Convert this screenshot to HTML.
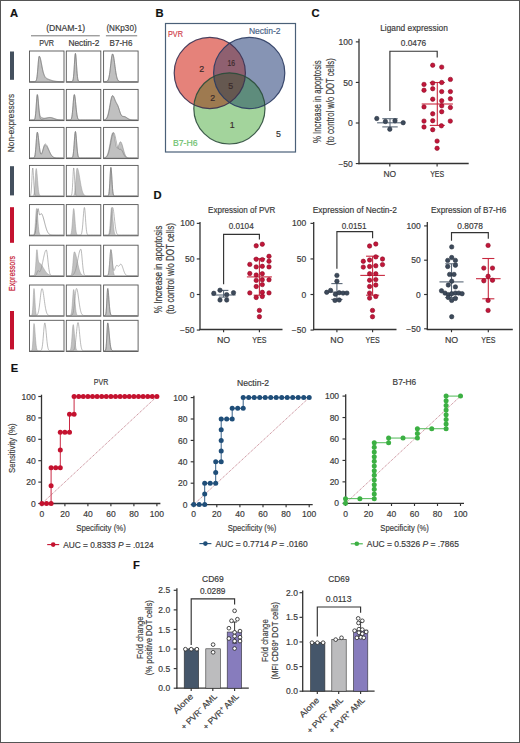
<!DOCTYPE html>
<html><head><meta charset="utf-8"><style>
html,body{margin:0;padding:0;background:#fff;width:520px;height:743px;overflow:hidden}
svg{display:block}
text{font-family:"Liberation Sans",sans-serif;stroke:currentColor;stroke-width:0.18px;paint-order:stroke}
</style></head><body>
<svg width="520" height="743" viewBox="0 0 520 743">
<rect width="520" height="743" fill="#fff"/>
<rect x="0.00" y="0.00" width="520.00" height="1.00" fill="#555"/>
<rect x="0.00" y="742.00" width="520.00" height="1.00" fill="#555"/>
<rect x="0.00" y="0.00" width="1.00" height="743.00" fill="#555"/>
<rect x="519.00" y="0.00" width="1.00" height="743.00" fill="#555"/>
<text x="9.90" y="16.90" font-size="11.2" font-weight="bold" fill="#111" color="#111">A</text>
<text x="155.40" y="17.40" font-size="11.2" font-weight="bold" fill="#111" color="#111">B</text>
<text x="311.40" y="17.00" font-size="11.2" font-weight="bold" fill="#111" color="#111">C</text>
<text x="153.40" y="199.30" font-size="11.2" font-weight="bold" fill="#111" color="#111">D</text>
<text x="10.80" y="371.70" font-size="11.2" font-weight="bold" fill="#111" color="#111">E</text>
<text x="133.00" y="568.70" font-size="11.2" font-weight="bold" fill="#111" color="#111">F</text>
<text x="65.70" y="31.10" font-size="8.5" text-anchor="middle" textLength="39.00" lengthAdjust="spacingAndGlyphs" fill="#3a3a3a" color="#3a3a3a">(DNAM-1)</text>
<text x="121.50" y="31.10" font-size="8.5" text-anchor="middle" textLength="30.20" lengthAdjust="spacingAndGlyphs" fill="#3a3a3a" color="#3a3a3a">(NKp30)</text>
<line x1="31.00" y1="35.80" x2="99.80" y2="35.80" stroke="#777" stroke-width="1.0"/>
<line x1="105.90" y1="35.80" x2="137.20" y2="35.80" stroke="#777" stroke-width="1.0"/>
<text x="46.60" y="45.80" font-size="8.2" text-anchor="middle" textLength="14.80" lengthAdjust="spacingAndGlyphs" fill="#3a3a3a" color="#3a3a3a">PVR</text>
<text x="83.90" y="45.80" font-size="8.2" text-anchor="middle" textLength="31.00" lengthAdjust="spacingAndGlyphs" fill="#3a3a3a" color="#3a3a3a">Nectin-2</text>
<text x="121.00" y="45.80" font-size="8.2" text-anchor="middle" textLength="22.80" lengthAdjust="spacingAndGlyphs" fill="#3a3a3a" color="#3a3a3a">B7-H6</text>
<rect x="10.00" y="51.50" width="4.00" height="28.30" fill="#44505e"/>
<rect x="10.00" y="166.20" width="4.00" height="29.20" fill="#44505e"/>
<rect x="10.00" y="207.20" width="4.00" height="35.60" fill="#c4122f"/>
<rect x="10.00" y="311.00" width="4.00" height="38.40" fill="#c4122f"/>
<text transform="translate(14.40,123.00) rotate(-90)" x="0" y="0" font-size="9.2" text-anchor="middle" textLength="58.40" lengthAdjust="spacingAndGlyphs" fill="#444" color="#444">Non-expressors</text>
<text transform="translate(14.60,273.50) rotate(-90)" x="0" y="0" font-size="9.2" text-anchor="middle" textLength="35.00" lengthAdjust="spacingAndGlyphs" fill="#c4122f" color="#c4122f">Expressors</text>
<path d="M30.10,81.60 L30.10,81.60 L30.38,81.60 L30.66,81.60 L30.93,81.60 L31.21,81.60 L31.49,81.60 L31.77,81.60 L32.04,81.60 L32.32,81.60 L32.60,81.60 L32.88,81.60 L33.15,81.60 L33.43,81.60 L33.71,81.60 L33.98,81.60 L34.26,81.59 L34.54,81.59 L34.82,81.57 L35.09,81.53 L35.37,81.44 L35.65,81.28 L35.93,80.99 L36.20,80.48 L36.48,79.66 L36.76,78.40 L37.04,76.62 L37.31,74.24 L37.59,71.30 L37.87,67.92 L38.15,64.39 L38.42,61.06 L38.70,58.36 L38.98,56.67 L39.26,56.20 L39.53,56.37 L39.81,56.84 L40.09,57.60 L40.37,58.61 L40.64,59.82 L40.92,61.18 L41.20,62.64 L41.48,64.15 L41.76,65.67 L42.03,67.16 L42.31,68.59 L42.59,69.93 L42.87,71.16 L43.14,72.29 L43.42,73.32 L43.70,74.25 L43.98,75.09 L44.25,75.83 L44.53,76.45 L44.81,76.97 L45.09,77.40 L45.36,77.75 L45.64,78.04 L45.92,78.29 L46.20,78.49 L46.47,78.67 L46.75,78.82 L47.03,78.96 L47.30,79.08 L47.58,79.20 L47.86,79.32 L48.14,79.43 L48.41,79.53 L48.69,79.64 L48.97,79.75 L49.25,79.85 L49.53,79.95 L49.80,80.05 L50.08,80.15 L50.36,80.25 L50.64,80.34 L50.91,80.44 L51.19,80.52 L51.47,80.61 L51.74,80.69 L52.02,80.76 L52.30,80.84 L52.58,80.91 L52.86,80.97 L53.13,81.03 L53.41,81.08 L53.69,81.14 L53.97,81.18 L54.24,81.23 L54.52,81.27 L54.80,81.31 L55.08,81.34 L55.35,81.37 L55.63,81.40 L55.91,81.42 L56.19,81.44 L56.46,81.46 L56.74,81.48 L57.02,81.50 L57.30,81.51 L57.57,81.52 L57.85,81.53 L58.13,81.54 L58.41,81.55 L58.68,81.56 L58.96,81.57 L59.24,81.57 L59.52,81.58 L59.79,81.58 L60.07,81.58 L60.35,81.59 L60.62,81.59 L60.90,81.59 L61.18,81.59 L61.46,81.59 L61.73,81.59 L62.01,81.60 L62.29,81.60 L62.57,81.60 L62.84,81.60 L63.12,81.60 L63.40,81.60 L63.40,81.60 Z" stroke="#7a7a7a" stroke-width="0.5" fill="#c0c0c0"/>
<path d="M30.10,81.60 L30.38,81.60 L30.66,81.60 L30.93,81.60 L31.21,81.60 L31.49,81.60 L31.77,81.60 L32.04,81.60 L32.32,81.60 L32.60,81.60 L32.88,81.60 L33.15,81.60 L33.43,81.60 L33.71,81.60 L33.98,81.60 L34.26,81.59 L34.54,81.59 L34.82,81.57 L35.09,81.53 L35.37,81.44 L35.65,81.28 L35.93,80.98 L36.20,80.47 L36.48,79.65 L36.76,78.39 L37.04,76.60 L37.31,74.21 L37.59,71.26 L37.87,67.87 L38.15,64.33 L38.42,61.00 L38.70,58.31 L38.98,56.63 L39.26,56.20 L39.53,56.38 L39.81,56.83 L40.09,57.54 L40.37,58.47 L40.64,59.59 L40.92,60.86 L41.20,62.24 L41.48,63.68 L41.76,65.14 L42.03,66.58 L42.31,67.97 L42.59,69.28 L42.87,70.49 L43.14,71.59 L43.42,72.58 L43.70,73.46 L43.98,74.24 L44.25,74.92 L44.53,75.54 L44.81,76.09 L45.09,76.60 L45.36,77.04 L45.64,77.40 L45.92,77.71 L46.20,77.96 L46.47,78.18 L46.75,78.36 L47.03,78.52 L47.30,78.67 L47.58,78.80 L47.86,78.92 L48.14,79.03 L48.41,79.14 L48.69,79.25 L48.97,79.36 L49.25,79.46 L49.53,79.57 L49.80,79.68 L50.08,79.78 L50.36,79.88 L50.64,79.99 L50.91,80.09 L51.19,80.19 L51.47,80.28 L51.74,80.37 L52.02,80.47 L52.30,80.55 L52.58,80.63 L52.86,80.71 L53.13,80.79 L53.41,80.86 L53.69,80.93 L53.97,80.99 L54.24,81.05 L54.52,81.10 L54.80,81.15 L55.08,81.20 L55.35,81.24 L55.63,81.28 L55.91,81.32 L56.19,81.35 L56.46,81.38 L56.74,81.41 L57.02,81.43 L57.30,81.45 L57.57,81.47 L57.85,81.49 L58.13,81.50 L58.41,81.52 L58.68,81.53 L58.96,81.54 L59.24,81.55 L59.52,81.55 L59.79,81.56 L60.07,81.57 L60.35,81.57 L60.62,81.58 L60.90,81.58 L61.18,81.58 L61.46,81.59 L61.73,81.59 L62.01,81.59 L62.29,81.59 L62.57,81.59 L62.84,81.59 L63.12,81.60 L63.40,81.60" stroke="#7a7a7a" stroke-width="0.6" fill="none"/>
<path d="M66.90,81.60 L66.90,81.60 L67.18,81.60 L67.45,81.60 L67.73,81.60 L68.01,81.60 L68.29,81.60 L68.56,81.60 L68.84,81.60 L69.12,81.60 L69.40,81.60 L69.67,81.60 L69.95,81.60 L70.23,81.60 L70.51,81.60 L70.78,81.60 L71.06,81.60 L71.34,81.59 L71.62,81.58 L71.89,81.54 L72.17,81.45 L72.45,81.23 L72.73,80.80 L73.00,79.99 L73.28,78.59 L73.56,76.39 L73.84,73.24 L74.11,69.20 L74.39,64.55 L74.67,59.90 L74.95,56.03 L75.22,53.71 L75.50,53.40 L75.78,54.92 L76.06,57.91 L76.33,61.86 L76.61,66.17 L76.89,70.28 L77.17,73.81 L77.44,76.57 L77.72,78.55 L78.00,79.87 L78.28,80.67 L78.55,81.14 L78.83,81.38 L79.11,81.50 L79.39,81.56 L79.66,81.58 L79.94,81.59 L80.22,81.60 L80.50,81.60 L80.77,81.60 L81.05,81.60 L81.33,81.60 L81.61,81.60 L81.88,81.60 L82.16,81.60 L82.44,81.60 L82.72,81.60 L82.99,81.60 L83.27,81.60 L83.55,81.60 L83.83,81.60 L84.10,81.60 L84.38,81.60 L84.66,81.60 L84.94,81.60 L85.21,81.60 L85.49,81.60 L85.77,81.60 L86.05,81.60 L86.32,81.60 L86.60,81.60 L86.88,81.60 L87.16,81.60 L87.43,81.60 L87.71,81.60 L87.99,81.60 L88.27,81.60 L88.54,81.60 L88.82,81.60 L89.10,81.60 L89.38,81.60 L89.65,81.60 L89.93,81.60 L90.21,81.60 L90.49,81.60 L90.76,81.60 L91.04,81.60 L91.32,81.60 L91.60,81.60 L91.87,81.60 L92.15,81.60 L92.43,81.60 L92.71,81.60 L92.98,81.60 L93.26,81.60 L93.54,81.60 L93.82,81.60 L94.09,81.60 L94.37,81.60 L94.65,81.60 L94.93,81.60 L95.20,81.60 L95.48,81.60 L95.76,81.60 L96.04,81.60 L96.31,81.60 L96.59,81.60 L96.87,81.60 L97.15,81.60 L97.42,81.60 L97.70,81.60 L97.98,81.60 L98.26,81.60 L98.53,81.60 L98.81,81.60 L99.09,81.60 L99.37,81.60 L99.64,81.60 L99.92,81.60 L100.20,81.60 L100.20,81.60 Z" stroke="#7a7a7a" stroke-width="0.5" fill="#c0c0c0"/>
<path d="M66.90,81.60 L67.18,81.60 L67.45,81.60 L67.73,81.60 L68.01,81.60 L68.29,81.60 L68.56,81.60 L68.84,81.60 L69.12,81.60 L69.40,81.60 L69.67,81.60 L69.95,81.60 L70.23,81.60 L70.51,81.60 L70.78,81.60 L71.06,81.60 L71.34,81.59 L71.62,81.58 L71.89,81.54 L72.17,81.45 L72.45,81.23 L72.73,80.80 L73.00,79.99 L73.28,78.59 L73.56,76.39 L73.84,73.24 L74.11,69.20 L74.39,64.55 L74.67,59.90 L74.95,56.03 L75.22,53.71 L75.50,53.40 L75.78,54.92 L76.06,57.91 L76.33,61.86 L76.61,66.17 L76.89,70.28 L77.17,73.81 L77.44,76.57 L77.72,78.55 L78.00,79.87 L78.28,80.67 L78.55,81.14 L78.83,81.38 L79.11,81.50 L79.39,81.56 L79.66,81.58 L79.94,81.59 L80.22,81.60 L80.50,81.60 L80.77,81.60 L81.05,81.60 L81.33,81.60 L81.61,81.60 L81.88,81.60 L82.16,81.60 L82.44,81.60 L82.72,81.60 L82.99,81.60 L83.27,81.60 L83.55,81.60 L83.83,81.60 L84.10,81.60 L84.38,81.60 L84.66,81.60 L84.94,81.60 L85.21,81.60 L85.49,81.60 L85.77,81.60 L86.05,81.60 L86.32,81.60 L86.60,81.60 L86.88,81.60 L87.16,81.60 L87.43,81.60 L87.71,81.60 L87.99,81.60 L88.27,81.60 L88.54,81.60 L88.82,81.60 L89.10,81.60 L89.38,81.60 L89.65,81.60 L89.93,81.60 L90.21,81.60 L90.49,81.60 L90.76,81.60 L91.04,81.60 L91.32,81.60 L91.60,81.60 L91.87,81.60 L92.15,81.60 L92.43,81.60 L92.71,81.60 L92.98,81.60 L93.26,81.60 L93.54,81.60 L93.82,81.60 L94.09,81.60 L94.37,81.60 L94.65,81.60 L94.93,81.60 L95.20,81.60 L95.48,81.60 L95.76,81.60 L96.04,81.60 L96.31,81.60 L96.59,81.60 L96.87,81.60 L97.15,81.60 L97.42,81.60 L97.70,81.60 L97.98,81.60 L98.26,81.60 L98.53,81.60 L98.81,81.60 L99.09,81.60 L99.37,81.60 L99.64,81.60 L99.92,81.60 L100.20,81.60" stroke="#7a7a7a" stroke-width="0.6" fill="none"/>
<path d="M104.20,81.60 L104.20,81.60 L104.48,81.60 L104.75,81.59 L105.03,81.59 L105.31,81.58 L105.59,81.57 L105.86,81.55 L106.14,81.51 L106.42,81.46 L106.70,81.38 L106.97,81.25 L107.25,81.07 L107.53,80.81 L107.81,80.45 L108.08,79.96 L108.36,79.30 L108.64,78.45 L108.92,77.38 L109.19,76.06 L109.47,74.47 L109.75,72.63 L110.03,70.55 L110.30,68.28 L110.58,65.88 L110.86,63.44 L111.14,61.06 L111.41,58.86 L111.69,56.96 L111.97,55.46 L112.25,54.45 L112.52,54.00 L112.80,54.10 L113.08,54.63 L113.36,55.57 L113.63,56.87 L113.91,58.48 L114.19,60.33 L114.47,62.33 L114.74,64.43 L115.02,66.54 L115.30,68.59 L115.58,70.55 L115.85,72.36 L116.13,73.99 L116.41,75.43 L116.69,76.68 L116.96,77.74 L117.24,78.62 L117.52,79.33 L117.80,79.90 L118.07,80.35 L118.35,80.70 L118.63,80.95 L118.91,81.15 L119.18,81.29 L119.46,81.39 L119.74,81.46 L120.02,81.51 L120.29,81.54 L120.57,81.56 L120.85,81.58 L121.13,81.58 L121.40,81.59 L121.68,81.59 L121.96,81.60 L122.24,81.60 L122.51,81.60 L122.79,81.60 L123.07,81.60 L123.35,81.60 L123.62,81.60 L123.90,81.60 L124.18,81.60 L124.46,81.60 L124.73,81.60 L125.01,81.60 L125.29,81.60 L125.57,81.60 L125.84,81.60 L126.12,81.60 L126.40,81.60 L126.68,81.60 L126.95,81.60 L127.23,81.60 L127.51,81.60 L127.79,81.60 L128.06,81.60 L128.34,81.60 L128.62,81.60 L128.90,81.60 L129.17,81.60 L129.45,81.60 L129.73,81.60 L130.01,81.60 L130.28,81.60 L130.56,81.60 L130.84,81.60 L131.12,81.60 L131.39,81.60 L131.67,81.60 L131.95,81.60 L132.23,81.60 L132.50,81.60 L132.78,81.60 L133.06,81.60 L133.34,81.60 L133.61,81.60 L133.89,81.60 L134.17,81.60 L134.45,81.60 L134.72,81.60 L135.00,81.60 L135.28,81.60 L135.56,81.60 L135.83,81.60 L136.11,81.60 L136.39,81.60 L136.67,81.60 L136.94,81.60 L137.22,81.60 L137.50,81.60 L137.50,81.60 Z" stroke="#7a7a7a" stroke-width="0.5" fill="#c0c0c0"/>
<path d="M104.20,81.60 L104.48,81.60 L104.75,81.59 L105.03,81.59 L105.31,81.58 L105.59,81.57 L105.86,81.55 L106.14,81.51 L106.42,81.46 L106.70,81.38 L106.97,81.25 L107.25,81.07 L107.53,80.81 L107.81,80.45 L108.08,79.96 L108.36,79.30 L108.64,78.45 L108.92,77.38 L109.19,76.06 L109.47,74.47 L109.75,72.63 L110.03,70.55 L110.30,68.28 L110.58,65.88 L110.86,63.44 L111.14,61.06 L111.41,58.86 L111.69,56.96 L111.97,55.46 L112.25,54.45 L112.52,54.00 L112.80,54.10 L113.08,54.63 L113.36,55.57 L113.63,56.87 L113.91,58.48 L114.19,60.33 L114.47,62.33 L114.74,64.43 L115.02,66.54 L115.30,68.59 L115.58,70.55 L115.85,72.36 L116.13,73.99 L116.41,75.43 L116.69,76.68 L116.96,77.74 L117.24,78.62 L117.52,79.33 L117.80,79.90 L118.07,80.35 L118.35,80.70 L118.63,80.95 L118.91,81.15 L119.18,81.29 L119.46,81.39 L119.74,81.46 L120.02,81.51 L120.29,81.54 L120.57,81.56 L120.85,81.58 L121.13,81.58 L121.40,81.59 L121.68,81.59 L121.96,81.60 L122.24,81.60 L122.51,81.60 L122.79,81.60 L123.07,81.60 L123.35,81.60 L123.62,81.60 L123.90,81.60 L124.18,81.60 L124.46,81.60 L124.73,81.60 L125.01,81.60 L125.29,81.60 L125.57,81.60 L125.84,81.60 L126.12,81.60 L126.40,81.60 L126.68,81.60 L126.95,81.60 L127.23,81.60 L127.51,81.60 L127.79,81.60 L128.06,81.60 L128.34,81.60 L128.62,81.60 L128.90,81.60 L129.17,81.60 L129.45,81.60 L129.73,81.60 L130.01,81.60 L130.28,81.60 L130.56,81.60 L130.84,81.60 L131.12,81.60 L131.39,81.60 L131.67,81.60 L131.95,81.60 L132.23,81.60 L132.50,81.60 L132.78,81.60 L133.06,81.60 L133.34,81.60 L133.61,81.60 L133.89,81.60 L134.17,81.60 L134.45,81.60 L134.72,81.60 L135.00,81.60 L135.28,81.60 L135.56,81.60 L135.83,81.60 L136.11,81.60 L136.39,81.60 L136.67,81.60 L136.94,81.60 L137.22,81.60 L137.50,81.60" stroke="#7a7a7a" stroke-width="0.6" fill="none"/>
<path d="M30.10,120.00 L30.10,120.00 L30.38,120.00 L30.66,120.00 L30.93,120.00 L31.21,120.00 L31.49,120.00 L31.77,120.00 L32.04,120.00 L32.32,120.00 L32.60,119.99 L32.88,119.99 L33.15,119.99 L33.43,119.97 L33.71,119.95 L33.98,119.88 L34.26,119.73 L34.54,119.42 L34.82,118.83 L35.09,117.78 L35.37,116.10 L35.65,113.63 L35.93,110.33 L36.20,106.38 L36.48,102.21 L36.76,98.43 L37.04,95.72 L37.31,94.60 L37.59,94.96 L37.87,96.48 L38.15,98.89 L38.42,101.86 L38.70,105.00 L38.98,108.01 L39.26,110.63 L39.53,112.73 L39.81,114.29 L40.09,115.40 L40.37,116.15 L40.64,116.64 L40.92,116.97 L41.20,117.19 L41.48,117.36 L41.76,117.49 L42.03,117.61 L42.31,117.71 L42.59,117.81 L42.87,117.90 L43.14,117.97 L43.42,118.04 L43.70,118.09 L43.98,118.13 L44.25,118.15 L44.53,118.17 L44.81,118.17 L45.09,118.17 L45.36,118.15 L45.64,118.13 L45.92,118.10 L46.20,118.06 L46.47,118.02 L46.75,117.97 L47.03,117.93 L47.30,117.88 L47.58,117.84 L47.86,117.79 L48.14,117.75 L48.41,117.72 L48.69,117.69 L48.97,117.66 L49.25,117.64 L49.53,117.63 L49.80,117.62 L50.08,117.62 L50.36,117.63 L50.64,117.65 L50.91,117.68 L51.19,117.72 L51.47,117.78 L51.74,117.84 L52.02,117.91 L52.30,117.98 L52.58,118.07 L52.86,118.16 L53.13,118.25 L53.41,118.35 L53.69,118.44 L53.97,118.54 L54.24,118.64 L54.52,118.74 L54.80,118.84 L55.08,118.94 L55.35,119.03 L55.63,119.12 L55.91,119.20 L56.19,119.28 L56.46,119.36 L56.74,119.42 L57.02,119.49 L57.30,119.55 L57.57,119.60 L57.85,119.65 L58.13,119.70 L58.41,119.74 L58.68,119.77 L58.96,119.81 L59.24,119.83 L59.52,119.86 L59.79,119.88 L60.07,119.90 L60.35,119.92 L60.62,119.93 L60.90,119.94 L61.18,119.95 L61.46,119.96 L61.73,119.97 L62.01,119.97 L62.29,119.98 L62.57,119.98 L62.84,119.99 L63.12,119.99 L63.40,119.99 L63.40,120.00 Z" stroke="#7a7a7a" stroke-width="0.5" fill="#c0c0c0"/>
<path d="M30.10,120.00 L30.38,120.00 L30.66,120.00 L30.93,120.00 L31.21,120.00 L31.49,120.00 L31.77,120.00 L32.04,120.00 L32.32,120.00 L32.60,119.99 L32.88,119.99 L33.15,119.99 L33.43,119.98 L33.71,119.95 L33.98,119.88 L34.26,119.73 L34.54,119.42 L34.82,118.81 L35.09,117.75 L35.37,116.02 L35.65,113.47 L35.93,110.09 L36.20,106.05 L36.48,101.82 L36.76,98.06 L37.04,95.47 L37.31,94.60 L37.59,95.32 L37.87,97.27 L38.15,100.13 L38.42,103.52 L38.70,107.02 L38.98,110.28 L39.26,113.06 L39.53,115.25 L39.81,116.86 L40.09,117.95 L40.37,118.64 L40.64,119.04 L40.92,119.25 L41.20,119.33 L41.48,119.35 L41.76,119.32 L42.03,119.28 L42.31,119.22 L42.59,119.16 L42.87,119.09 L43.14,119.01 L43.42,118.94 L43.70,118.86 L43.98,118.78 L44.25,118.69 L44.53,118.61 L44.81,118.52 L45.09,118.44 L45.36,118.35 L45.64,118.27 L45.92,118.19 L46.20,118.11 L46.47,118.03 L46.75,117.95 L47.03,117.88 L47.30,117.81 L47.58,117.75 L47.86,117.69 L48.14,117.64 L48.41,117.59 L48.69,117.55 L48.97,117.52 L49.25,117.50 L49.53,117.48 L49.80,117.47 L50.08,117.47 L50.36,117.48 L50.64,117.50 L50.91,117.53 L51.19,117.58 L51.47,117.63 L51.74,117.70 L52.02,117.77 L52.30,117.86 L52.58,117.94 L52.86,118.04 L53.13,118.14 L53.41,118.24 L53.69,118.35 L53.97,118.45 L54.24,118.56 L54.52,118.66 L54.80,118.77 L55.08,118.87 L55.35,118.97 L55.63,119.06 L55.91,119.15 L56.19,119.23 L56.46,119.31 L56.74,119.39 L57.02,119.46 L57.30,119.52 L57.57,119.58 L57.85,119.63 L58.13,119.68 L58.41,119.72 L58.68,119.76 L58.96,119.79 L59.24,119.82 L59.52,119.85 L59.79,119.87 L60.07,119.89 L60.35,119.91 L60.62,119.93 L60.90,119.94 L61.18,119.95 L61.46,119.96 L61.73,119.97 L62.01,119.97 L62.29,119.98 L62.57,119.98 L62.84,119.99 L63.12,119.99 L63.40,119.99" stroke="#7a7a7a" stroke-width="0.6" fill="none"/>
<path d="M66.90,120.00 L66.90,120.00 L67.18,120.00 L67.45,120.00 L67.73,120.00 L68.01,120.00 L68.29,120.00 L68.56,120.00 L68.84,120.00 L69.12,120.00 L69.40,119.99 L69.67,119.98 L69.95,119.96 L70.23,119.92 L70.51,119.83 L70.78,119.65 L71.06,119.33 L71.34,118.79 L71.62,117.91 L71.89,116.58 L72.17,114.71 L72.45,112.25 L72.73,109.22 L73.00,105.78 L73.28,102.24 L73.56,98.96 L73.84,96.37 L74.11,94.85 L74.39,94.60 L74.67,95.31 L74.95,96.82 L75.22,98.96 L75.50,101.55 L75.78,104.36 L76.06,107.19 L76.33,109.86 L76.61,112.25 L76.89,114.27 L77.17,115.91 L77.44,117.17 L77.72,118.12 L78.00,118.79 L78.28,119.24 L78.55,119.54 L78.83,119.74 L79.11,119.85 L79.39,119.92 L79.66,119.96 L79.94,119.98 L80.22,119.99 L80.50,120.00 L80.77,120.00 L81.05,120.00 L81.33,120.00 L81.61,120.00 L81.88,120.00 L82.16,120.00 L82.44,120.00 L82.72,120.00 L82.99,120.00 L83.27,120.00 L83.55,120.00 L83.83,120.00 L84.10,120.00 L84.38,120.00 L84.66,120.00 L84.94,120.00 L85.21,120.00 L85.49,120.00 L85.77,120.00 L86.05,120.00 L86.32,120.00 L86.60,120.00 L86.88,120.00 L87.16,120.00 L87.43,120.00 L87.71,120.00 L87.99,120.00 L88.27,120.00 L88.54,120.00 L88.82,120.00 L89.10,120.00 L89.38,120.00 L89.65,120.00 L89.93,120.00 L90.21,120.00 L90.49,120.00 L90.76,120.00 L91.04,120.00 L91.32,120.00 L91.60,120.00 L91.87,120.00 L92.15,120.00 L92.43,120.00 L92.71,120.00 L92.98,120.00 L93.26,120.00 L93.54,120.00 L93.82,120.00 L94.09,120.00 L94.37,120.00 L94.65,120.00 L94.93,120.00 L95.20,120.00 L95.48,120.00 L95.76,120.00 L96.04,120.00 L96.31,120.00 L96.59,120.00 L96.87,120.00 L97.15,120.00 L97.42,120.00 L97.70,120.00 L97.98,120.00 L98.26,120.00 L98.53,120.00 L98.81,120.00 L99.09,120.00 L99.37,120.00 L99.64,120.00 L99.92,120.00 L100.20,120.00 L100.20,120.00 Z" stroke="#7a7a7a" stroke-width="0.5" fill="#c0c0c0"/>
<path d="M66.90,120.00 L67.18,120.00 L67.45,120.00 L67.73,120.00 L68.01,120.00 L68.29,120.00 L68.56,120.00 L68.84,120.00 L69.12,120.00 L69.40,119.99 L69.67,119.98 L69.95,119.96 L70.23,119.92 L70.51,119.83 L70.78,119.65 L71.06,119.33 L71.34,118.79 L71.62,117.91 L71.89,116.58 L72.17,114.71 L72.45,112.25 L72.73,109.22 L73.00,105.78 L73.28,102.24 L73.56,98.96 L73.84,96.37 L74.11,94.85 L74.39,94.60 L74.67,95.31 L74.95,96.82 L75.22,98.96 L75.50,101.55 L75.78,104.36 L76.06,107.19 L76.33,109.86 L76.61,112.25 L76.89,114.27 L77.17,115.91 L77.44,117.17 L77.72,118.12 L78.00,118.79 L78.28,119.24 L78.55,119.54 L78.83,119.74 L79.11,119.85 L79.39,119.92 L79.66,119.96 L79.94,119.98 L80.22,119.99 L80.50,120.00 L80.77,120.00 L81.05,120.00 L81.33,120.00 L81.61,120.00 L81.88,120.00 L82.16,120.00 L82.44,120.00 L82.72,120.00 L82.99,120.00 L83.27,120.00 L83.55,120.00 L83.83,120.00 L84.10,120.00 L84.38,120.00 L84.66,120.00 L84.94,120.00 L85.21,120.00 L85.49,120.00 L85.77,120.00 L86.05,120.00 L86.32,120.00 L86.60,120.00 L86.88,120.00 L87.16,120.00 L87.43,120.00 L87.71,120.00 L87.99,120.00 L88.27,120.00 L88.54,120.00 L88.82,120.00 L89.10,120.00 L89.38,120.00 L89.65,120.00 L89.93,120.00 L90.21,120.00 L90.49,120.00 L90.76,120.00 L91.04,120.00 L91.32,120.00 L91.60,120.00 L91.87,120.00 L92.15,120.00 L92.43,120.00 L92.71,120.00 L92.98,120.00 L93.26,120.00 L93.54,120.00 L93.82,120.00 L94.09,120.00 L94.37,120.00 L94.65,120.00 L94.93,120.00 L95.20,120.00 L95.48,120.00 L95.76,120.00 L96.04,120.00 L96.31,120.00 L96.59,120.00 L96.87,120.00 L97.15,120.00 L97.42,120.00 L97.70,120.00 L97.98,120.00 L98.26,120.00 L98.53,120.00 L98.81,120.00 L99.09,120.00 L99.37,120.00 L99.64,120.00 L99.92,120.00 L100.20,120.00" stroke="#7a7a7a" stroke-width="0.6" fill="none"/>
<path d="M104.20,120.00 L104.20,119.83 L104.48,119.77 L104.75,119.68 L105.03,119.57 L105.31,119.41 L105.59,119.22 L105.86,118.98 L106.14,118.67 L106.42,118.29 L106.70,117.82 L106.97,117.27 L107.25,116.60 L107.53,115.83 L107.81,114.94 L108.08,113.92 L108.36,112.78 L108.64,111.53 L108.92,110.17 L109.19,108.73 L109.47,107.21 L109.75,105.66 L110.03,104.10 L110.30,102.57 L110.58,101.11 L110.86,99.76 L111.14,98.55 L111.41,97.53 L111.69,96.71 L111.97,96.13 L112.25,95.79 L112.52,95.70 L112.80,95.80 L113.08,96.06 L113.36,96.47 L113.63,97.00 L113.91,97.62 L114.19,98.32 L114.47,99.04 L114.74,99.77 L115.02,100.48 L115.30,101.15 L115.58,101.77 L115.85,102.33 L116.13,102.84 L116.41,103.30 L116.69,103.74 L116.96,104.18 L117.24,104.63 L117.52,105.13 L117.80,105.68 L118.07,106.31 L118.35,107.01 L118.63,107.78 L118.91,108.61 L119.18,109.48 L119.46,110.37 L119.74,111.25 L120.02,112.09 L120.29,112.89 L120.57,113.60 L120.85,114.23 L121.13,114.77 L121.40,115.21 L121.68,115.56 L121.96,115.82 L122.24,116.02 L122.51,116.15 L122.79,116.24 L123.07,116.31 L123.35,116.35 L123.62,116.39 L123.90,116.43 L124.18,116.47 L124.46,116.54 L124.73,116.62 L125.01,116.72 L125.29,116.85 L125.57,116.99 L125.84,117.14 L126.12,117.32 L126.40,117.50 L126.68,117.69 L126.95,117.88 L127.23,118.07 L127.51,118.26 L127.79,118.45 L128.06,118.63 L128.34,118.79 L128.62,118.95 L128.90,119.09 L129.17,119.22 L129.45,119.34 L129.73,119.44 L130.01,119.54 L130.28,119.62 L130.56,119.69 L130.84,119.74 L131.12,119.79 L131.39,119.83 L131.67,119.87 L131.95,119.90 L132.23,119.92 L132.50,119.94 L132.78,119.95 L133.06,119.96 L133.34,119.97 L133.61,119.98 L133.89,119.99 L134.17,119.99 L134.45,119.99 L134.72,119.99 L135.00,120.00 L135.28,120.00 L135.56,120.00 L135.83,120.00 L136.11,120.00 L136.39,120.00 L136.67,120.00 L136.94,120.00 L137.22,120.00 L137.50,120.00 L137.50,120.00 Z" stroke="#7a7a7a" stroke-width="0.5" fill="#c0c0c0"/>
<path d="M104.20,119.91 L104.48,119.88 L104.75,119.83 L105.03,119.75 L105.31,119.66 L105.59,119.53 L105.86,119.36 L106.14,119.14 L106.42,118.87 L106.70,118.52 L106.97,118.09 L107.25,117.56 L107.53,116.92 L107.81,116.17 L108.08,115.29 L108.36,114.28 L108.64,113.14 L108.92,111.87 L109.19,110.49 L109.47,109.00 L109.75,107.44 L110.03,105.83 L110.30,104.21 L110.58,102.62 L110.86,101.11 L111.14,99.71 L111.41,98.46 L111.69,97.42 L111.97,96.60 L112.25,96.04 L112.52,95.75 L112.80,95.70 L113.08,95.82 L113.36,96.10 L113.63,96.52 L113.91,97.05 L114.19,97.66 L114.47,98.32 L114.74,99.02 L115.02,99.71 L115.30,100.39 L115.58,101.04 L115.85,101.64 L116.13,102.21 L116.41,102.75 L116.69,103.27 L116.96,103.79 L117.24,104.34 L117.52,104.92 L117.80,105.55 L118.07,106.24 L118.35,107.00 L118.63,107.83 L118.91,108.69 L119.18,109.59 L119.46,110.50 L119.74,111.40 L120.02,112.25 L120.29,113.05 L120.57,113.76 L120.85,114.39 L121.13,114.93 L121.40,115.37 L121.68,115.71 L121.96,115.98 L122.24,116.17 L122.51,116.31 L122.79,116.40 L123.07,116.47 L123.35,116.51 L123.62,116.55 L123.90,116.59 L124.18,116.64 L124.46,116.70 L124.73,116.78 L125.01,116.88 L125.29,117.00 L125.57,117.13 L125.84,117.28 L126.12,117.44 L126.40,117.62 L126.68,117.80 L126.95,117.98 L127.23,118.16 L127.51,118.35 L127.79,118.52 L128.06,118.69 L128.34,118.85 L128.62,119.00 L128.90,119.13 L129.17,119.26 L129.45,119.37 L129.73,119.47 L130.01,119.56 L130.28,119.63 L130.56,119.70 L130.84,119.76 L131.12,119.80 L131.39,119.84 L131.67,119.88 L131.95,119.90 L132.23,119.92 L132.50,119.94 L132.78,119.95 L133.06,119.97 L133.34,119.97 L133.61,119.98 L133.89,119.99 L134.17,119.99 L134.45,119.99 L134.72,119.99 L135.00,120.00 L135.28,120.00 L135.56,120.00 L135.83,120.00 L136.11,120.00 L136.39,120.00 L136.67,120.00 L136.94,120.00 L137.22,120.00 L137.50,120.00" stroke="#7a7a7a" stroke-width="0.6" fill="none"/>
<path d="M30.10,158.00 L30.10,158.00 L30.38,158.00 L30.66,158.00 L30.93,158.00 L31.21,158.00 L31.49,158.00 L31.77,158.00 L32.04,158.00 L32.32,158.00 L32.60,158.00 L32.88,157.99 L33.15,157.98 L33.43,157.95 L33.71,157.88 L33.98,157.73 L34.26,157.43 L34.54,156.89 L34.82,155.98 L35.09,154.54 L35.37,152.45 L35.65,149.63 L35.93,146.16 L36.20,142.29 L36.48,138.44 L36.76,135.14 L37.04,132.93 L37.31,132.20 L37.59,132.61 L37.87,133.75 L38.15,135.52 L38.42,137.75 L38.70,140.28 L38.98,142.91 L39.26,145.47 L39.53,147.81 L39.81,149.84 L40.09,151.50 L40.37,152.74 L40.64,153.59 L40.92,154.07 L41.20,154.21 L41.48,154.07 L41.76,153.68 L42.03,153.10 L42.31,152.37 L42.59,151.52 L42.87,150.60 L43.14,149.64 L43.42,148.69 L43.70,147.78 L43.98,146.96 L44.25,146.25 L44.53,145.69 L44.81,145.31 L45.09,145.13 L45.36,145.12 L45.64,145.21 L45.92,145.38 L46.20,145.62 L46.47,145.93 L46.75,146.31 L47.03,146.75 L47.30,147.24 L47.58,147.78 L47.86,148.34 L48.14,148.94 L48.41,149.55 L48.69,150.17 L48.97,150.78 L49.25,151.40 L49.53,151.99 L49.80,152.57 L50.08,153.12 L50.36,153.65 L50.64,154.14 L50.91,154.60 L51.19,155.02 L51.47,155.41 L51.74,155.76 L52.02,156.07 L52.30,156.35 L52.58,156.60 L52.86,156.82 L53.13,157.01 L53.41,157.18 L53.69,157.32 L53.97,157.44 L54.24,157.54 L54.52,157.63 L54.80,157.70 L55.08,157.76 L55.35,157.81 L55.63,157.85 L55.91,157.88 L56.19,157.91 L56.46,157.93 L56.74,157.94 L57.02,157.96 L57.30,157.97 L57.57,157.98 L57.85,157.98 L58.13,157.99 L58.41,157.99 L58.68,157.99 L58.96,157.99 L59.24,158.00 L59.52,158.00 L59.79,158.00 L60.07,158.00 L60.35,158.00 L60.62,158.00 L60.90,158.00 L61.18,158.00 L61.46,158.00 L61.73,158.00 L62.01,158.00 L62.29,158.00 L62.57,158.00 L62.84,158.00 L63.12,158.00 L63.40,158.00 L63.40,158.00 Z" stroke="#7a7a7a" stroke-width="0.5" fill="#c0c0c0"/>
<path d="M30.10,158.00 L30.38,158.00 L30.66,158.00 L30.93,158.00 L31.21,158.00 L31.49,158.00 L31.77,158.00 L32.04,158.00 L32.32,158.00 L32.60,158.00 L32.88,157.99 L33.15,157.98 L33.43,157.95 L33.71,157.88 L33.98,157.73 L34.26,157.43 L34.54,156.89 L34.82,155.98 L35.09,154.54 L35.37,152.45 L35.65,149.63 L35.93,146.16 L36.20,142.29 L36.48,138.44 L36.76,135.14 L37.04,132.93 L37.31,132.20 L37.59,132.61 L37.87,133.75 L38.15,135.51 L38.42,137.75 L38.70,140.27 L38.98,142.89 L39.26,145.44 L39.53,147.78 L39.81,149.79 L40.09,151.42 L40.37,152.65 L40.64,153.46 L40.92,153.90 L41.20,154.00 L41.48,153.81 L41.76,153.37 L42.03,152.72 L42.31,151.92 L42.59,150.99 L42.87,149.99 L43.14,148.95 L43.42,147.92 L43.70,146.93 L43.98,146.04 L44.25,145.27 L44.53,144.67 L44.81,144.26 L45.09,144.06 L45.36,144.05 L45.64,144.15 L45.92,144.33 L46.20,144.59 L46.47,144.93 L46.75,145.34 L47.03,145.82 L47.30,146.35 L47.58,146.92 L47.86,147.54 L48.14,148.18 L48.41,148.84 L48.69,149.51 L48.97,150.18 L49.25,150.85 L49.53,151.49 L49.80,152.12 L50.08,152.72 L50.36,153.29 L50.64,153.82 L50.91,154.31 L51.19,154.77 L51.47,155.19 L51.74,155.57 L52.02,155.91 L52.30,156.22 L52.58,156.49 L52.86,156.72 L53.13,156.93 L53.41,157.11 L53.69,157.26 L53.97,157.39 L54.24,157.50 L54.52,157.60 L54.80,157.67 L55.08,157.74 L55.35,157.79 L55.63,157.84 L55.91,157.87 L56.19,157.90 L56.46,157.92 L56.74,157.94 L57.02,157.95 L57.30,157.96 L57.57,157.97 L57.85,157.98 L58.13,157.98 L58.41,157.99 L58.68,157.99 L58.96,157.99 L59.24,158.00 L59.52,158.00 L59.79,158.00 L60.07,158.00 L60.35,158.00 L60.62,158.00 L60.90,158.00 L61.18,158.00 L61.46,158.00 L61.73,158.00 L62.01,158.00 L62.29,158.00 L62.57,158.00 L62.84,158.00 L63.12,158.00 L63.40,158.00" stroke="#7a7a7a" stroke-width="0.6" fill="none"/>
<path d="M66.90,158.00 L66.90,158.00 L67.18,158.00 L67.45,158.00 L67.73,158.00 L68.01,158.00 L68.29,158.00 L68.56,158.00 L68.84,158.00 L69.12,158.00 L69.40,158.00 L69.67,158.00 L69.95,158.00 L70.23,158.00 L70.51,158.00 L70.78,158.00 L71.06,157.99 L71.34,157.97 L71.62,157.93 L71.89,157.83 L72.17,157.64 L72.45,157.27 L72.73,156.61 L73.00,155.51 L73.28,153.83 L73.56,151.43 L73.84,148.30 L74.11,144.56 L74.39,140.51 L74.67,136.66 L74.95,133.56 L75.22,131.74 L75.50,131.50 L75.78,132.70 L76.06,135.11 L76.33,138.37 L76.61,142.04 L76.89,145.70 L77.17,149.01 L77.44,151.77 L77.72,153.91 L78.00,155.46 L78.28,156.50 L78.55,157.16 L78.83,157.56 L79.11,157.78 L79.39,157.89 L79.66,157.95 L79.94,157.98 L80.22,157.99 L80.50,158.00 L80.77,158.00 L81.05,158.00 L81.33,158.00 L81.61,158.00 L81.88,158.00 L82.16,158.00 L82.44,158.00 L82.72,158.00 L82.99,158.00 L83.27,158.00 L83.55,158.00 L83.83,158.00 L84.10,158.00 L84.38,158.00 L84.66,158.00 L84.94,158.00 L85.21,158.00 L85.49,158.00 L85.77,158.00 L86.05,158.00 L86.32,158.00 L86.60,158.00 L86.88,158.00 L87.16,158.00 L87.43,158.00 L87.71,158.00 L87.99,158.00 L88.27,158.00 L88.54,158.00 L88.82,158.00 L89.10,158.00 L89.38,158.00 L89.65,158.00 L89.93,158.00 L90.21,158.00 L90.49,158.00 L90.76,158.00 L91.04,158.00 L91.32,158.00 L91.60,158.00 L91.87,158.00 L92.15,158.00 L92.43,158.00 L92.71,158.00 L92.98,158.00 L93.26,158.00 L93.54,158.00 L93.82,158.00 L94.09,158.00 L94.37,158.00 L94.65,158.00 L94.93,158.00 L95.20,158.00 L95.48,158.00 L95.76,158.00 L96.04,158.00 L96.31,158.00 L96.59,158.00 L96.87,158.00 L97.15,158.00 L97.42,158.00 L97.70,158.00 L97.98,158.00 L98.26,158.00 L98.53,158.00 L98.81,158.00 L99.09,158.00 L99.37,158.00 L99.64,158.00 L99.92,158.00 L100.20,158.00 L100.20,158.00 Z" stroke="#7a7a7a" stroke-width="0.5" fill="#c0c0c0"/>
<path d="M66.90,158.00 L67.18,158.00 L67.45,158.00 L67.73,158.00 L68.01,158.00 L68.29,158.00 L68.56,158.00 L68.84,158.00 L69.12,158.00 L69.40,158.00 L69.67,158.00 L69.95,158.00 L70.23,158.00 L70.51,158.00 L70.78,158.00 L71.06,157.99 L71.34,157.97 L71.62,157.93 L71.89,157.83 L72.17,157.64 L72.45,157.27 L72.73,156.61 L73.00,155.51 L73.28,153.83 L73.56,151.43 L73.84,148.30 L74.11,144.56 L74.39,140.51 L74.67,136.66 L74.95,133.56 L75.22,131.74 L75.50,131.50 L75.78,132.70 L76.06,135.11 L76.33,138.37 L76.61,142.04 L76.89,145.70 L77.17,149.01 L77.44,151.77 L77.72,153.91 L78.00,155.46 L78.28,156.50 L78.55,157.16 L78.83,157.56 L79.11,157.78 L79.39,157.89 L79.66,157.95 L79.94,157.98 L80.22,157.99 L80.50,158.00 L80.77,158.00 L81.05,158.00 L81.33,158.00 L81.61,158.00 L81.88,158.00 L82.16,158.00 L82.44,158.00 L82.72,158.00 L82.99,158.00 L83.27,158.00 L83.55,158.00 L83.83,158.00 L84.10,158.00 L84.38,158.00 L84.66,158.00 L84.94,158.00 L85.21,158.00 L85.49,158.00 L85.77,158.00 L86.05,158.00 L86.32,158.00 L86.60,158.00 L86.88,158.00 L87.16,158.00 L87.43,158.00 L87.71,158.00 L87.99,158.00 L88.27,158.00 L88.54,158.00 L88.82,158.00 L89.10,158.00 L89.38,158.00 L89.65,158.00 L89.93,158.00 L90.21,158.00 L90.49,158.00 L90.76,158.00 L91.04,158.00 L91.32,158.00 L91.60,158.00 L91.87,158.00 L92.15,158.00 L92.43,158.00 L92.71,158.00 L92.98,158.00 L93.26,158.00 L93.54,158.00 L93.82,158.00 L94.09,158.00 L94.37,158.00 L94.65,158.00 L94.93,158.00 L95.20,158.00 L95.48,158.00 L95.76,158.00 L96.04,158.00 L96.31,158.00 L96.59,158.00 L96.87,158.00 L97.15,158.00 L97.42,158.00 L97.70,158.00 L97.98,158.00 L98.26,158.00 L98.53,158.00 L98.81,158.00 L99.09,158.00 L99.37,158.00 L99.64,158.00 L99.92,158.00 L100.20,158.00" stroke="#7a7a7a" stroke-width="0.6" fill="none"/>
<path d="M104.20,158.00 L104.20,157.82 L104.48,157.75 L104.75,157.67 L105.03,157.56 L105.31,157.42 L105.59,157.24 L105.86,157.01 L106.14,156.74 L106.42,156.40 L106.70,155.99 L106.97,155.50 L107.25,154.92 L107.53,154.24 L107.81,153.46 L108.08,152.57 L108.36,151.57 L108.64,150.46 L108.92,149.25 L109.19,147.94 L109.47,146.55 L109.75,145.09 L110.03,143.58 L110.30,142.06 L110.58,140.55 L110.86,139.08 L111.14,137.69 L111.41,136.41 L111.69,135.28 L111.97,134.31 L112.25,133.54 L112.52,132.99 L112.80,132.68 L113.08,132.60 L113.36,132.87 L113.63,133.52 L113.91,134.49 L114.19,135.74 L114.47,137.21 L114.74,138.80 L115.02,140.46 L115.30,142.08 L115.58,143.62 L115.85,144.99 L116.13,146.15 L116.41,147.06 L116.69,147.70 L116.96,148.06 L117.24,148.14 L117.52,147.97 L117.80,147.57 L118.07,146.98 L118.35,146.26 L118.63,145.46 L118.91,144.63 L119.18,143.83 L119.46,143.10 L119.74,142.51 L120.02,142.08 L120.29,141.84 L120.57,141.82 L120.85,141.98 L121.13,142.32 L121.40,142.81 L121.68,143.46 L121.96,144.23 L122.24,145.10 L122.51,146.06 L122.79,147.07 L123.07,148.11 L123.35,149.15 L123.62,150.17 L123.90,151.15 L124.18,152.08 L124.46,152.94 L124.73,153.72 L125.01,154.43 L125.29,155.05 L125.57,155.59 L125.84,156.05 L126.12,156.44 L126.40,156.77 L126.68,157.04 L126.95,157.26 L127.23,157.44 L127.51,157.57 L127.79,157.68 L128.06,157.77 L128.34,157.83 L128.62,157.88 L128.90,157.91 L129.17,157.94 L129.45,157.96 L129.73,157.97 L130.01,157.98 L130.28,157.99 L130.56,157.99 L130.84,157.99 L131.12,158.00 L131.39,158.00 L131.67,158.00 L131.95,158.00 L132.23,158.00 L132.50,158.00 L132.78,158.00 L133.06,158.00 L133.34,158.00 L133.61,158.00 L133.89,158.00 L134.17,158.00 L134.45,158.00 L134.72,158.00 L135.00,158.00 L135.28,158.00 L135.56,158.00 L135.83,158.00 L136.11,158.00 L136.39,158.00 L136.67,158.00 L136.94,158.00 L137.22,158.00 L137.50,158.00 L137.50,158.00 Z" stroke="#7a7a7a" stroke-width="0.5" fill="#c0c0c0"/>
<path d="M104.20,157.91 L104.48,157.87 L104.75,157.83 L105.03,157.77 L105.31,157.68 L105.59,157.58 L105.86,157.44 L106.14,157.27 L106.42,157.06 L106.70,156.79 L106.97,156.46 L107.25,156.06 L107.53,155.59 L107.81,155.02 L108.08,154.36 L108.36,153.60 L108.64,152.73 L108.92,151.75 L109.19,150.66 L109.47,149.46 L109.75,148.17 L110.03,146.79 L110.30,145.34 L110.58,143.84 L110.86,142.33 L111.14,140.81 L111.41,139.34 L111.69,137.93 L111.97,136.63 L112.25,135.47 L112.52,134.47 L112.80,133.67 L113.08,133.08 L113.36,132.72 L113.63,132.60 L113.91,132.74 L114.19,133.15 L114.47,133.81 L114.74,134.69 L115.02,135.76 L115.30,136.97 L115.58,138.29 L115.85,139.66 L116.13,141.04 L116.41,142.39 L116.69,143.67 L116.96,144.85 L117.24,145.90 L117.52,146.81 L117.80,147.56 L118.07,148.17 L118.35,148.62 L118.63,148.94 L118.91,149.15 L119.18,149.26 L119.46,149.31 L119.74,149.31 L120.02,149.30 L120.29,149.30 L120.57,149.33 L120.85,149.40 L121.13,149.54 L121.40,149.76 L121.68,150.08 L121.96,150.50 L122.24,150.99 L122.51,151.54 L122.79,152.14 L123.07,152.77 L123.35,153.40 L123.62,154.01 L123.90,154.60 L124.18,155.15 L124.46,155.64 L124.73,156.08 L125.01,156.46 L125.29,156.79 L125.57,157.06 L125.84,157.28 L126.12,157.46 L126.40,157.60 L126.68,157.71 L126.95,157.79 L127.23,157.85 L127.51,157.90 L127.79,157.93 L128.06,157.95 L128.34,157.97 L128.62,157.98 L128.90,157.99 L129.17,157.99 L129.45,157.99 L129.73,158.00 L130.01,158.00 L130.28,158.00 L130.56,158.00 L130.84,158.00 L131.12,158.00 L131.39,158.00 L131.67,158.00 L131.95,158.00 L132.23,158.00 L132.50,158.00 L132.78,158.00 L133.06,158.00 L133.34,158.00 L133.61,158.00 L133.89,158.00 L134.17,158.00 L134.45,158.00 L134.72,158.00 L135.00,158.00 L135.28,158.00 L135.56,158.00 L135.83,158.00 L136.11,158.00 L136.39,158.00 L136.67,158.00 L136.94,158.00 L137.22,158.00 L137.50,158.00" stroke="#7a7a7a" stroke-width="0.6" fill="none"/>
<path d="M30.10,196.00 L30.10,196.00 L30.38,196.00 L30.66,196.00 L30.93,196.00 L31.21,196.00 L31.49,196.00 L31.77,196.00 L32.04,196.00 L32.32,195.99 L32.60,195.96 L32.88,195.89 L33.15,195.74 L33.43,195.41 L33.71,194.77 L33.98,193.63 L34.26,191.79 L34.54,189.07 L34.82,185.42 L35.09,181.07 L35.37,176.47 L35.65,172.36 L35.93,169.50 L36.20,168.50 L36.48,169.14 L36.76,170.94 L37.04,173.65 L37.31,176.96 L37.59,180.51 L37.87,183.95 L38.15,187.05 L38.42,189.64 L38.70,191.69 L38.98,193.21 L39.26,194.27 L39.53,194.98 L39.81,195.42 L40.09,195.69 L40.37,195.84 L40.64,195.92 L40.92,195.96 L41.20,195.98 L41.48,195.99 L41.76,196.00 L42.03,196.00 L42.31,196.00 L42.59,196.00 L42.87,196.00 L43.14,196.00 L43.42,196.00 L43.70,196.00 L43.98,196.00 L44.25,196.00 L44.53,196.00 L44.81,196.00 L45.09,196.00 L45.36,196.00 L45.64,196.00 L45.92,196.00 L46.20,196.00 L46.47,196.00 L46.75,196.00 L47.03,196.00 L47.30,196.00 L47.58,196.00 L47.86,196.00 L48.14,196.00 L48.41,196.00 L48.69,196.00 L48.97,196.00 L49.25,196.00 L49.53,196.00 L49.80,196.00 L50.08,196.00 L50.36,196.00 L50.64,196.00 L50.91,196.00 L51.19,196.00 L51.47,196.00 L51.74,196.00 L52.02,196.00 L52.30,196.00 L52.58,196.00 L52.86,196.00 L53.13,196.00 L53.41,196.00 L53.69,196.00 L53.97,196.00 L54.24,196.00 L54.52,196.00 L54.80,196.00 L55.08,196.00 L55.35,196.00 L55.63,196.00 L55.91,196.00 L56.19,196.00 L56.46,196.00 L56.74,196.00 L57.02,196.00 L57.30,196.00 L57.57,196.00 L57.85,196.00 L58.13,196.00 L58.41,196.00 L58.68,196.00 L58.96,196.00 L59.24,196.00 L59.52,196.00 L59.79,196.00 L60.07,196.00 L60.35,196.00 L60.62,196.00 L60.90,196.00 L61.18,196.00 L61.46,196.00 L61.73,196.00 L62.01,196.00 L62.29,196.00 L62.57,196.00 L62.84,196.00 L63.12,196.00 L63.40,196.00 L63.40,196.00 Z" stroke="#9a9a9a" stroke-width="0.5" fill="#c0c0c0"/>
<path d="M30.10,195.86 L30.38,195.58 L30.66,194.92 L30.93,193.54 L31.21,191.02 L31.49,187.05 L31.77,181.74 L32.04,175.86 L32.32,170.78 L32.60,168.00 L32.88,168.30 L33.15,171.12 L33.43,175.68 L33.71,180.91 L33.98,185.81 L34.26,189.75 L34.54,192.51 L34.82,194.23 L35.09,195.18 L35.37,195.66 L35.65,195.87 L35.93,195.95 L36.20,195.99 L36.48,196.00 L36.76,196.00 L37.04,196.00 L37.31,196.00 L37.59,196.00 L37.87,196.00 L38.15,196.00 L38.42,196.00 L38.70,196.00 L38.98,196.00 L39.26,196.00 L39.53,196.00 L39.81,196.00 L40.09,196.00 L40.37,196.00 L40.64,196.00 L40.92,196.00 L41.20,196.00 L41.48,196.00 L41.76,196.00 L42.03,196.00 L42.31,196.00 L42.59,196.00 L42.87,196.00 L43.14,196.00 L43.42,196.00 L43.70,196.00 L43.98,196.00 L44.25,196.00 L44.53,196.00 L44.81,196.00 L45.09,196.00 L45.36,196.00 L45.64,196.00 L45.92,196.00 L46.20,196.00 L46.47,196.00 L46.75,196.00 L47.03,196.00 L47.30,196.00 L47.58,196.00 L47.86,196.00 L48.14,196.00 L48.41,196.00 L48.69,196.00 L48.97,196.00 L49.25,196.00 L49.53,196.00 L49.80,196.00 L50.08,196.00 L50.36,196.00 L50.64,196.00 L50.91,196.00 L51.19,196.00 L51.47,196.00 L51.74,196.00 L52.02,196.00 L52.30,196.00 L52.58,196.00 L52.86,196.00 L53.13,196.00 L53.41,196.00 L53.69,196.00 L53.97,196.00 L54.24,196.00 L54.52,196.00 L54.80,196.00 L55.08,196.00 L55.35,196.00 L55.63,196.00 L55.91,196.00 L56.19,196.00 L56.46,196.00 L56.74,196.00 L57.02,196.00 L57.30,196.00 L57.57,196.00 L57.85,196.00 L58.13,196.00 L58.41,196.00 L58.68,196.00 L58.96,196.00 L59.24,196.00 L59.52,196.00 L59.79,196.00 L60.07,196.00 L60.35,196.00 L60.62,196.00 L60.90,196.00 L61.18,196.00 L61.46,196.00 L61.73,196.00 L62.01,196.00 L62.29,196.00 L62.57,196.00 L62.84,196.00 L63.12,196.00 L63.40,196.00" stroke="#8c8c8c" stroke-width="0.6" fill="none"/>
<path d="M66.90,196.00 L66.90,196.00 L67.18,196.00 L67.45,196.00 L67.73,196.00 L68.01,196.00 L68.29,196.00 L68.56,196.00 L68.84,196.00 L69.12,196.00 L69.40,196.00 L69.67,196.00 L69.95,196.00 L70.23,196.00 L70.51,196.00 L70.78,196.00 L71.06,196.00 L71.34,196.00 L71.62,196.00 L71.89,196.00 L72.17,195.99 L72.45,195.98 L72.73,195.96 L73.00,195.92 L73.28,195.82 L73.56,195.64 L73.84,195.30 L74.11,194.73 L74.39,193.80 L74.67,192.40 L74.95,190.39 L75.22,187.74 L75.50,184.45 L75.78,180.71 L76.06,176.80 L76.33,173.14 L76.61,170.21 L76.89,168.42 L77.17,168.00 L77.44,168.20 L77.72,168.68 L78.00,169.40 L78.28,170.36 L78.55,171.53 L78.83,172.87 L79.11,174.35 L79.39,175.94 L79.66,177.59 L79.94,179.27 L80.22,180.95 L80.50,182.59 L80.77,184.16 L81.05,185.66 L81.33,187.05 L81.61,188.33 L81.88,189.50 L82.16,190.54 L82.44,191.46 L82.72,192.26 L82.99,192.95 L83.27,193.53 L83.55,194.03 L83.83,194.44 L84.10,194.77 L84.38,195.05 L84.66,195.27 L84.94,195.44 L85.21,195.58 L85.49,195.69 L85.77,195.77 L86.05,195.83 L86.32,195.88 L86.60,195.91 L86.88,195.94 L87.16,195.96 L87.43,195.97 L87.71,195.98 L87.99,195.99 L88.27,195.99 L88.54,195.99 L88.82,196.00 L89.10,196.00 L89.38,196.00 L89.65,196.00 L89.93,196.00 L90.21,196.00 L90.49,196.00 L90.76,196.00 L91.04,196.00 L91.32,196.00 L91.60,196.00 L91.87,196.00 L92.15,196.00 L92.43,196.00 L92.71,196.00 L92.98,196.00 L93.26,196.00 L93.54,196.00 L93.82,196.00 L94.09,196.00 L94.37,196.00 L94.65,196.00 L94.93,196.00 L95.20,196.00 L95.48,196.00 L95.76,196.00 L96.04,196.00 L96.31,196.00 L96.59,196.00 L96.87,196.00 L97.15,196.00 L97.42,196.00 L97.70,196.00 L97.98,196.00 L98.26,196.00 L98.53,196.00 L98.81,196.00 L99.09,196.00 L99.37,196.00 L99.64,196.00 L99.92,196.00 L100.20,196.00 L100.20,196.00 Z" stroke="#9a9a9a" stroke-width="0.5" fill="#c0c0c0"/>
<path d="M66.90,196.00 L67.18,196.00 L67.45,196.00 L67.73,196.00 L68.01,196.00 L68.29,196.00 L68.56,196.00 L68.84,196.00 L69.12,196.00 L69.40,196.00 L69.67,196.00 L69.95,196.00 L70.23,196.00 L70.51,195.99 L70.78,195.96 L71.06,195.88 L71.34,195.63 L71.62,195.04 L71.89,193.78 L72.17,191.42 L72.45,187.64 L72.73,182.47 L73.00,176.58 L73.28,171.28 L73.56,168.10 L73.84,168.00 L74.11,170.53 L74.39,174.93 L74.67,180.15 L74.95,185.16 L75.22,189.26 L75.50,192.19 L75.78,194.04 L76.06,195.08 L76.33,195.61 L76.61,195.85 L76.89,195.95 L77.17,195.98 L77.44,196.00 L77.72,196.00 L78.00,196.00 L78.28,196.00 L78.55,196.00 L78.83,196.00 L79.11,196.00 L79.39,196.00 L79.66,196.00 L79.94,196.00 L80.22,196.00 L80.50,196.00 L80.77,196.00 L81.05,196.00 L81.33,196.00 L81.61,196.00 L81.88,196.00 L82.16,196.00 L82.44,196.00 L82.72,196.00 L82.99,196.00 L83.27,196.00 L83.55,196.00 L83.83,196.00 L84.10,196.00 L84.38,196.00 L84.66,196.00 L84.94,196.00 L85.21,196.00 L85.49,196.00 L85.77,196.00 L86.05,196.00 L86.32,196.00 L86.60,196.00 L86.88,196.00 L87.16,196.00 L87.43,196.00 L87.71,196.00 L87.99,196.00 L88.27,196.00 L88.54,196.00 L88.82,196.00 L89.10,196.00 L89.38,196.00 L89.65,196.00 L89.93,196.00 L90.21,196.00 L90.49,196.00 L90.76,196.00 L91.04,196.00 L91.32,196.00 L91.60,196.00 L91.87,196.00 L92.15,196.00 L92.43,196.00 L92.71,196.00 L92.98,196.00 L93.26,196.00 L93.54,196.00 L93.82,196.00 L94.09,196.00 L94.37,196.00 L94.65,196.00 L94.93,196.00 L95.20,196.00 L95.48,196.00 L95.76,196.00 L96.04,196.00 L96.31,196.00 L96.59,196.00 L96.87,196.00 L97.15,196.00 L97.42,196.00 L97.70,196.00 L97.98,196.00 L98.26,196.00 L98.53,196.00 L98.81,196.00 L99.09,196.00 L99.37,196.00 L99.64,196.00 L99.92,196.00 L100.20,196.00" stroke="#8c8c8c" stroke-width="0.6" fill="none"/>
<path d="M104.20,196.00 L104.20,196.00 L104.48,196.00 L104.75,196.00 L105.03,196.00 L105.31,196.00 L105.59,196.00 L105.86,196.00 L106.14,196.00 L106.42,196.00 L106.70,196.00 L106.97,196.00 L107.25,195.99 L107.53,195.97 L107.81,195.92 L108.08,195.78 L108.36,195.46 L108.64,194.78 L108.92,193.47 L109.19,191.24 L109.47,187.86 L109.75,183.35 L110.03,178.11 L110.30,172.99 L110.58,169.10 L110.86,167.40 L111.14,168.17 L111.41,170.93 L111.69,175.09 L111.97,179.85 L112.25,184.45 L112.52,188.35 L112.80,191.31 L113.08,193.34 L113.36,194.60 L113.63,195.32 L113.91,195.69 L114.19,195.87 L114.47,195.95 L114.74,195.98 L115.02,195.99 L115.30,196.00 L115.58,196.00 L115.85,196.00 L116.13,196.00 L116.41,196.00 L116.69,196.00 L116.96,196.00 L117.24,196.00 L117.52,196.00 L117.80,196.00 L118.07,196.00 L118.35,196.00 L118.63,196.00 L118.91,196.00 L119.18,196.00 L119.46,196.00 L119.74,196.00 L120.02,196.00 L120.29,196.00 L120.57,196.00 L120.85,196.00 L121.13,196.00 L121.40,196.00 L121.68,196.00 L121.96,196.00 L122.24,196.00 L122.51,196.00 L122.79,196.00 L123.07,196.00 L123.35,196.00 L123.62,196.00 L123.90,196.00 L124.18,196.00 L124.46,196.00 L124.73,196.00 L125.01,196.00 L125.29,196.00 L125.57,196.00 L125.84,196.00 L126.12,196.00 L126.40,196.00 L126.68,196.00 L126.95,196.00 L127.23,196.00 L127.51,196.00 L127.79,196.00 L128.06,196.00 L128.34,196.00 L128.62,196.00 L128.90,196.00 L129.17,196.00 L129.45,196.00 L129.73,196.00 L130.01,196.00 L130.28,196.00 L130.56,196.00 L130.84,196.00 L131.12,196.00 L131.39,196.00 L131.67,196.00 L131.95,196.00 L132.23,196.00 L132.50,196.00 L132.78,196.00 L133.06,196.00 L133.34,196.00 L133.61,196.00 L133.89,196.00 L134.17,196.00 L134.45,196.00 L134.72,196.00 L135.00,196.00 L135.28,196.00 L135.56,196.00 L135.83,196.00 L136.11,196.00 L136.39,196.00 L136.67,196.00 L136.94,196.00 L137.22,196.00 L137.50,196.00 L137.50,196.00 Z" stroke="#7a7a7a" stroke-width="0.5" fill="#c0c0c0"/>
<path d="M104.20,196.00 L104.48,196.00 L104.75,196.00 L105.03,196.00 L105.31,196.00 L105.59,196.00 L105.86,196.00 L106.14,196.00 L106.42,196.00 L106.70,196.00 L106.97,196.00 L107.25,195.99 L107.53,195.97 L107.81,195.92 L108.08,195.78 L108.36,195.46 L108.64,194.78 L108.92,193.47 L109.19,191.24 L109.47,187.86 L109.75,183.35 L110.03,178.11 L110.30,172.99 L110.58,169.10 L110.86,167.40 L111.14,168.17 L111.41,170.93 L111.69,175.09 L111.97,179.85 L112.25,184.45 L112.52,188.35 L112.80,191.31 L113.08,193.34 L113.36,194.60 L113.63,195.32 L113.91,195.69 L114.19,195.87 L114.47,195.95 L114.74,195.98 L115.02,195.99 L115.30,196.00 L115.58,196.00 L115.85,196.00 L116.13,196.00 L116.41,196.00 L116.69,196.00 L116.96,196.00 L117.24,196.00 L117.52,196.00 L117.80,196.00 L118.07,196.00 L118.35,196.00 L118.63,196.00 L118.91,196.00 L119.18,196.00 L119.46,196.00 L119.74,196.00 L120.02,196.00 L120.29,196.00 L120.57,196.00 L120.85,196.00 L121.13,196.00 L121.40,196.00 L121.68,196.00 L121.96,196.00 L122.24,196.00 L122.51,196.00 L122.79,196.00 L123.07,196.00 L123.35,196.00 L123.62,196.00 L123.90,196.00 L124.18,196.00 L124.46,196.00 L124.73,196.00 L125.01,196.00 L125.29,196.00 L125.57,196.00 L125.84,196.00 L126.12,196.00 L126.40,196.00 L126.68,196.00 L126.95,196.00 L127.23,196.00 L127.51,196.00 L127.79,196.00 L128.06,196.00 L128.34,196.00 L128.62,196.00 L128.90,196.00 L129.17,196.00 L129.45,196.00 L129.73,196.00 L130.01,196.00 L130.28,196.00 L130.56,196.00 L130.84,196.00 L131.12,196.00 L131.39,196.00 L131.67,196.00 L131.95,196.00 L132.23,196.00 L132.50,196.00 L132.78,196.00 L133.06,196.00 L133.34,196.00 L133.61,196.00 L133.89,196.00 L134.17,196.00 L134.45,196.00 L134.72,196.00 L135.00,196.00 L135.28,196.00 L135.56,196.00 L135.83,196.00 L136.11,196.00 L136.39,196.00 L136.67,196.00 L136.94,196.00 L137.22,196.00 L137.50,196.00" stroke="#7a7a7a" stroke-width="0.6" fill="none"/>
<path d="M30.10,235.20 L30.10,235.20 L30.38,235.20 L30.66,235.20 L30.93,235.20 L31.21,235.20 L31.49,235.20 L31.77,235.20 L32.04,235.20 L32.32,235.20 L32.60,235.19 L32.88,235.17 L33.15,235.13 L33.43,235.02 L33.71,234.79 L33.98,234.32 L34.26,233.46 L34.54,231.99 L34.82,229.73 L35.09,226.57 L35.37,222.59 L35.65,218.14 L35.93,213.84 L36.20,210.43 L36.48,208.60 L36.76,208.65 L37.04,210.14 L37.31,212.77 L37.59,216.17 L37.87,219.90 L38.15,223.54 L38.42,226.77 L38.70,229.43 L38.98,231.45 L39.26,232.89 L39.53,233.85 L39.81,234.46 L40.09,234.81 L40.37,235.01 L40.64,235.11 L40.92,235.16 L41.20,235.18 L41.48,235.19 L41.76,235.20 L42.03,235.20 L42.31,235.20 L42.59,235.20 L42.87,235.20 L43.14,235.20 L43.42,235.20 L43.70,235.20 L43.98,235.20 L44.25,235.20 L44.53,235.20 L44.81,235.20 L45.09,235.20 L45.36,235.20 L45.64,235.20 L45.92,235.20 L46.20,235.20 L46.47,235.20 L46.75,235.20 L47.03,235.20 L47.30,235.20 L47.58,235.20 L47.86,235.20 L48.14,235.20 L48.41,235.20 L48.69,235.20 L48.97,235.20 L49.25,235.20 L49.53,235.20 L49.80,235.20 L50.08,235.20 L50.36,235.20 L50.64,235.20 L50.91,235.20 L51.19,235.20 L51.47,235.20 L51.74,235.20 L52.02,235.20 L52.30,235.20 L52.58,235.20 L52.86,235.20 L53.13,235.20 L53.41,235.20 L53.69,235.20 L53.97,235.20 L54.24,235.20 L54.52,235.20 L54.80,235.20 L55.08,235.20 L55.35,235.20 L55.63,235.20 L55.91,235.20 L56.19,235.20 L56.46,235.20 L56.74,235.20 L57.02,235.20 L57.30,235.20 L57.57,235.20 L57.85,235.20 L58.13,235.20 L58.41,235.20 L58.68,235.20 L58.96,235.20 L59.24,235.20 L59.52,235.20 L59.79,235.20 L60.07,235.20 L60.35,235.20 L60.62,235.20 L60.90,235.20 L61.18,235.20 L61.46,235.20 L61.73,235.20 L62.01,235.20 L62.29,235.20 L62.57,235.20 L62.84,235.20 L63.12,235.20 L63.40,235.20 L63.40,235.20 Z" stroke="#9a9a9a" stroke-width="0.5" fill="#c0c0c0"/>
<path d="M30.10,235.20 L30.38,235.20 L30.66,235.20 L30.93,235.20 L31.21,235.20 L31.49,235.20 L31.77,235.20 L32.04,235.20 L32.32,235.19 L32.60,235.19 L32.88,235.18 L33.15,235.16 L33.43,235.13 L33.71,235.08 L33.98,234.98 L34.26,234.80 L34.54,234.49 L34.82,233.99 L35.09,233.20 L35.37,232.03 L35.65,230.38 L35.93,228.20 L36.20,225.49 L36.48,222.35 L36.76,218.98 L37.04,215.65 L37.31,212.68 L37.59,210.35 L37.87,208.88 L38.15,208.60 L38.42,209.43 L38.70,210.92 L38.98,212.54 L39.26,213.89 L39.53,214.72 L39.81,215.01 L40.09,214.86 L40.37,214.47 L40.64,214.04 L40.92,213.73 L41.20,213.65 L41.48,213.76 L41.76,214.00 L42.03,214.38 L42.31,214.89 L42.59,215.53 L42.87,216.28 L43.14,217.13 L43.42,218.06 L43.70,219.06 L43.98,220.11 L44.25,221.19 L44.53,222.28 L44.81,223.38 L45.09,224.45 L45.36,225.50 L45.64,226.51 L45.92,227.46 L46.20,228.36 L46.47,229.20 L46.75,229.98 L47.03,230.68 L47.30,231.32 L47.58,231.89 L47.86,232.40 L48.14,232.84 L48.41,233.23 L48.69,233.57 L48.97,233.86 L49.25,234.10 L49.53,234.31 L49.80,234.48 L50.08,234.62 L50.36,234.74 L50.64,234.84 L50.91,234.92 L51.19,234.98 L51.47,235.03 L51.74,235.07 L52.02,235.10 L52.30,235.12 L52.58,235.14 L52.86,235.16 L53.13,235.17 L53.41,235.18 L53.69,235.18 L53.97,235.19 L54.24,235.19 L54.52,235.19 L54.80,235.20 L55.08,235.20 L55.35,235.20 L55.63,235.20 L55.91,235.20 L56.19,235.20 L56.46,235.20 L56.74,235.20 L57.02,235.20 L57.30,235.20 L57.57,235.20 L57.85,235.20 L58.13,235.20 L58.41,235.20 L58.68,235.20 L58.96,235.20 L59.24,235.20 L59.52,235.20 L59.79,235.20 L60.07,235.20 L60.35,235.20 L60.62,235.20 L60.90,235.20 L61.18,235.20 L61.46,235.20 L61.73,235.20 L62.01,235.20 L62.29,235.20 L62.57,235.20 L62.84,235.20 L63.12,235.20 L63.40,235.20" stroke="#707070" stroke-width="0.6" fill="none"/>
<path d="M66.90,235.20 L66.90,235.20 L67.18,235.20 L67.45,235.20 L67.73,235.20 L68.01,235.20 L68.29,235.20 L68.56,235.20 L68.84,235.20 L69.12,235.20 L69.40,235.19 L69.67,235.17 L69.95,235.12 L70.23,235.02 L70.51,234.80 L70.78,234.40 L71.06,233.69 L71.34,232.52 L71.62,230.74 L71.89,228.23 L72.17,224.99 L72.45,221.16 L72.73,217.09 L73.00,213.27 L73.28,210.29 L73.56,208.64 L73.84,208.60 L74.11,209.98 L74.39,212.53 L74.67,215.89 L74.95,219.60 L75.22,223.26 L75.50,226.53 L75.78,229.24 L76.06,231.31 L76.33,232.80 L76.61,233.79 L76.89,234.42 L77.17,234.79 L77.44,234.99 L77.72,235.10 L78.00,235.16 L78.28,235.18 L78.55,235.19 L78.83,235.20 L79.11,235.20 L79.39,235.20 L79.66,235.20 L79.94,235.20 L80.22,235.20 L80.50,235.20 L80.77,235.20 L81.05,235.20 L81.33,235.20 L81.61,235.20 L81.88,235.20 L82.16,235.20 L82.44,235.20 L82.72,235.20 L82.99,235.20 L83.27,235.20 L83.55,235.20 L83.83,235.20 L84.10,235.20 L84.38,235.20 L84.66,235.20 L84.94,235.20 L85.21,235.20 L85.49,235.20 L85.77,235.20 L86.05,235.20 L86.32,235.20 L86.60,235.20 L86.88,235.20 L87.16,235.20 L87.43,235.20 L87.71,235.20 L87.99,235.20 L88.27,235.20 L88.54,235.20 L88.82,235.20 L89.10,235.20 L89.38,235.20 L89.65,235.20 L89.93,235.20 L90.21,235.20 L90.49,235.20 L90.76,235.20 L91.04,235.20 L91.32,235.20 L91.60,235.20 L91.87,235.20 L92.15,235.20 L92.43,235.20 L92.71,235.20 L92.98,235.20 L93.26,235.20 L93.54,235.20 L93.82,235.20 L94.09,235.20 L94.37,235.20 L94.65,235.20 L94.93,235.20 L95.20,235.20 L95.48,235.20 L95.76,235.20 L96.04,235.20 L96.31,235.20 L96.59,235.20 L96.87,235.20 L97.15,235.20 L97.42,235.20 L97.70,235.20 L97.98,235.20 L98.26,235.20 L98.53,235.20 L98.81,235.20 L99.09,235.20 L99.37,235.20 L99.64,235.20 L99.92,235.20 L100.20,235.20 L100.20,235.20 Z" stroke="#9a9a9a" stroke-width="0.5" fill="#c0c0c0"/>
<path d="M66.90,235.20 L67.18,235.20 L67.45,235.20 L67.73,235.20 L68.01,235.20 L68.29,235.20 L68.56,235.20 L68.84,235.20 L69.12,235.20 L69.40,235.20 L69.67,235.20 L69.95,235.20 L70.23,235.20 L70.51,235.20 L70.78,235.20 L71.06,235.20 L71.34,235.20 L71.62,235.20 L71.89,235.20 L72.17,235.20 L72.45,235.20 L72.73,235.20 L73.00,235.20 L73.28,235.20 L73.56,235.20 L73.84,235.20 L74.11,235.20 L74.39,235.20 L74.67,235.20 L74.95,235.20 L75.22,235.20 L75.50,235.20 L75.78,235.20 L76.06,235.20 L76.33,235.20 L76.61,235.20 L76.89,235.20 L77.17,235.20 L77.44,235.20 L77.72,235.20 L78.00,235.20 L78.28,235.20 L78.55,235.20 L78.83,235.20 L79.11,235.20 L79.39,235.20 L79.66,235.19 L79.94,235.17 L80.22,235.14 L80.50,235.06 L80.77,234.91 L81.05,234.63 L81.33,234.15 L81.61,233.35 L81.88,232.12 L82.16,230.33 L82.44,227.90 L82.72,224.83 L82.99,221.24 L83.27,217.38 L83.55,213.64 L83.83,210.48 L84.10,208.32 L84.38,207.50 L84.66,208.26 L84.94,210.61 L85.21,214.15 L85.49,218.28 L85.77,222.44 L86.05,226.18 L86.32,229.21 L86.60,231.47 L86.88,233.02 L87.16,234.00 L87.43,234.58 L87.71,234.90 L87.99,235.07 L88.27,235.14 L88.54,235.18 L88.82,235.19 L89.10,235.20 L89.38,235.20 L89.65,235.20 L89.93,235.20 L90.21,235.20 L90.49,235.20 L90.76,235.20 L91.04,235.20 L91.32,235.20 L91.60,235.20 L91.87,235.20 L92.15,235.20 L92.43,235.20 L92.71,235.20 L92.98,235.20 L93.26,235.20 L93.54,235.20 L93.82,235.20 L94.09,235.20 L94.37,235.20 L94.65,235.20 L94.93,235.20 L95.20,235.20 L95.48,235.20 L95.76,235.20 L96.04,235.20 L96.31,235.20 L96.59,235.20 L96.87,235.20 L97.15,235.20 L97.42,235.20 L97.70,235.20 L97.98,235.20 L98.26,235.20 L98.53,235.20 L98.81,235.20 L99.09,235.20 L99.37,235.20 L99.64,235.20 L99.92,235.20 L100.20,235.20" stroke="#8c8c8c" stroke-width="0.6" fill="none"/>
<path d="M104.20,235.20 L104.20,235.20 L104.48,235.20 L104.75,235.20 L105.03,235.20 L105.31,235.20 L105.59,235.20 L105.86,235.20 L106.14,235.20 L106.42,235.20 L106.70,235.20 L106.97,235.20 L107.25,235.19 L107.53,235.17 L107.81,235.13 L108.08,235.03 L108.36,234.83 L108.64,234.46 L108.92,233.78 L109.19,232.66 L109.47,230.92 L109.75,228.45 L110.03,225.20 L110.30,221.31 L110.58,217.10 L110.86,213.05 L111.14,209.78 L111.41,207.82 L111.69,207.50 L111.97,208.53 L112.25,210.67 L112.52,213.64 L112.80,217.10 L113.08,220.67 L113.36,224.06 L113.63,227.04 L113.91,229.49 L114.19,231.38 L114.47,232.76 L114.74,233.71 L115.02,234.33 L115.30,234.72 L115.58,234.94 L115.85,235.07 L116.13,235.14 L116.41,235.17 L116.69,235.19 L116.96,235.19 L117.24,235.20 L117.52,235.20 L117.80,235.20 L118.07,235.20 L118.35,235.20 L118.63,235.20 L118.91,235.20 L119.18,235.20 L119.46,235.20 L119.74,235.20 L120.02,235.20 L120.29,235.20 L120.57,235.20 L120.85,235.20 L121.13,235.20 L121.40,235.20 L121.68,235.20 L121.96,235.20 L122.24,235.20 L122.51,235.20 L122.79,235.20 L123.07,235.20 L123.35,235.20 L123.62,235.20 L123.90,235.20 L124.18,235.20 L124.46,235.20 L124.73,235.20 L125.01,235.20 L125.29,235.20 L125.57,235.20 L125.84,235.20 L126.12,235.20 L126.40,235.20 L126.68,235.20 L126.95,235.20 L127.23,235.20 L127.51,235.20 L127.79,235.20 L128.06,235.20 L128.34,235.20 L128.62,235.20 L128.90,235.20 L129.17,235.20 L129.45,235.20 L129.73,235.20 L130.01,235.20 L130.28,235.20 L130.56,235.20 L130.84,235.20 L131.12,235.20 L131.39,235.20 L131.67,235.20 L131.95,235.20 L132.23,235.20 L132.50,235.20 L132.78,235.20 L133.06,235.20 L133.34,235.20 L133.61,235.20 L133.89,235.20 L134.17,235.20 L134.45,235.20 L134.72,235.20 L135.00,235.20 L135.28,235.20 L135.56,235.20 L135.83,235.20 L136.11,235.20 L136.39,235.20 L136.67,235.20 L136.94,235.20 L137.22,235.20 L137.50,235.20 L137.50,235.20 Z" stroke="#9a9a9a" stroke-width="0.5" fill="#c0c0c0"/>
<path d="M104.20,235.20 L104.48,235.20 L104.75,235.20 L105.03,235.20 L105.31,235.20 L105.59,235.20 L105.86,235.20 L106.14,235.20 L106.42,235.20 L106.70,235.20 L106.97,235.20 L107.25,235.20 L107.53,235.20 L107.81,235.19 L108.08,235.18 L108.36,235.15 L108.64,235.08 L108.92,234.95 L109.19,234.70 L109.47,234.27 L109.75,233.55 L110.03,232.41 L110.30,230.74 L110.58,228.45 L110.86,225.50 L111.14,221.99 L111.41,218.16 L111.69,214.35 L111.97,211.02 L112.25,208.62 L112.52,207.50 L112.80,207.62 L113.08,208.42 L113.36,209.80 L113.63,211.67 L113.91,213.92 L114.19,216.41 L114.47,219.00 L114.74,221.56 L115.02,223.98 L115.30,226.19 L115.58,228.13 L115.85,229.79 L116.13,231.15 L116.41,232.25 L116.69,233.09 L116.96,233.73 L117.24,234.20 L117.52,234.54 L117.80,234.77 L118.07,234.93 L118.35,235.03 L118.63,235.10 L118.91,235.14 L119.18,235.17 L119.46,235.18 L119.74,235.19 L120.02,235.19 L120.29,235.20 L120.57,235.20 L120.85,235.20 L121.13,235.20 L121.40,235.20 L121.68,235.20 L121.96,235.20 L122.24,235.20 L122.51,235.20 L122.79,235.20 L123.07,235.20 L123.35,235.20 L123.62,235.20 L123.90,235.20 L124.18,235.20 L124.46,235.20 L124.73,235.20 L125.01,235.20 L125.29,235.20 L125.57,235.20 L125.84,235.20 L126.12,235.20 L126.40,235.20 L126.68,235.20 L126.95,235.20 L127.23,235.20 L127.51,235.20 L127.79,235.20 L128.06,235.20 L128.34,235.20 L128.62,235.20 L128.90,235.20 L129.17,235.20 L129.45,235.20 L129.73,235.20 L130.01,235.20 L130.28,235.20 L130.56,235.20 L130.84,235.20 L131.12,235.20 L131.39,235.20 L131.67,235.20 L131.95,235.20 L132.23,235.20 L132.50,235.20 L132.78,235.20 L133.06,235.20 L133.34,235.20 L133.61,235.20 L133.89,235.20 L134.17,235.20 L134.45,235.20 L134.72,235.20 L135.00,235.20 L135.28,235.20 L135.56,235.20 L135.83,235.20 L136.11,235.20 L136.39,235.20 L136.67,235.20 L136.94,235.20 L137.22,235.20 L137.50,235.20" stroke="#8c8c8c" stroke-width="0.6" fill="none"/>
<path d="M30.10,275.80 L30.10,275.80 L30.38,275.80 L30.66,275.80 L30.93,275.80 L31.21,275.79 L31.49,275.79 L31.77,275.78 L32.04,275.77 L32.32,275.75 L32.60,275.72 L32.88,275.68 L33.15,275.62 L33.43,275.53 L33.71,275.40 L33.98,275.21 L34.26,274.90 L34.54,274.38 L34.82,273.48 L35.09,271.93 L35.37,269.44 L35.65,265.85 L35.93,261.32 L36.20,256.48 L36.48,252.33 L36.76,249.87 L37.04,249.60 L37.31,251.29 L37.59,254.12 L37.87,257.10 L38.15,259.51 L38.42,261.12 L38.70,262.05 L38.98,262.57 L39.26,262.89 L39.53,263.07 L39.81,263.23 L40.09,263.40 L40.37,263.61 L40.64,263.86 L40.92,264.15 L41.20,264.48 L41.48,264.83 L41.76,265.22 L42.03,265.63 L42.31,266.06 L42.59,266.51 L42.87,266.98 L43.14,267.45 L43.42,267.92 L43.70,268.40 L43.98,268.87 L44.25,269.34 L44.53,269.80 L44.81,270.25 L45.09,270.69 L45.36,271.10 L45.64,271.50 L45.92,271.88 L46.20,272.25 L46.47,272.59 L46.75,272.90 L47.03,273.20 L47.30,273.48 L47.58,273.73 L47.86,273.96 L48.14,274.18 L48.41,274.37 L48.69,274.55 L48.97,274.70 L49.25,274.85 L49.53,274.97 L49.80,275.08 L50.08,275.18 L50.36,275.27 L50.64,275.35 L50.91,275.42 L51.19,275.47 L51.47,275.53 L51.74,275.57 L52.02,275.61 L52.30,275.64 L52.58,275.67 L52.86,275.69 L53.13,275.71 L53.41,275.72 L53.69,275.74 L53.97,275.75 L54.24,275.76 L54.52,275.77 L54.80,275.77 L55.08,275.78 L55.35,275.78 L55.63,275.79 L55.91,275.79 L56.19,275.79 L56.46,275.79 L56.74,275.79 L57.02,275.80 L57.30,275.80 L57.57,275.80 L57.85,275.80 L58.13,275.80 L58.41,275.80 L58.68,275.80 L58.96,275.80 L59.24,275.80 L59.52,275.80 L59.79,275.80 L60.07,275.80 L60.35,275.80 L60.62,275.80 L60.90,275.80 L61.18,275.80 L61.46,275.80 L61.73,275.80 L62.01,275.80 L62.29,275.80 L62.57,275.80 L62.84,275.80 L63.12,275.80 L63.40,275.80 L63.40,275.80 Z" stroke="#9a9a9a" stroke-width="0.5" fill="#c0c0c0"/>
<path d="M30.10,275.80 L30.38,275.80 L30.66,275.80 L30.93,275.80 L31.21,275.80 L31.49,275.80 L31.77,275.80 L32.04,275.80 L32.32,275.80 L32.60,275.80 L32.88,275.80 L33.15,275.79 L33.43,275.79 L33.71,275.79 L33.98,275.78 L34.26,275.77 L34.54,275.76 L34.82,275.73 L35.09,275.68 L35.37,275.59 L35.65,275.43 L35.93,275.16 L36.20,274.76 L36.48,274.21 L36.76,273.50 L37.04,272.70 L37.31,271.90 L37.59,271.20 L37.87,270.73 L38.15,270.54 L38.42,270.62 L38.70,270.90 L38.98,271.25 L39.26,271.56 L39.53,271.71 L39.81,271.66 L40.09,271.39 L40.37,270.91 L40.64,270.25 L40.92,269.45 L41.20,268.53 L41.48,267.50 L41.76,266.38 L42.03,265.19 L42.31,263.93 L42.59,262.63 L42.87,261.29 L43.14,259.94 L43.42,258.58 L43.70,257.26 L43.98,255.97 L44.25,254.76 L44.53,253.65 L44.81,252.65 L45.09,251.78 L45.36,251.07 L45.64,250.53 L45.92,250.17 L46.20,250.00 L46.47,250.14 L46.75,250.99 L47.03,252.52 L47.30,254.61 L47.58,257.08 L47.86,259.75 L48.14,262.45 L48.41,265.02 L48.69,267.36 L48.97,269.39 L49.25,271.07 L49.53,272.41 L49.80,273.45 L50.08,274.22 L50.36,274.76 L50.64,275.14 L50.91,275.40 L51.19,275.56 L51.47,275.66 L51.74,275.72 L52.02,275.76 L52.30,275.78 L52.58,275.79 L52.86,275.79 L53.13,275.80 L53.41,275.80 L53.69,275.80 L53.97,275.80 L54.24,275.80 L54.52,275.80 L54.80,275.80 L55.08,275.80 L55.35,275.80 L55.63,275.80 L55.91,275.80 L56.19,275.80 L56.46,275.80 L56.74,275.80 L57.02,275.80 L57.30,275.80 L57.57,275.80 L57.85,275.80 L58.13,275.80 L58.41,275.80 L58.68,275.80 L58.96,275.80 L59.24,275.80 L59.52,275.80 L59.79,275.80 L60.07,275.80 L60.35,275.80 L60.62,275.80 L60.90,275.80 L61.18,275.80 L61.46,275.80 L61.73,275.80 L62.01,275.80 L62.29,275.80 L62.57,275.80 L62.84,275.80 L63.12,275.80 L63.40,275.80" stroke="#8c8c8c" stroke-width="0.6" fill="none"/>
<path d="M66.90,275.80 L66.90,275.80 L67.18,275.80 L67.45,275.80 L67.73,275.80 L68.01,275.80 L68.29,275.80 L68.56,275.80 L68.84,275.80 L69.12,275.80 L69.40,275.79 L69.67,275.79 L69.95,275.77 L70.23,275.72 L70.51,275.64 L70.78,275.47 L71.06,275.17 L71.34,274.65 L71.62,273.83 L71.89,272.58 L72.17,270.81 L72.45,268.48 L72.73,265.63 L73.00,262.39 L73.28,259.04 L73.56,255.95 L73.84,253.51 L74.11,252.07 L74.39,251.80 L74.67,251.97 L74.95,252.34 L75.22,252.90 L75.50,253.64 L75.78,254.54 L76.06,255.57 L76.33,256.72 L76.61,257.96 L76.89,259.26 L77.17,260.59 L77.44,261.94 L77.72,263.27 L78.00,264.58 L78.28,265.83 L78.55,267.02 L78.83,268.13 L79.11,269.16 L79.39,270.10 L79.66,270.95 L79.94,271.71 L80.22,272.37 L80.50,272.96 L80.77,273.46 L81.05,273.89 L81.33,274.26 L81.61,274.56 L81.88,274.82 L82.16,275.03 L82.44,275.20 L82.72,275.33 L82.99,275.44 L83.27,275.53 L83.55,275.59 L83.83,275.65 L84.10,275.68 L84.38,275.72 L84.66,275.74 L84.94,275.76 L85.21,275.77 L85.49,275.78 L85.77,275.78 L86.05,275.79 L86.32,275.79 L86.60,275.79 L86.88,275.80 L87.16,275.80 L87.43,275.80 L87.71,275.80 L87.99,275.80 L88.27,275.80 L88.54,275.80 L88.82,275.80 L89.10,275.80 L89.38,275.80 L89.65,275.80 L89.93,275.80 L90.21,275.80 L90.49,275.80 L90.76,275.80 L91.04,275.80 L91.32,275.80 L91.60,275.80 L91.87,275.80 L92.15,275.80 L92.43,275.80 L92.71,275.80 L92.98,275.80 L93.26,275.80 L93.54,275.80 L93.82,275.80 L94.09,275.80 L94.37,275.80 L94.65,275.80 L94.93,275.80 L95.20,275.80 L95.48,275.80 L95.76,275.80 L96.04,275.80 L96.31,275.80 L96.59,275.80 L96.87,275.80 L97.15,275.80 L97.42,275.80 L97.70,275.80 L97.98,275.80 L98.26,275.80 L98.53,275.80 L98.81,275.80 L99.09,275.80 L99.37,275.80 L99.64,275.80 L99.92,275.80 L100.20,275.80 L100.20,275.80 Z" stroke="#9a9a9a" stroke-width="0.5" fill="#c0c0c0"/>
<path d="M66.90,275.80 L67.18,275.80 L67.45,275.80 L67.73,275.80 L68.01,275.80 L68.29,275.80 L68.56,275.79 L68.84,275.79 L69.12,275.79 L69.40,275.78 L69.67,275.77 L69.95,275.76 L70.23,275.75 L70.51,275.73 L70.78,275.70 L71.06,275.66 L71.34,275.62 L71.62,275.55 L71.89,275.48 L72.17,275.37 L72.45,275.25 L72.73,275.09 L73.00,274.89 L73.28,274.65 L73.56,274.35 L73.84,274.00 L74.11,273.58 L74.39,273.08 L74.67,272.50 L74.95,271.83 L75.22,271.07 L75.50,270.21 L75.78,269.24 L76.06,268.18 L76.33,267.01 L76.61,265.76 L76.89,264.42 L77.17,263.02 L77.44,261.57 L77.72,260.08 L78.00,258.59 L78.28,257.12 L78.55,255.70 L78.83,254.35 L79.11,253.10 L79.39,251.99 L79.66,251.04 L79.94,250.26 L80.22,249.69 L80.50,249.33 L80.77,249.20 L81.05,249.63 L81.33,251.04 L81.61,253.28 L81.88,256.10 L82.16,259.23 L82.44,262.41 L82.72,265.39 L82.99,268.02 L83.27,270.21 L83.55,271.94 L83.83,273.23 L84.10,274.16 L84.38,274.79 L84.66,275.21 L84.94,275.46 L85.21,275.62 L85.49,275.70 L85.77,275.75 L86.05,275.78 L86.32,275.79 L86.60,275.80 L86.88,275.80 L87.16,275.80 L87.43,275.80 L87.71,275.80 L87.99,275.80 L88.27,275.80 L88.54,275.80 L88.82,275.80 L89.10,275.80 L89.38,275.80 L89.65,275.80 L89.93,275.80 L90.21,275.80 L90.49,275.80 L90.76,275.80 L91.04,275.80 L91.32,275.80 L91.60,275.80 L91.87,275.80 L92.15,275.80 L92.43,275.80 L92.71,275.80 L92.98,275.80 L93.26,275.80 L93.54,275.80 L93.82,275.80 L94.09,275.80 L94.37,275.80 L94.65,275.80 L94.93,275.80 L95.20,275.80 L95.48,275.80 L95.76,275.80 L96.04,275.80 L96.31,275.80 L96.59,275.80 L96.87,275.80 L97.15,275.80 L97.42,275.80 L97.70,275.80 L97.98,275.80 L98.26,275.80 L98.53,275.80 L98.81,275.80 L99.09,275.80 L99.37,275.80 L99.64,275.80 L99.92,275.80 L100.20,275.80" stroke="#8c8c8c" stroke-width="0.6" fill="none"/>
<path d="M104.20,275.80 L104.20,275.80 L104.48,275.80 L104.75,275.80 L105.03,275.80 L105.31,275.80 L105.59,275.80 L105.86,275.80 L106.14,275.80 L106.42,275.79 L106.70,275.78 L106.97,275.75 L107.25,275.69 L107.53,275.56 L107.81,275.30 L108.08,274.81 L108.36,273.97 L108.64,272.62 L108.92,270.63 L109.19,267.91 L109.47,264.50 L109.75,260.62 L110.03,256.66 L110.30,253.15 L110.58,250.65 L110.86,249.60 L111.14,250.02 L111.41,251.56 L111.69,254.03 L111.97,257.12 L112.25,260.48 L112.52,263.80 L112.80,266.81 L113.08,269.37 L113.36,271.41 L113.63,272.93 L113.91,274.01 L114.19,274.73 L114.47,275.19 L114.74,275.47 L115.02,275.63 L115.30,275.71 L115.58,275.76 L115.85,275.78 L116.13,275.79 L116.41,275.80 L116.69,275.80 L116.96,275.80 L117.24,275.80 L117.52,275.80 L117.80,275.80 L118.07,275.80 L118.35,275.80 L118.63,275.80 L118.91,275.80 L119.18,275.80 L119.46,275.80 L119.74,275.80 L120.02,275.80 L120.29,275.80 L120.57,275.80 L120.85,275.80 L121.13,275.80 L121.40,275.80 L121.68,275.80 L121.96,275.80 L122.24,275.80 L122.51,275.80 L122.79,275.80 L123.07,275.80 L123.35,275.80 L123.62,275.80 L123.90,275.80 L124.18,275.80 L124.46,275.80 L124.73,275.80 L125.01,275.80 L125.29,275.80 L125.57,275.80 L125.84,275.80 L126.12,275.80 L126.40,275.80 L126.68,275.80 L126.95,275.80 L127.23,275.80 L127.51,275.80 L127.79,275.80 L128.06,275.80 L128.34,275.80 L128.62,275.80 L128.90,275.80 L129.17,275.80 L129.45,275.80 L129.73,275.80 L130.01,275.80 L130.28,275.80 L130.56,275.80 L130.84,275.80 L131.12,275.80 L131.39,275.80 L131.67,275.80 L131.95,275.80 L132.23,275.80 L132.50,275.80 L132.78,275.80 L133.06,275.80 L133.34,275.80 L133.61,275.80 L133.89,275.80 L134.17,275.80 L134.45,275.80 L134.72,275.80 L135.00,275.80 L135.28,275.80 L135.56,275.80 L135.83,275.80 L136.11,275.80 L136.39,275.80 L136.67,275.80 L136.94,275.80 L137.22,275.80 L137.50,275.80 L137.50,275.80 Z" stroke="#9a9a9a" stroke-width="0.5" fill="#c0c0c0"/>
<path d="M104.20,275.80 L104.48,275.80 L104.75,275.80 L105.03,275.80 L105.31,275.80 L105.59,275.80 L105.86,275.80 L106.14,275.80 L106.42,275.79 L106.70,275.78 L106.97,275.76 L107.25,275.69 L107.53,275.56 L107.81,275.30 L108.08,274.81 L108.36,273.97 L108.64,272.63 L108.92,270.65 L109.19,267.93 L109.47,264.53 L109.75,260.65 L110.03,256.70 L110.30,253.19 L110.58,250.68 L110.86,249.60 L111.14,249.97 L111.41,251.45 L111.69,253.81 L111.97,256.75 L112.25,259.92 L112.52,262.97 L112.80,265.65 L113.08,267.77 L113.36,269.28 L113.63,270.17 L113.91,270.51 L114.19,270.41 L114.47,269.98 L114.74,269.33 L115.02,268.56 L115.30,267.77 L115.58,267.02 L115.85,266.37 L116.13,265.88 L116.41,265.55 L116.69,265.39 L116.96,265.38 L117.24,265.50 L117.52,265.70 L117.80,265.92 L118.07,266.11 L118.35,266.22 L118.63,266.22 L118.91,266.09 L119.18,265.84 L119.46,265.49 L119.74,265.10 L120.02,264.70 L120.29,264.37 L120.57,264.16 L120.85,264.12 L121.13,264.27 L121.40,264.56 L121.68,264.98 L121.96,265.53 L122.24,266.19 L122.51,266.94 L122.79,267.75 L123.07,268.60 L123.35,269.46 L123.62,270.30 L123.90,271.11 L124.18,271.86 L124.46,272.54 L124.73,273.15 L125.01,273.68 L125.29,274.13 L125.57,274.50 L125.84,274.81 L126.12,275.06 L126.40,275.25 L126.68,275.40 L126.95,275.51 L127.23,275.60 L127.51,275.66 L127.79,275.70 L128.06,275.74 L128.34,275.76 L128.62,275.77 L128.90,275.78 L129.17,275.79 L129.45,275.79 L129.73,275.80 L130.01,275.80 L130.28,275.80 L130.56,275.80 L130.84,275.80 L131.12,275.80 L131.39,275.80 L131.67,275.80 L131.95,275.80 L132.23,275.80 L132.50,275.80 L132.78,275.80 L133.06,275.80 L133.34,275.80 L133.61,275.80 L133.89,275.80 L134.17,275.80 L134.45,275.80 L134.72,275.80 L135.00,275.80 L135.28,275.80 L135.56,275.80 L135.83,275.80 L136.11,275.80 L136.39,275.80 L136.67,275.80 L136.94,275.80 L137.22,275.80 L137.50,275.80" stroke="#8c8c8c" stroke-width="0.6" fill="none"/>
<path d="M30.10,315.60 L30.10,315.60 L30.38,315.60 L30.66,315.60 L30.93,315.58 L31.21,315.54 L31.49,315.40 L31.77,315.05 L32.04,314.24 L32.32,312.61 L32.60,309.77 L32.88,305.52 L33.15,300.14 L33.43,294.57 L33.71,290.25 L33.98,288.50 L34.26,289.62 L34.54,292.96 L34.82,297.66 L35.09,302.67 L35.37,307.13 L35.65,310.55 L35.93,312.86 L36.20,314.25 L36.48,315.00 L36.76,315.35 L37.04,315.51 L37.31,315.57 L37.59,315.59 L37.87,315.60 L38.15,315.60 L38.42,315.60 L38.70,315.60 L38.98,315.60 L39.26,315.60 L39.53,315.60 L39.81,315.60 L40.09,315.60 L40.37,315.60 L40.64,315.60 L40.92,315.60 L41.20,315.60 L41.48,315.60 L41.76,315.60 L42.03,315.60 L42.31,315.60 L42.59,315.60 L42.87,315.60 L43.14,315.60 L43.42,315.60 L43.70,315.60 L43.98,315.60 L44.25,315.60 L44.53,315.60 L44.81,315.60 L45.09,315.60 L45.36,315.60 L45.64,315.60 L45.92,315.60 L46.20,315.60 L46.47,315.60 L46.75,315.60 L47.03,315.60 L47.30,315.60 L47.58,315.60 L47.86,315.60 L48.14,315.60 L48.41,315.60 L48.69,315.60 L48.97,315.60 L49.25,315.60 L49.53,315.60 L49.80,315.60 L50.08,315.60 L50.36,315.60 L50.64,315.60 L50.91,315.60 L51.19,315.60 L51.47,315.60 L51.74,315.60 L52.02,315.60 L52.30,315.60 L52.58,315.60 L52.86,315.60 L53.13,315.60 L53.41,315.60 L53.69,315.60 L53.97,315.60 L54.24,315.60 L54.52,315.60 L54.80,315.60 L55.08,315.60 L55.35,315.60 L55.63,315.60 L55.91,315.60 L56.19,315.60 L56.46,315.60 L56.74,315.60 L57.02,315.60 L57.30,315.60 L57.57,315.60 L57.85,315.60 L58.13,315.60 L58.41,315.60 L58.68,315.60 L58.96,315.60 L59.24,315.60 L59.52,315.60 L59.79,315.60 L60.07,315.60 L60.35,315.60 L60.62,315.60 L60.90,315.60 L61.18,315.60 L61.46,315.60 L61.73,315.60 L62.01,315.60 L62.29,315.60 L62.57,315.60 L62.84,315.60 L63.12,315.60 L63.40,315.60 L63.40,315.60 Z" stroke="#9a9a9a" stroke-width="0.5" fill="#c0c0c0"/>
<path d="M30.10,315.60 L30.38,315.60 L30.66,315.60 L30.93,315.60 L31.21,315.60 L31.49,315.60 L31.77,315.60 L32.04,315.60 L32.32,315.60 L32.60,315.60 L32.88,315.60 L33.15,315.60 L33.43,315.60 L33.71,315.60 L33.98,315.60 L34.26,315.60 L34.54,315.59 L34.82,315.59 L35.09,315.58 L35.37,315.57 L35.65,315.55 L35.93,315.51 L36.20,315.45 L36.48,315.35 L36.76,315.21 L37.04,314.99 L37.31,314.68 L37.59,314.25 L37.87,313.65 L38.15,312.86 L38.42,311.83 L38.70,310.54 L38.98,308.97 L39.26,307.11 L39.53,304.99 L39.81,302.65 L40.09,300.16 L40.37,297.64 L40.64,295.18 L40.92,292.94 L41.20,291.05 L41.48,289.62 L41.76,288.75 L42.03,288.50 L42.31,288.76 L42.59,289.45 L42.87,290.51 L43.14,291.92 L43.42,293.59 L43.70,295.47 L43.98,297.49 L44.25,299.55 L44.53,301.61 L44.81,303.59 L45.09,305.46 L45.36,307.17 L45.64,308.70 L45.92,310.05 L46.20,311.20 L46.47,312.17 L46.75,312.97 L47.03,313.61 L47.30,314.12 L47.58,314.52 L47.86,314.82 L48.14,315.05 L48.41,315.21 L48.69,315.33 L48.97,315.42 L49.25,315.48 L49.53,315.52 L49.80,315.55 L50.08,315.57 L50.36,315.58 L50.64,315.59 L50.91,315.59 L51.19,315.60 L51.47,315.60 L51.74,315.60 L52.02,315.60 L52.30,315.60 L52.58,315.60 L52.86,315.60 L53.13,315.60 L53.41,315.60 L53.69,315.60 L53.97,315.60 L54.24,315.60 L54.52,315.60 L54.80,315.60 L55.08,315.60 L55.35,315.60 L55.63,315.60 L55.91,315.60 L56.19,315.60 L56.46,315.60 L56.74,315.60 L57.02,315.60 L57.30,315.60 L57.57,315.60 L57.85,315.60 L58.13,315.60 L58.41,315.60 L58.68,315.60 L58.96,315.60 L59.24,315.60 L59.52,315.60 L59.79,315.60 L60.07,315.60 L60.35,315.60 L60.62,315.60 L60.90,315.60 L61.18,315.60 L61.46,315.60 L61.73,315.60 L62.01,315.60 L62.29,315.60 L62.57,315.60 L62.84,315.60 L63.12,315.60 L63.40,315.60" stroke="#8c8c8c" stroke-width="0.6" fill="none"/>
<path d="M66.90,315.60 L66.90,315.60 L67.18,315.60 L67.45,315.60 L67.73,315.60 L68.01,315.60 L68.29,315.60 L68.56,315.60 L68.84,315.60 L69.12,315.60 L69.40,315.59 L69.67,315.57 L69.95,315.52 L70.23,315.42 L70.51,315.21 L70.78,314.82 L71.06,314.12 L71.34,312.98 L71.62,311.24 L71.89,308.79 L72.17,305.62 L72.45,301.88 L72.73,297.89 L73.00,294.16 L73.28,291.25 L73.56,289.64 L73.84,289.60 L74.11,290.95 L74.39,293.44 L74.67,296.72 L74.95,300.35 L75.22,303.93 L75.50,307.13 L75.78,309.77 L76.06,311.80 L76.33,313.25 L76.61,314.22 L76.89,314.84 L77.17,315.20 L77.44,315.40 L77.72,315.50 L78.00,315.56 L78.28,315.58 L78.55,315.59 L78.83,315.60 L79.11,315.60 L79.39,315.60 L79.66,315.60 L79.94,315.60 L80.22,315.60 L80.50,315.60 L80.77,315.60 L81.05,315.60 L81.33,315.60 L81.61,315.60 L81.88,315.60 L82.16,315.60 L82.44,315.60 L82.72,315.60 L82.99,315.60 L83.27,315.60 L83.55,315.60 L83.83,315.60 L84.10,315.60 L84.38,315.60 L84.66,315.60 L84.94,315.60 L85.21,315.60 L85.49,315.60 L85.77,315.60 L86.05,315.60 L86.32,315.60 L86.60,315.60 L86.88,315.60 L87.16,315.60 L87.43,315.60 L87.71,315.60 L87.99,315.60 L88.27,315.60 L88.54,315.60 L88.82,315.60 L89.10,315.60 L89.38,315.60 L89.65,315.60 L89.93,315.60 L90.21,315.60 L90.49,315.60 L90.76,315.60 L91.04,315.60 L91.32,315.60 L91.60,315.60 L91.87,315.60 L92.15,315.60 L92.43,315.60 L92.71,315.60 L92.98,315.60 L93.26,315.60 L93.54,315.60 L93.82,315.60 L94.09,315.60 L94.37,315.60 L94.65,315.60 L94.93,315.60 L95.20,315.60 L95.48,315.60 L95.76,315.60 L96.04,315.60 L96.31,315.60 L96.59,315.60 L96.87,315.60 L97.15,315.60 L97.42,315.60 L97.70,315.60 L97.98,315.60 L98.26,315.60 L98.53,315.60 L98.81,315.60 L99.09,315.60 L99.37,315.60 L99.64,315.60 L99.92,315.60 L100.20,315.60 L100.20,315.60 Z" stroke="#9a9a9a" stroke-width="0.5" fill="#c0c0c0"/>
<path d="M66.90,315.60 L67.18,315.60 L67.45,315.60 L67.73,315.60 L68.01,315.60 L68.29,315.60 L68.56,315.60 L68.84,315.60 L69.12,315.60 L69.40,315.60 L69.67,315.60 L69.95,315.59 L70.23,315.59 L70.51,315.58 L70.78,315.55 L71.06,315.52 L71.34,315.45 L71.62,315.34 L71.89,315.17 L72.17,314.90 L72.45,314.50 L72.73,313.92 L73.00,313.10 L73.28,312.01 L73.56,310.58 L73.84,308.80 L74.11,306.67 L74.39,304.20 L74.67,301.49 L74.95,298.65 L75.22,295.85 L75.50,293.26 L75.78,291.08 L76.06,289.48 L76.33,288.61 L76.61,288.50 L76.89,288.89 L77.17,289.69 L77.44,290.86 L77.72,292.35 L78.00,294.09 L78.28,296.02 L78.55,298.06 L78.83,300.13 L79.11,302.18 L79.39,304.13 L79.66,305.96 L79.94,307.62 L80.22,309.10 L80.50,310.39 L80.77,311.49 L81.05,312.41 L81.33,313.16 L81.61,313.77 L81.88,314.24 L82.16,314.61 L82.44,314.89 L82.72,315.10 L82.99,315.25 L83.27,315.36 L83.55,315.44 L83.83,315.49 L84.10,315.53 L84.38,315.56 L84.66,315.57 L84.94,315.58 L85.21,315.59 L85.49,315.59 L85.77,315.60 L86.05,315.60 L86.32,315.60 L86.60,315.60 L86.88,315.60 L87.16,315.60 L87.43,315.60 L87.71,315.60 L87.99,315.60 L88.27,315.60 L88.54,315.60 L88.82,315.60 L89.10,315.60 L89.38,315.60 L89.65,315.60 L89.93,315.60 L90.21,315.60 L90.49,315.60 L90.76,315.60 L91.04,315.60 L91.32,315.60 L91.60,315.60 L91.87,315.60 L92.15,315.60 L92.43,315.60 L92.71,315.60 L92.98,315.60 L93.26,315.60 L93.54,315.60 L93.82,315.60 L94.09,315.60 L94.37,315.60 L94.65,315.60 L94.93,315.60 L95.20,315.60 L95.48,315.60 L95.76,315.60 L96.04,315.60 L96.31,315.60 L96.59,315.60 L96.87,315.60 L97.15,315.60 L97.42,315.60 L97.70,315.60 L97.98,315.60 L98.26,315.60 L98.53,315.60 L98.81,315.60 L99.09,315.60 L99.37,315.60 L99.64,315.60 L99.92,315.60 L100.20,315.60" stroke="#8c8c8c" stroke-width="0.6" fill="none"/>
<path d="M104.20,315.60 L104.20,315.60 L104.48,315.59 L104.75,315.57 L105.03,315.50 L105.31,315.29 L105.59,314.77 L105.86,313.64 L106.14,311.51 L106.42,308.03 L106.70,303.19 L106.97,297.55 L107.25,292.33 L107.53,289.00 L107.81,288.50 L108.08,289.76 L108.36,292.24 L108.64,295.58 L108.92,299.34 L109.19,303.08 L109.47,306.46 L109.75,309.28 L110.03,311.45 L110.30,313.02 L110.58,314.08 L110.86,314.75 L111.14,315.15 L111.41,315.37 L111.69,315.49 L111.97,315.55 L112.25,315.58 L112.52,315.59 L112.80,315.60 L113.08,315.60 L113.36,315.60 L113.63,315.60 L113.91,315.60 L114.19,315.60 L114.47,315.60 L114.74,315.60 L115.02,315.60 L115.30,315.60 L115.58,315.60 L115.85,315.60 L116.13,315.60 L116.41,315.60 L116.69,315.60 L116.96,315.60 L117.24,315.60 L117.52,315.60 L117.80,315.60 L118.07,315.60 L118.35,315.60 L118.63,315.60 L118.91,315.60 L119.18,315.60 L119.46,315.60 L119.74,315.60 L120.02,315.60 L120.29,315.60 L120.57,315.60 L120.85,315.60 L121.13,315.60 L121.40,315.60 L121.68,315.60 L121.96,315.60 L122.24,315.60 L122.51,315.60 L122.79,315.60 L123.07,315.60 L123.35,315.60 L123.62,315.60 L123.90,315.60 L124.18,315.60 L124.46,315.60 L124.73,315.60 L125.01,315.60 L125.29,315.60 L125.57,315.60 L125.84,315.60 L126.12,315.60 L126.40,315.60 L126.68,315.60 L126.95,315.60 L127.23,315.60 L127.51,315.60 L127.79,315.60 L128.06,315.60 L128.34,315.60 L128.62,315.60 L128.90,315.60 L129.17,315.60 L129.45,315.60 L129.73,315.60 L130.01,315.60 L130.28,315.60 L130.56,315.60 L130.84,315.60 L131.12,315.60 L131.39,315.60 L131.67,315.60 L131.95,315.60 L132.23,315.60 L132.50,315.60 L132.78,315.60 L133.06,315.60 L133.34,315.60 L133.61,315.60 L133.89,315.60 L134.17,315.60 L134.45,315.60 L134.72,315.60 L135.00,315.60 L135.28,315.60 L135.56,315.60 L135.83,315.60 L136.11,315.60 L136.39,315.60 L136.67,315.60 L136.94,315.60 L137.22,315.60 L137.50,315.60 L137.50,315.60 Z" stroke="#7a7a7a" stroke-width="0.5" fill="#c0c0c0"/>
<path d="M104.20,315.60 L104.48,315.59 L104.75,315.57 L105.03,315.50 L105.31,315.29 L105.59,314.77 L105.86,313.64 L106.14,311.51 L106.42,308.03 L106.70,303.19 L106.97,297.55 L107.25,292.33 L107.53,289.00 L107.81,288.50 L108.08,289.76 L108.36,292.24 L108.64,295.58 L108.92,299.34 L109.19,303.08 L109.47,306.46 L109.75,309.28 L110.03,311.45 L110.30,313.02 L110.58,314.08 L110.86,314.75 L111.14,315.15 L111.41,315.37 L111.69,315.49 L111.97,315.55 L112.25,315.58 L112.52,315.59 L112.80,315.60 L113.08,315.60 L113.36,315.60 L113.63,315.60 L113.91,315.60 L114.19,315.60 L114.47,315.60 L114.74,315.60 L115.02,315.60 L115.30,315.60 L115.58,315.60 L115.85,315.60 L116.13,315.60 L116.41,315.60 L116.69,315.60 L116.96,315.60 L117.24,315.60 L117.52,315.60 L117.80,315.60 L118.07,315.60 L118.35,315.60 L118.63,315.60 L118.91,315.60 L119.18,315.60 L119.46,315.60 L119.74,315.60 L120.02,315.60 L120.29,315.60 L120.57,315.60 L120.85,315.60 L121.13,315.60 L121.40,315.60 L121.68,315.60 L121.96,315.60 L122.24,315.60 L122.51,315.60 L122.79,315.60 L123.07,315.60 L123.35,315.60 L123.62,315.60 L123.90,315.60 L124.18,315.60 L124.46,315.60 L124.73,315.60 L125.01,315.60 L125.29,315.60 L125.57,315.60 L125.84,315.60 L126.12,315.60 L126.40,315.60 L126.68,315.60 L126.95,315.60 L127.23,315.60 L127.51,315.60 L127.79,315.60 L128.06,315.60 L128.34,315.60 L128.62,315.60 L128.90,315.60 L129.17,315.60 L129.45,315.60 L129.73,315.60 L130.01,315.60 L130.28,315.60 L130.56,315.60 L130.84,315.60 L131.12,315.60 L131.39,315.60 L131.67,315.60 L131.95,315.60 L132.23,315.60 L132.50,315.60 L132.78,315.60 L133.06,315.60 L133.34,315.60 L133.61,315.60 L133.89,315.60 L134.17,315.60 L134.45,315.60 L134.72,315.60 L135.00,315.60 L135.28,315.60 L135.56,315.60 L135.83,315.60 L136.11,315.60 L136.39,315.60 L136.67,315.60 L136.94,315.60 L137.22,315.60 L137.50,315.60" stroke="#7a7a7a" stroke-width="0.6" fill="none"/>
<path d="M30.10,350.90 L30.10,350.90 L30.38,350.90 L30.66,350.90 L30.93,350.88 L31.21,350.84 L31.49,350.70 L31.77,350.35 L32.04,349.53 L32.32,347.88 L32.60,345.01 L32.88,340.70 L33.15,335.26 L33.43,329.64 L33.71,325.27 L33.98,323.50 L34.26,324.14 L34.54,326.13 L34.82,329.17 L35.09,332.83 L35.37,336.65 L35.65,340.25 L35.93,343.36 L36.20,345.83 L36.48,347.68 L36.76,348.95 L37.04,349.79 L37.31,350.30 L37.59,350.59 L37.87,350.75 L38.15,350.83 L38.42,350.87 L38.70,350.89 L38.98,350.90 L39.26,350.90 L39.53,350.90 L39.81,350.90 L40.09,350.90 L40.37,350.90 L40.64,350.90 L40.92,350.90 L41.20,350.90 L41.48,350.90 L41.76,350.90 L42.03,350.90 L42.31,350.90 L42.59,350.90 L42.87,350.90 L43.14,350.90 L43.42,350.90 L43.70,350.90 L43.98,350.90 L44.25,350.90 L44.53,350.90 L44.81,350.90 L45.09,350.90 L45.36,350.90 L45.64,350.90 L45.92,350.90 L46.20,350.90 L46.47,350.90 L46.75,350.90 L47.03,350.90 L47.30,350.90 L47.58,350.90 L47.86,350.90 L48.14,350.90 L48.41,350.90 L48.69,350.90 L48.97,350.90 L49.25,350.90 L49.53,350.90 L49.80,350.90 L50.08,350.90 L50.36,350.90 L50.64,350.90 L50.91,350.90 L51.19,350.90 L51.47,350.90 L51.74,350.90 L52.02,350.90 L52.30,350.90 L52.58,350.90 L52.86,350.90 L53.13,350.90 L53.41,350.90 L53.69,350.90 L53.97,350.90 L54.24,350.90 L54.52,350.90 L54.80,350.90 L55.08,350.90 L55.35,350.90 L55.63,350.90 L55.91,350.90 L56.19,350.90 L56.46,350.90 L56.74,350.90 L57.02,350.90 L57.30,350.90 L57.57,350.90 L57.85,350.90 L58.13,350.90 L58.41,350.90 L58.68,350.90 L58.96,350.90 L59.24,350.90 L59.52,350.90 L59.79,350.90 L60.07,350.90 L60.35,350.90 L60.62,350.90 L60.90,350.90 L61.18,350.90 L61.46,350.90 L61.73,350.90 L62.01,350.90 L62.29,350.90 L62.57,350.90 L62.84,350.90 L63.12,350.90 L63.40,350.90 L63.40,350.90 Z" stroke="#9a9a9a" stroke-width="0.5" fill="#c0c0c0"/>
<path d="M30.10,350.90 L30.38,350.90 L30.66,350.90 L30.93,350.90 L31.21,350.90 L31.49,350.90 L31.77,350.90 L32.04,350.90 L32.32,350.90 L32.60,350.90 L32.88,350.90 L33.15,350.90 L33.43,350.90 L33.71,350.90 L33.98,350.90 L34.26,350.90 L34.54,350.90 L34.82,350.90 L35.09,350.90 L35.37,350.90 L35.65,350.90 L35.93,350.90 L36.20,350.90 L36.48,350.90 L36.76,350.90 L37.04,350.90 L37.31,350.90 L37.59,350.90 L37.87,350.90 L38.15,350.90 L38.42,350.90 L38.70,350.90 L38.98,350.90 L39.26,350.90 L39.53,350.89 L39.81,350.88 L40.09,350.86 L40.37,350.82 L40.64,350.73 L40.92,350.57 L41.20,350.29 L41.48,349.83 L41.76,349.10 L42.03,348.00 L42.31,346.43 L42.59,344.32 L42.87,341.65 L43.14,338.48 L43.42,334.96 L43.70,331.36 L43.98,328.01 L44.25,325.28 L44.53,323.50 L44.81,322.90 L45.09,323.40 L45.36,324.80 L45.64,326.96 L45.92,329.69 L46.20,332.73 L46.47,335.86 L46.75,338.87 L47.03,341.60 L47.30,343.96 L47.58,345.89 L47.86,347.40 L48.14,348.54 L48.41,349.37 L48.69,349.93 L48.97,350.31 L49.25,350.55 L49.53,350.70 L49.80,350.79 L50.08,350.84 L50.36,350.87 L50.64,350.89 L50.91,350.89 L51.19,350.90 L51.47,350.90 L51.74,350.90 L52.02,350.90 L52.30,350.90 L52.58,350.90 L52.86,350.90 L53.13,350.90 L53.41,350.90 L53.69,350.90 L53.97,350.90 L54.24,350.90 L54.52,350.90 L54.80,350.90 L55.08,350.90 L55.35,350.90 L55.63,350.90 L55.91,350.90 L56.19,350.90 L56.46,350.90 L56.74,350.90 L57.02,350.90 L57.30,350.90 L57.57,350.90 L57.85,350.90 L58.13,350.90 L58.41,350.90 L58.68,350.90 L58.96,350.90 L59.24,350.90 L59.52,350.90 L59.79,350.90 L60.07,350.90 L60.35,350.90 L60.62,350.90 L60.90,350.90 L61.18,350.90 L61.46,350.90 L61.73,350.90 L62.01,350.90 L62.29,350.90 L62.57,350.90 L62.84,350.90 L63.12,350.90 L63.40,350.90" stroke="#8c8c8c" stroke-width="0.6" fill="none"/>
<path d="M66.90,350.90 L66.90,350.90 L67.18,350.90 L67.45,350.90 L67.73,350.90 L68.01,350.90 L68.29,350.90 L68.56,350.90 L68.84,350.89 L69.12,350.87 L69.40,350.83 L69.67,350.74 L69.95,350.56 L70.23,350.21 L70.51,349.58 L70.78,348.53 L71.06,346.91 L71.34,344.59 L71.62,341.54 L71.89,337.86 L72.17,333.86 L72.45,330.01 L72.73,326.87 L73.00,324.96 L73.28,324.60 L73.56,325.54 L73.84,327.53 L74.11,330.33 L74.39,333.60 L74.67,336.99 L74.95,340.22 L75.22,343.07 L75.50,345.41 L75.78,347.22 L76.06,348.55 L76.33,349.46 L76.61,350.06 L76.89,350.43 L77.17,350.65 L77.44,350.77 L77.72,350.84 L78.00,350.87 L78.28,350.89 L78.55,350.89 L78.83,350.90 L79.11,350.90 L79.39,350.90 L79.66,350.90 L79.94,350.90 L80.22,350.90 L80.50,350.90 L80.77,350.90 L81.05,350.90 L81.33,350.90 L81.61,350.90 L81.88,350.90 L82.16,350.90 L82.44,350.90 L82.72,350.90 L82.99,350.90 L83.27,350.90 L83.55,350.90 L83.83,350.90 L84.10,350.90 L84.38,350.90 L84.66,350.90 L84.94,350.90 L85.21,350.90 L85.49,350.90 L85.77,350.90 L86.05,350.90 L86.32,350.90 L86.60,350.90 L86.88,350.90 L87.16,350.90 L87.43,350.90 L87.71,350.90 L87.99,350.90 L88.27,350.90 L88.54,350.90 L88.82,350.90 L89.10,350.90 L89.38,350.90 L89.65,350.90 L89.93,350.90 L90.21,350.90 L90.49,350.90 L90.76,350.90 L91.04,350.90 L91.32,350.90 L91.60,350.90 L91.87,350.90 L92.15,350.90 L92.43,350.90 L92.71,350.90 L92.98,350.90 L93.26,350.90 L93.54,350.90 L93.82,350.90 L94.09,350.90 L94.37,350.90 L94.65,350.90 L94.93,350.90 L95.20,350.90 L95.48,350.90 L95.76,350.90 L96.04,350.90 L96.31,350.90 L96.59,350.90 L96.87,350.90 L97.15,350.90 L97.42,350.90 L97.70,350.90 L97.98,350.90 L98.26,350.90 L98.53,350.90 L98.81,350.90 L99.09,350.90 L99.37,350.90 L99.64,350.90 L99.92,350.90 L100.20,350.90 L100.20,350.90 Z" stroke="#9a9a9a" stroke-width="0.5" fill="#c0c0c0"/>
<path d="M66.90,350.90 L67.18,350.90 L67.45,350.90 L67.73,350.90 L68.01,350.90 L68.29,350.90 L68.56,350.90 L68.84,350.90 L69.12,350.90 L69.40,350.90 L69.67,350.90 L69.95,350.90 L70.23,350.90 L70.51,350.90 L70.78,350.90 L71.06,350.90 L71.34,350.90 L71.62,350.89 L71.89,350.88 L72.17,350.86 L72.45,350.83 L72.73,350.78 L73.00,350.68 L73.28,350.53 L73.56,350.30 L73.84,349.94 L74.11,349.41 L74.39,348.66 L74.67,347.64 L74.95,346.30 L75.22,344.59 L75.50,342.50 L75.78,340.05 L76.06,337.31 L76.33,334.37 L76.61,331.40 L76.89,328.57 L77.17,326.10 L77.44,324.16 L77.72,322.92 L78.00,322.50 L78.28,322.92 L78.55,324.16 L78.83,326.10 L79.11,328.57 L79.39,331.40 L79.66,334.37 L79.94,337.31 L80.22,340.05 L80.50,342.50 L80.77,344.59 L81.05,346.30 L81.33,347.64 L81.61,348.66 L81.88,349.41 L82.16,349.94 L82.44,350.30 L82.72,350.53 L82.99,350.68 L83.27,350.78 L83.55,350.83 L83.83,350.86 L84.10,350.88 L84.38,350.89 L84.66,350.90 L84.94,350.90 L85.21,350.90 L85.49,350.90 L85.77,350.90 L86.05,350.90 L86.32,350.90 L86.60,350.90 L86.88,350.90 L87.16,350.90 L87.43,350.90 L87.71,350.90 L87.99,350.90 L88.27,350.90 L88.54,350.90 L88.82,350.90 L89.10,350.90 L89.38,350.90 L89.65,350.90 L89.93,350.90 L90.21,350.90 L90.49,350.90 L90.76,350.90 L91.04,350.90 L91.32,350.90 L91.60,350.90 L91.87,350.90 L92.15,350.90 L92.43,350.90 L92.71,350.90 L92.98,350.90 L93.26,350.90 L93.54,350.90 L93.82,350.90 L94.09,350.90 L94.37,350.90 L94.65,350.90 L94.93,350.90 L95.20,350.90 L95.48,350.90 L95.76,350.90 L96.04,350.90 L96.31,350.90 L96.59,350.90 L96.87,350.90 L97.15,350.90 L97.42,350.90 L97.70,350.90 L97.98,350.90 L98.26,350.90 L98.53,350.90 L98.81,350.90 L99.09,350.90 L99.37,350.90 L99.64,350.90 L99.92,350.90 L100.20,350.90" stroke="#8c8c8c" stroke-width="0.6" fill="none"/>
<path d="M104.20,350.90 L104.20,350.90 L104.48,350.89 L104.75,350.87 L105.03,350.79 L105.31,350.58 L105.59,350.04 L105.86,348.88 L106.14,346.68 L106.42,343.09 L106.70,338.10 L106.97,332.28 L107.25,326.89 L107.53,323.45 L107.81,322.90 L108.08,323.74 L108.36,325.44 L108.64,327.83 L108.92,330.71 L109.19,333.82 L109.47,336.93 L109.75,339.87 L110.03,342.48 L110.30,344.69 L110.58,346.47 L110.86,347.85 L111.14,348.87 L111.41,349.59 L111.69,350.09 L111.97,350.41 L112.25,350.62 L112.52,350.74 L112.80,350.81 L113.08,350.85 L113.36,350.88 L113.63,350.89 L113.91,350.89 L114.19,350.90 L114.47,350.90 L114.74,350.90 L115.02,350.90 L115.30,350.90 L115.58,350.90 L115.85,350.90 L116.13,350.90 L116.41,350.90 L116.69,350.90 L116.96,350.90 L117.24,350.90 L117.52,350.90 L117.80,350.90 L118.07,350.90 L118.35,350.90 L118.63,350.90 L118.91,350.90 L119.18,350.90 L119.46,350.90 L119.74,350.90 L120.02,350.90 L120.29,350.90 L120.57,350.90 L120.85,350.90 L121.13,350.90 L121.40,350.90 L121.68,350.90 L121.96,350.90 L122.24,350.90 L122.51,350.90 L122.79,350.90 L123.07,350.90 L123.35,350.90 L123.62,350.90 L123.90,350.90 L124.18,350.90 L124.46,350.90 L124.73,350.90 L125.01,350.90 L125.29,350.90 L125.57,350.90 L125.84,350.90 L126.12,350.90 L126.40,350.90 L126.68,350.90 L126.95,350.90 L127.23,350.90 L127.51,350.90 L127.79,350.90 L128.06,350.90 L128.34,350.90 L128.62,350.90 L128.90,350.90 L129.17,350.90 L129.45,350.90 L129.73,350.90 L130.01,350.90 L130.28,350.90 L130.56,350.90 L130.84,350.90 L131.12,350.90 L131.39,350.90 L131.67,350.90 L131.95,350.90 L132.23,350.90 L132.50,350.90 L132.78,350.90 L133.06,350.90 L133.34,350.90 L133.61,350.90 L133.89,350.90 L134.17,350.90 L134.45,350.90 L134.72,350.90 L135.00,350.90 L135.28,350.90 L135.56,350.90 L135.83,350.90 L136.11,350.90 L136.39,350.90 L136.67,350.90 L136.94,350.90 L137.22,350.90 L137.50,350.90 L137.50,350.90 Z" stroke="#7a7a7a" stroke-width="0.5" fill="#c0c0c0"/>
<path d="M104.20,350.90 L104.48,350.89 L104.75,350.87 L105.03,350.79 L105.31,350.58 L105.59,350.04 L105.86,348.88 L106.14,346.68 L106.42,343.09 L106.70,338.10 L106.97,332.28 L107.25,326.89 L107.53,323.45 L107.81,322.90 L108.08,323.74 L108.36,325.44 L108.64,327.83 L108.92,330.71 L109.19,333.82 L109.47,336.93 L109.75,339.87 L110.03,342.48 L110.30,344.69 L110.58,346.47 L110.86,347.85 L111.14,348.87 L111.41,349.59 L111.69,350.09 L111.97,350.41 L112.25,350.62 L112.52,350.74 L112.80,350.81 L113.08,350.85 L113.36,350.88 L113.63,350.89 L113.91,350.89 L114.19,350.90 L114.47,350.90 L114.74,350.90 L115.02,350.90 L115.30,350.90 L115.58,350.90 L115.85,350.90 L116.13,350.90 L116.41,350.90 L116.69,350.90 L116.96,350.90 L117.24,350.90 L117.52,350.90 L117.80,350.90 L118.07,350.90 L118.35,350.90 L118.63,350.90 L118.91,350.90 L119.18,350.90 L119.46,350.90 L119.74,350.90 L120.02,350.90 L120.29,350.90 L120.57,350.90 L120.85,350.90 L121.13,350.90 L121.40,350.90 L121.68,350.90 L121.96,350.90 L122.24,350.90 L122.51,350.90 L122.79,350.90 L123.07,350.90 L123.35,350.90 L123.62,350.90 L123.90,350.90 L124.18,350.90 L124.46,350.90 L124.73,350.90 L125.01,350.90 L125.29,350.90 L125.57,350.90 L125.84,350.90 L126.12,350.90 L126.40,350.90 L126.68,350.90 L126.95,350.90 L127.23,350.90 L127.51,350.90 L127.79,350.90 L128.06,350.90 L128.34,350.90 L128.62,350.90 L128.90,350.90 L129.17,350.90 L129.45,350.90 L129.73,350.90 L130.01,350.90 L130.28,350.90 L130.56,350.90 L130.84,350.90 L131.12,350.90 L131.39,350.90 L131.67,350.90 L131.95,350.90 L132.23,350.90 L132.50,350.90 L132.78,350.90 L133.06,350.90 L133.34,350.90 L133.61,350.90 L133.89,350.90 L134.17,350.90 L134.45,350.90 L134.72,350.90 L135.00,350.90 L135.28,350.90 L135.56,350.90 L135.83,350.90 L136.11,350.90 L136.39,350.90 L136.67,350.90 L136.94,350.90 L137.22,350.90 L137.50,350.90" stroke="#7a7a7a" stroke-width="0.6" fill="none"/>
<rect x="29.50" y="51.00" width="34.5" height="31.2" fill="none" stroke="#555" stroke-width="0.9"/>
<rect x="66.30" y="51.00" width="34.5" height="31.2" fill="none" stroke="#555" stroke-width="0.9"/>
<rect x="103.60" y="51.00" width="34.5" height="31.2" fill="none" stroke="#555" stroke-width="0.9"/>
<rect x="29.50" y="89.40" width="34.5" height="31.2" fill="none" stroke="#555" stroke-width="0.9"/>
<rect x="66.30" y="89.40" width="34.5" height="31.2" fill="none" stroke="#555" stroke-width="0.9"/>
<rect x="103.60" y="89.40" width="34.5" height="31.2" fill="none" stroke="#555" stroke-width="0.9"/>
<rect x="29.50" y="127.40" width="34.5" height="31.2" fill="none" stroke="#555" stroke-width="0.9"/>
<rect x="66.30" y="127.40" width="34.5" height="31.2" fill="none" stroke="#555" stroke-width="0.9"/>
<rect x="103.60" y="127.40" width="34.5" height="31.2" fill="none" stroke="#555" stroke-width="0.9"/>
<rect x="29.50" y="165.40" width="34.5" height="31.2" fill="none" stroke="#555" stroke-width="0.9"/>
<rect x="66.30" y="165.40" width="34.5" height="31.2" fill="none" stroke="#555" stroke-width="0.9"/>
<rect x="103.60" y="165.40" width="34.5" height="31.2" fill="none" stroke="#555" stroke-width="0.9"/>
<rect x="29.50" y="204.60" width="34.5" height="31.2" fill="none" stroke="#555" stroke-width="0.9"/>
<rect x="66.30" y="204.60" width="34.5" height="31.2" fill="none" stroke="#555" stroke-width="0.9"/>
<rect x="103.60" y="204.60" width="34.5" height="31.2" fill="none" stroke="#555" stroke-width="0.9"/>
<rect x="29.50" y="245.20" width="34.5" height="31.2" fill="none" stroke="#555" stroke-width="0.9"/>
<rect x="66.30" y="245.20" width="34.5" height="31.2" fill="none" stroke="#555" stroke-width="0.9"/>
<rect x="103.60" y="245.20" width="34.5" height="31.2" fill="none" stroke="#555" stroke-width="0.9"/>
<rect x="29.50" y="285.00" width="34.5" height="31.2" fill="none" stroke="#555" stroke-width="0.9"/>
<rect x="66.30" y="285.00" width="34.5" height="31.2" fill="none" stroke="#555" stroke-width="0.9"/>
<rect x="103.60" y="285.00" width="34.5" height="31.2" fill="none" stroke="#555" stroke-width="0.9"/>
<rect x="29.50" y="320.30" width="34.5" height="31.2" fill="none" stroke="#555" stroke-width="0.9"/>
<rect x="66.30" y="320.30" width="34.5" height="31.2" fill="none" stroke="#555" stroke-width="0.9"/>
<rect x="103.60" y="320.30" width="34.5" height="31.2" fill="none" stroke="#555" stroke-width="0.9"/>
<rect x="165.50" y="23.50" width="130.00" height="128.50" fill="none" stroke="#4a6078" stroke-width="1.2"/>
<defs><clipPath id="ca"><circle cx="209.8" cy="73.0" r="35.6"/></clipPath><clipPath id="cb"><circle cx="249.2" cy="73.0" r="35.6"/></clipPath></defs>
<circle cx="209.80" cy="73.00" r="35.6" fill="#e5827a"/>
<circle cx="249.20" cy="73.00" r="35.6" fill="#8694b4"/>
<circle cx="229.40" cy="108.40" r="35.6" fill="#a3d49c"/>
<circle cx="249.2" cy="73.0" r="35.6" fill="#8f6070" clip-path="url(#ca)"/>
<circle cx="229.4" cy="108.4" r="35.6" fill="#9e7a50" clip-path="url(#ca)"/>
<circle cx="229.4" cy="108.4" r="35.6" fill="#5e8c7c" clip-path="url(#cb)"/>
<g clip-path="url(#ca)"><circle cx="229.4" cy="108.4" r="35.6" fill="#655850" clip-path="url(#cb)"/></g>
<circle cx="209.8" cy="73.0" r="35.6" fill="none" stroke="#3a3050" stroke-width="1.2" stroke-opacity="0.9"/>
<circle cx="249.2" cy="73.0" r="35.6" fill="none" stroke="#2a3a60" stroke-width="1.2" stroke-opacity="0.9"/>
<circle cx="229.4" cy="108.4" r="35.6" fill="none" stroke="#2a4a3a" stroke-width="1.2" stroke-opacity="0.9"/>
<text x="175.50" y="36.70" font-size="8.4" text-anchor="middle" textLength="15.00" lengthAdjust="spacingAndGlyphs" fill="#d0404a" color="#d0404a">PVR</text>
<text x="264.70" y="34.40" font-size="8.4" text-anchor="middle" textLength="31.60" lengthAdjust="spacingAndGlyphs" fill="#4a6488" color="#4a6488">Nectin-2</text>
<text x="185.30" y="146.00" font-size="8.6" text-anchor="middle" textLength="24.60" lengthAdjust="spacingAndGlyphs" fill="#6cbf6c" color="#6cbf6c">B7-H6</text>
<text x="201.80" y="71.90" font-size="8.8" text-anchor="middle" fill="#3a2a2a" color="#3a2a2a">2</text>
<text x="231.20" y="66.30" font-size="8.8" text-anchor="middle" textLength="7.60" lengthAdjust="spacingAndGlyphs" fill="#3a2a2a" color="#3a2a2a">16</text>
<text x="230.70" y="89.20" font-size="8.8" text-anchor="middle" fill="#3a2a2a" color="#3a2a2a">5</text>
<text x="212.80" y="100.80" font-size="8.8" text-anchor="middle" fill="#3a2a2a" color="#3a2a2a">2</text>
<text x="232.30" y="127.80" font-size="8.8" text-anchor="middle" fill="#3a2a2a" color="#3a2a2a">1</text>
<text x="278.40" y="137.20" font-size="8.8" text-anchor="middle" fill="#333" color="#333">5</text>
<line x1="359.00" y1="38.80" x2="359.00" y2="164.20" stroke="#333" stroke-width="1.3"/>
<line x1="358.50" y1="163.50" x2="468.70" y2="163.50" stroke="#333" stroke-width="1.3"/>
<text x="352.80" y="44.97" font-size="8.5" text-anchor="end" fill="#3a3a3a" color="#3a3a3a">100</text>
<line x1="355.80" y1="41.87" x2="359.00" y2="41.87" stroke="#333" stroke-width="1.15"/>
<text x="352.80" y="85.53" font-size="8.5" text-anchor="end" fill="#3a3a3a" color="#3a3a3a">50</text>
<line x1="355.80" y1="82.44" x2="359.00" y2="82.44" stroke="#333" stroke-width="1.15"/>
<text x="352.80" y="126.10" font-size="8.5" text-anchor="end" fill="#3a3a3a" color="#3a3a3a">0</text>
<line x1="355.80" y1="123.00" x2="359.00" y2="123.00" stroke="#333" stroke-width="1.15"/>
<text x="352.80" y="166.66" font-size="8.5" text-anchor="end" fill="#3a3a3a" color="#3a3a3a">−50</text>
<line x1="355.80" y1="163.56" x2="359.00" y2="163.56" stroke="#333" stroke-width="1.15"/>
<line x1="389.80" y1="163.70" x2="389.80" y2="166.40" stroke="#333" stroke-width="1.15"/>
<line x1="437.10" y1="163.70" x2="437.10" y2="166.40" stroke="#333" stroke-width="1.15"/>
<text x="389.80" y="176.80" font-size="8.2" text-anchor="middle" textLength="12.60" lengthAdjust="spacingAndGlyphs" fill="#3a3a3a" color="#3a3a3a">NO</text>
<text x="437.20" y="176.80" font-size="8.2" text-anchor="middle" textLength="14.00" lengthAdjust="spacingAndGlyphs" fill="#3a3a3a" color="#3a3a3a">YES</text>
<text x="414.00" y="30.70" font-size="8.8" text-anchor="middle" textLength="67.70" lengthAdjust="spacingAndGlyphs" fill="#3a3a3a" color="#3a3a3a">Ligand expression</text>
<text x="413.50" y="45.70" font-size="8.8" text-anchor="middle" textLength="25.50" lengthAdjust="spacingAndGlyphs" fill="#3a3a3a" color="#3a3a3a">0.0476</text>
<path d="M389.9,111 V51.2 H437.2 V57.6" stroke="#333" stroke-width="1.15" fill="none"/>
<text transform="translate(320.90,101.70) rotate(-90)" x="0" y="0" font-size="10" text-anchor="middle" textLength="82.80" lengthAdjust="spacingAndGlyphs" fill="#3a3a3a" color="#3a3a3a">% Increase in apoptosis</text>
<text transform="translate(333.60,101.70) rotate(-90)" x="0" y="0" font-size="10" text-anchor="middle" textLength="86.90" lengthAdjust="spacingAndGlyphs" fill="#3a3a3a" color="#3a3a3a">(to control w/o DOT cells)</text>
<line x1="390.00" y1="118.70" x2="390.00" y2="126.90" stroke="#5a6878" stroke-width="1.1"/>
<line x1="382.30" y1="118.70" x2="397.70" y2="118.70" stroke="#5a6878" stroke-width="1.1"/>
<line x1="382.30" y1="126.90" x2="397.70" y2="126.90" stroke="#5a6878" stroke-width="1.1"/>
<line x1="377.10" y1="122.80" x2="402.90" y2="122.80" stroke="#5a6878" stroke-width="1.1"/>
<circle cx="376.80" cy="118.50" r="2.2" fill="#3d4a5b" stroke="#2a3442" stroke-width="0.6"/>
<circle cx="385.40" cy="121.50" r="2.2" fill="#3d4a5b" stroke="#2a3442" stroke-width="0.6"/>
<circle cx="395.00" cy="120.80" r="2.2" fill="#3d4a5b" stroke="#2a3442" stroke-width="0.6"/>
<circle cx="403.20" cy="122.70" r="2.2" fill="#3d4a5b" stroke="#2a3442" stroke-width="0.6"/>
<circle cx="389.80" cy="129.20" r="2.2" fill="#3d4a5b" stroke="#2a3442" stroke-width="0.6"/>
<line x1="437.30" y1="82.50" x2="437.30" y2="125.40" stroke="#c8283f" stroke-width="1.1"/>
<line x1="429.80" y1="82.50" x2="444.80" y2="82.50" stroke="#c8283f" stroke-width="1.1"/>
<line x1="429.80" y1="125.40" x2="444.80" y2="125.40" stroke="#c8283f" stroke-width="1.1"/>
<line x1="421.70" y1="104.00" x2="452.90" y2="104.00" stroke="#c8283f" stroke-width="1.1"/>
<circle cx="432.70" cy="65.20" r="2.2" fill="#c2163a" stroke="#8c0a24" stroke-width="0.6"/>
<circle cx="441.70" cy="67.10" r="2.2" fill="#c2163a" stroke="#8c0a24" stroke-width="0.6"/>
<circle cx="450.40" cy="79.40" r="2.2" fill="#c2163a" stroke="#8c0a24" stroke-width="0.6"/>
<circle cx="424.00" cy="84.40" r="2.2" fill="#c2163a" stroke="#8c0a24" stroke-width="0.6"/>
<circle cx="432.70" cy="83.10" r="2.2" fill="#c2163a" stroke="#8c0a24" stroke-width="0.6"/>
<circle cx="441.70" cy="82.50" r="2.2" fill="#c2163a" stroke="#8c0a24" stroke-width="0.6"/>
<circle cx="424.00" cy="90.20" r="2.2" fill="#c2163a" stroke="#8c0a24" stroke-width="0.6"/>
<circle cx="432.70" cy="88.70" r="2.2" fill="#c2163a" stroke="#8c0a24" stroke-width="0.6"/>
<circle cx="441.70" cy="91.60" r="2.2" fill="#c2163a" stroke="#8c0a24" stroke-width="0.6"/>
<circle cx="450.40" cy="91.60" r="2.2" fill="#c2163a" stroke="#8c0a24" stroke-width="0.6"/>
<circle cx="432.70" cy="99.20" r="2.2" fill="#c2163a" stroke="#8c0a24" stroke-width="0.6"/>
<circle cx="441.70" cy="100.80" r="2.2" fill="#c2163a" stroke="#8c0a24" stroke-width="0.6"/>
<circle cx="450.40" cy="98.80" r="2.2" fill="#c2163a" stroke="#8c0a24" stroke-width="0.6"/>
<circle cx="424.00" cy="106.90" r="2.2" fill="#c2163a" stroke="#8c0a24" stroke-width="0.6"/>
<circle cx="441.70" cy="105.80" r="2.2" fill="#c2163a" stroke="#8c0a24" stroke-width="0.6"/>
<circle cx="450.40" cy="107.50" r="2.2" fill="#c2163a" stroke="#8c0a24" stroke-width="0.6"/>
<circle cx="441.70" cy="111.70" r="2.2" fill="#c2163a" stroke="#8c0a24" stroke-width="0.6"/>
<circle cx="432.70" cy="113.80" r="2.2" fill="#c2163a" stroke="#8c0a24" stroke-width="0.6"/>
<circle cx="424.00" cy="121.10" r="2.2" fill="#c2163a" stroke="#8c0a24" stroke-width="0.6"/>
<circle cx="432.70" cy="120.70" r="2.2" fill="#c2163a" stroke="#8c0a24" stroke-width="0.6"/>
<circle cx="450.30" cy="121.10" r="2.2" fill="#c2163a" stroke="#8c0a24" stroke-width="0.6"/>
<circle cx="424.00" cy="127.00" r="2.2" fill="#c2163a" stroke="#8c0a24" stroke-width="0.6"/>
<circle cx="432.70" cy="129.70" r="2.2" fill="#c2163a" stroke="#8c0a24" stroke-width="0.6"/>
<circle cx="441.40" cy="125.80" r="2.2" fill="#c2163a" stroke="#8c0a24" stroke-width="0.6"/>
<circle cx="437.10" cy="141.10" r="2.2" fill="#c2163a" stroke="#8c0a24" stroke-width="0.6"/>
<circle cx="437.10" cy="148.30" r="2.2" fill="#c2163a" stroke="#8c0a24" stroke-width="0.6"/>
<line x1="200.00" y1="222.00" x2="200.00" y2="330.00" stroke="#333" stroke-width="1.3"/>
<line x1="199.50" y1="329.50" x2="282.50" y2="329.50" stroke="#333" stroke-width="1.3"/>
<text x="194.40" y="226.47" font-size="8.5" text-anchor="end" fill="#3a3a3a" color="#3a3a3a">100</text>
<line x1="196.80" y1="223.37" x2="200.00" y2="223.37" stroke="#333" stroke-width="1.15"/>
<text x="194.40" y="262.04" font-size="8.5" text-anchor="end" fill="#3a3a3a" color="#3a3a3a">50</text>
<line x1="196.80" y1="258.94" x2="200.00" y2="258.94" stroke="#333" stroke-width="1.15"/>
<text x="194.40" y="297.60" font-size="8.5" text-anchor="end" fill="#3a3a3a" color="#3a3a3a">0</text>
<line x1="196.80" y1="294.50" x2="200.00" y2="294.50" stroke="#333" stroke-width="1.15"/>
<text x="194.40" y="333.17" font-size="8.5" text-anchor="end" fill="#3a3a3a" color="#3a3a3a">−50</text>
<line x1="196.80" y1="330.06" x2="200.00" y2="330.06" stroke="#333" stroke-width="1.15"/>
<line x1="223.60" y1="329.50" x2="223.60" y2="332.20" stroke="#333" stroke-width="1.15"/>
<line x1="259.40" y1="329.50" x2="259.40" y2="332.20" stroke="#333" stroke-width="1.15"/>
<text x="223.60" y="343.10" font-size="8.2" text-anchor="middle" textLength="13.20" lengthAdjust="spacingAndGlyphs" fill="#3a3a3a" color="#3a3a3a">NO</text>
<text x="259.40" y="343.10" font-size="8.2" text-anchor="middle" textLength="14.20" lengthAdjust="spacingAndGlyphs" fill="#3a3a3a" color="#3a3a3a">YES</text>
<text x="208.10" y="212.60" font-size="8.8" textLength="67.30" lengthAdjust="spacingAndGlyphs" fill="#3a3a3a" color="#3a3a3a">Expression of PVR</text>
<text x="228.70" y="228.60" font-size="8.8" textLength="25.00" lengthAdjust="spacingAndGlyphs" fill="#3a3a3a" color="#3a3a3a">0.0104</text>
<path d="M223.6,284.2 V234.3 H259.4 V239.4" stroke="#333" stroke-width="1.15" fill="none"/>
<line x1="223.60" y1="290.40" x2="223.60" y2="297.10" stroke="#5a6878" stroke-width="1.1"/>
<line x1="218.80" y1="290.40" x2="228.40" y2="290.40" stroke="#5a6878" stroke-width="1.1"/>
<line x1="218.80" y1="297.10" x2="228.40" y2="297.10" stroke="#5a6878" stroke-width="1.1"/>
<line x1="211.65" y1="295.00" x2="235.55" y2="295.00" stroke="#5a6878" stroke-width="1.1"/>
<circle cx="213.80" cy="293.30" r="2.2" fill="#3d4a5b" stroke="#2a3442" stroke-width="0.6"/>
<circle cx="220.00" cy="290.20" r="2.2" fill="#3d4a5b" stroke="#2a3442" stroke-width="0.6"/>
<circle cx="226.70" cy="294.60" r="2.2" fill="#3d4a5b" stroke="#2a3442" stroke-width="0.6"/>
<circle cx="233.50" cy="292.70" r="2.2" fill="#3d4a5b" stroke="#2a3442" stroke-width="0.6"/>
<circle cx="220.00" cy="300.00" r="2.2" fill="#3d4a5b" stroke="#2a3442" stroke-width="0.6"/>
<circle cx="226.70" cy="300.00" r="2.2" fill="#3d4a5b" stroke="#2a3442" stroke-width="0.6"/>
<line x1="259.40" y1="258.70" x2="259.40" y2="295.20" stroke="#c8283f" stroke-width="1.1"/>
<line x1="253.65" y1="258.70" x2="265.15" y2="258.70" stroke="#c8283f" stroke-width="1.1"/>
<line x1="253.65" y1="295.20" x2="265.15" y2="295.20" stroke="#c8283f" stroke-width="1.1"/>
<line x1="246.90" y1="276.90" x2="271.90" y2="276.90" stroke="#c8283f" stroke-width="1.1"/>
<circle cx="256.20" cy="245.80" r="2.2" fill="#c2163a" stroke="#8c0a24" stroke-width="0.6"/>
<circle cx="262.30" cy="244.20" r="2.2" fill="#c2163a" stroke="#8c0a24" stroke-width="0.6"/>
<circle cx="269.00" cy="256.30" r="2.2" fill="#c2163a" stroke="#8c0a24" stroke-width="0.6"/>
<circle cx="256.20" cy="259.20" r="2.2" fill="#c2163a" stroke="#8c0a24" stroke-width="0.6"/>
<circle cx="262.30" cy="259.60" r="2.2" fill="#c2163a" stroke="#8c0a24" stroke-width="0.6"/>
<circle cx="269.00" cy="261.20" r="2.2" fill="#c2163a" stroke="#8c0a24" stroke-width="0.6"/>
<circle cx="249.80" cy="264.40" r="2.2" fill="#c2163a" stroke="#8c0a24" stroke-width="0.6"/>
<circle cx="256.20" cy="266.90" r="2.2" fill="#c2163a" stroke="#8c0a24" stroke-width="0.6"/>
<circle cx="262.30" cy="266.30" r="2.2" fill="#c2163a" stroke="#8c0a24" stroke-width="0.6"/>
<circle cx="269.00" cy="266.90" r="2.2" fill="#c2163a" stroke="#8c0a24" stroke-width="0.6"/>
<circle cx="249.80" cy="273.50" r="2.2" fill="#c2163a" stroke="#8c0a24" stroke-width="0.6"/>
<circle cx="256.20" cy="275.00" r="2.2" fill="#c2163a" stroke="#8c0a24" stroke-width="0.6"/>
<circle cx="262.30" cy="273.70" r="2.2" fill="#c2163a" stroke="#8c0a24" stroke-width="0.6"/>
<circle cx="256.20" cy="280.40" r="2.2" fill="#c2163a" stroke="#8c0a24" stroke-width="0.6"/>
<circle cx="262.30" cy="279.80" r="2.2" fill="#c2163a" stroke="#8c0a24" stroke-width="0.6"/>
<circle cx="269.00" cy="279.80" r="2.2" fill="#c2163a" stroke="#8c0a24" stroke-width="0.6"/>
<circle cx="256.20" cy="286.50" r="2.2" fill="#c2163a" stroke="#8c0a24" stroke-width="0.6"/>
<circle cx="262.30" cy="284.60" r="2.2" fill="#c2163a" stroke="#8c0a24" stroke-width="0.6"/>
<circle cx="249.80" cy="292.90" r="2.2" fill="#c2163a" stroke="#8c0a24" stroke-width="0.6"/>
<circle cx="262.30" cy="292.30" r="2.2" fill="#c2163a" stroke="#8c0a24" stroke-width="0.6"/>
<circle cx="269.00" cy="292.90" r="2.2" fill="#c2163a" stroke="#8c0a24" stroke-width="0.6"/>
<circle cx="256.20" cy="297.50" r="2.2" fill="#c2163a" stroke="#8c0a24" stroke-width="0.6"/>
<circle cx="262.30" cy="296.50" r="2.2" fill="#c2163a" stroke="#8c0a24" stroke-width="0.6"/>
<circle cx="259.40" cy="310.40" r="2.2" fill="#c2163a" stroke="#8c0a24" stroke-width="0.6"/>
<circle cx="259.40" cy="316.70" r="2.2" fill="#c2163a" stroke="#8c0a24" stroke-width="0.6"/>
<line x1="313.70" y1="222.00" x2="313.70" y2="330.00" stroke="#333" stroke-width="1.3"/>
<line x1="313.20" y1="329.50" x2="396.50" y2="329.50" stroke="#333" stroke-width="1.3"/>
<text x="306.20" y="226.47" font-size="8.5" text-anchor="end" fill="#3a3a3a" color="#3a3a3a">100</text>
<line x1="310.50" y1="223.37" x2="313.70" y2="223.37" stroke="#333" stroke-width="1.15"/>
<text x="306.20" y="262.04" font-size="8.5" text-anchor="end" fill="#3a3a3a" color="#3a3a3a">50</text>
<line x1="310.50" y1="258.94" x2="313.70" y2="258.94" stroke="#333" stroke-width="1.15"/>
<text x="306.20" y="297.60" font-size="8.5" text-anchor="end" fill="#3a3a3a" color="#3a3a3a">0</text>
<line x1="310.50" y1="294.50" x2="313.70" y2="294.50" stroke="#333" stroke-width="1.15"/>
<text x="306.20" y="333.17" font-size="8.5" text-anchor="end" fill="#3a3a3a" color="#3a3a3a">−50</text>
<line x1="310.50" y1="330.06" x2="313.70" y2="330.06" stroke="#333" stroke-width="1.15"/>
<line x1="336.90" y1="329.50" x2="336.90" y2="332.20" stroke="#333" stroke-width="1.15"/>
<line x1="372.60" y1="329.50" x2="372.60" y2="332.20" stroke="#333" stroke-width="1.15"/>
<text x="336.90" y="343.10" font-size="8.2" text-anchor="middle" textLength="13.20" lengthAdjust="spacingAndGlyphs" fill="#3a3a3a" color="#3a3a3a">NO</text>
<text x="372.60" y="343.10" font-size="8.2" text-anchor="middle" textLength="14.20" lengthAdjust="spacingAndGlyphs" fill="#3a3a3a" color="#3a3a3a">YES</text>
<text x="312.70" y="212.60" font-size="8.8" textLength="84.30" lengthAdjust="spacingAndGlyphs" fill="#3a3a3a" color="#3a3a3a">Expression of Nectin-2</text>
<text x="341.70" y="228.60" font-size="8.8" textLength="24.80" lengthAdjust="spacingAndGlyphs" fill="#3a3a3a" color="#3a3a3a">0.0151</text>
<path d="M336.9,268.7 V231.6 H372.6 V238.3" stroke="#333" stroke-width="1.15" fill="none"/>
<line x1="336.90" y1="283.60" x2="336.90" y2="299.40" stroke="#5a6878" stroke-width="1.1"/>
<line x1="331.30" y1="283.60" x2="342.50" y2="283.60" stroke="#5a6878" stroke-width="1.1"/>
<line x1="331.30" y1="299.40" x2="342.50" y2="299.40" stroke="#5a6878" stroke-width="1.1"/>
<line x1="325.20" y1="292.10" x2="348.60" y2="292.10" stroke="#5a6878" stroke-width="1.1"/>
<circle cx="336.90" cy="275.40" r="2.2" fill="#3d4a5b" stroke="#2a3442" stroke-width="0.6"/>
<circle cx="336.90" cy="281.20" r="2.2" fill="#3d4a5b" stroke="#2a3442" stroke-width="0.6"/>
<circle cx="326.70" cy="292.30" r="2.2" fill="#3d4a5b" stroke="#2a3442" stroke-width="0.6"/>
<circle cx="330.60" cy="290.40" r="2.2" fill="#3d4a5b" stroke="#2a3442" stroke-width="0.6"/>
<circle cx="335.40" cy="294.20" r="2.2" fill="#3d4a5b" stroke="#2a3442" stroke-width="0.6"/>
<circle cx="339.20" cy="292.70" r="2.2" fill="#3d4a5b" stroke="#2a3442" stroke-width="0.6"/>
<circle cx="343.10" cy="293.10" r="2.2" fill="#3d4a5b" stroke="#2a3442" stroke-width="0.6"/>
<circle cx="346.90" cy="293.10" r="2.2" fill="#3d4a5b" stroke="#2a3442" stroke-width="0.6"/>
<circle cx="335.00" cy="300.40" r="2.2" fill="#3d4a5b" stroke="#2a3442" stroke-width="0.6"/>
<circle cx="339.20" cy="300.00" r="2.2" fill="#3d4a5b" stroke="#2a3442" stroke-width="0.6"/>
<line x1="372.60" y1="256.20" x2="372.60" y2="295.20" stroke="#c8283f" stroke-width="1.1"/>
<line x1="366.05" y1="256.20" x2="379.15" y2="256.20" stroke="#c8283f" stroke-width="1.1"/>
<line x1="366.05" y1="295.20" x2="379.15" y2="295.20" stroke="#c8283f" stroke-width="1.1"/>
<line x1="360.30" y1="275.40" x2="384.90" y2="275.40" stroke="#c8283f" stroke-width="1.1"/>
<circle cx="369.60" cy="246.00" r="2.2" fill="#c2163a" stroke="#8c0a24" stroke-width="0.6"/>
<circle cx="375.80" cy="244.00" r="2.2" fill="#c2163a" stroke="#8c0a24" stroke-width="0.6"/>
<circle cx="363.30" cy="261.30" r="2.2" fill="#c2163a" stroke="#8c0a24" stroke-width="0.6"/>
<circle cx="369.60" cy="260.00" r="2.2" fill="#c2163a" stroke="#8c0a24" stroke-width="0.6"/>
<circle cx="375.80" cy="256.90" r="2.2" fill="#c2163a" stroke="#8c0a24" stroke-width="0.6"/>
<circle cx="382.50" cy="259.00" r="2.2" fill="#c2163a" stroke="#8c0a24" stroke-width="0.6"/>
<circle cx="363.30" cy="267.10" r="2.2" fill="#c2163a" stroke="#8c0a24" stroke-width="0.6"/>
<circle cx="369.60" cy="266.50" r="2.2" fill="#c2163a" stroke="#8c0a24" stroke-width="0.6"/>
<circle cx="375.80" cy="265.80" r="2.2" fill="#c2163a" stroke="#8c0a24" stroke-width="0.6"/>
<circle cx="382.50" cy="264.60" r="2.2" fill="#c2163a" stroke="#8c0a24" stroke-width="0.6"/>
<circle cx="369.60" cy="273.80" r="2.2" fill="#c2163a" stroke="#8c0a24" stroke-width="0.6"/>
<circle cx="375.80" cy="273.80" r="2.2" fill="#c2163a" stroke="#8c0a24" stroke-width="0.6"/>
<circle cx="369.60" cy="280.20" r="2.2" fill="#c2163a" stroke="#8c0a24" stroke-width="0.6"/>
<circle cx="375.80" cy="279.60" r="2.2" fill="#c2163a" stroke="#8c0a24" stroke-width="0.6"/>
<circle cx="369.60" cy="286.50" r="2.2" fill="#c2163a" stroke="#8c0a24" stroke-width="0.6"/>
<circle cx="375.80" cy="285.00" r="2.2" fill="#c2163a" stroke="#8c0a24" stroke-width="0.6"/>
<circle cx="369.60" cy="293.10" r="2.2" fill="#c2163a" stroke="#8c0a24" stroke-width="0.6"/>
<circle cx="369.60" cy="298.10" r="2.2" fill="#c2163a" stroke="#8c0a24" stroke-width="0.6"/>
<circle cx="375.80" cy="296.50" r="2.2" fill="#c2163a" stroke="#8c0a24" stroke-width="0.6"/>
<circle cx="372.50" cy="310.40" r="2.2" fill="#c2163a" stroke="#8c0a24" stroke-width="0.6"/>
<circle cx="372.50" cy="316.70" r="2.2" fill="#c2163a" stroke="#8c0a24" stroke-width="0.6"/>
<line x1="427.30" y1="222.00" x2="427.30" y2="330.00" stroke="#333" stroke-width="1.3"/>
<line x1="426.80" y1="329.50" x2="512.80" y2="329.50" stroke="#333" stroke-width="1.3"/>
<text x="420.70" y="229.00" font-size="8.5" text-anchor="end" fill="#3a3a3a" color="#3a3a3a">100</text>
<line x1="424.10" y1="225.90" x2="427.30" y2="225.90" stroke="#333" stroke-width="1.15"/>
<text x="420.70" y="263.30" font-size="8.5" text-anchor="end" fill="#3a3a3a" color="#3a3a3a">50</text>
<line x1="424.10" y1="260.20" x2="427.30" y2="260.20" stroke="#333" stroke-width="1.15"/>
<text x="420.70" y="297.60" font-size="8.5" text-anchor="end" fill="#3a3a3a" color="#3a3a3a">0</text>
<line x1="424.10" y1="294.50" x2="427.30" y2="294.50" stroke="#333" stroke-width="1.15"/>
<text x="420.70" y="331.90" font-size="8.5" text-anchor="end" fill="#3a3a3a" color="#3a3a3a">−50</text>
<line x1="424.10" y1="328.80" x2="427.30" y2="328.80" stroke="#333" stroke-width="1.15"/>
<line x1="451.50" y1="329.50" x2="451.50" y2="332.20" stroke="#333" stroke-width="1.15"/>
<line x1="488.30" y1="329.50" x2="488.30" y2="332.20" stroke="#333" stroke-width="1.15"/>
<text x="451.50" y="343.10" font-size="8.2" text-anchor="middle" textLength="13.20" lengthAdjust="spacingAndGlyphs" fill="#3a3a3a" color="#3a3a3a">NO</text>
<text x="488.30" y="343.10" font-size="8.2" text-anchor="middle" textLength="14.20" lengthAdjust="spacingAndGlyphs" fill="#3a3a3a" color="#3a3a3a">YES</text>
<text x="431.10" y="212.60" font-size="8.8" textLength="75.20" lengthAdjust="spacingAndGlyphs" fill="#3a3a3a" color="#3a3a3a">Expression of B7-H6</text>
<text x="457.30" y="228.60" font-size="8.8" textLength="25.60" lengthAdjust="spacingAndGlyphs" fill="#3a3a3a" color="#3a3a3a">0.8078</text>
<path d="M451.5,240.8 V232.6 H488.3 V238.8" stroke="#333" stroke-width="1.15" fill="none"/>
<line x1="451.50" y1="263.80" x2="451.50" y2="297.60" stroke="#5a6878" stroke-width="1.1"/>
<line x1="445.25" y1="263.80" x2="457.75" y2="263.80" stroke="#5a6878" stroke-width="1.1"/>
<line x1="445.25" y1="297.60" x2="457.75" y2="297.60" stroke="#5a6878" stroke-width="1.1"/>
<line x1="439.45" y1="281.90" x2="463.55" y2="281.90" stroke="#5a6878" stroke-width="1.1"/>
<circle cx="451.70" cy="246.90" r="2.2" fill="#3d4a5b" stroke="#2a3442" stroke-width="0.6"/>
<circle cx="447.70" cy="260.40" r="2.2" fill="#3d4a5b" stroke="#2a3442" stroke-width="0.6"/>
<circle cx="451.70" cy="257.50" r="2.2" fill="#3d4a5b" stroke="#2a3442" stroke-width="0.6"/>
<circle cx="455.40" cy="260.40" r="2.2" fill="#3d4a5b" stroke="#2a3442" stroke-width="0.6"/>
<circle cx="447.70" cy="266.50" r="2.2" fill="#3d4a5b" stroke="#2a3442" stroke-width="0.6"/>
<circle cx="455.40" cy="265.20" r="2.2" fill="#3d4a5b" stroke="#2a3442" stroke-width="0.6"/>
<circle cx="449.60" cy="274.40" r="2.2" fill="#3d4a5b" stroke="#2a3442" stroke-width="0.6"/>
<circle cx="454.00" cy="274.40" r="2.2" fill="#3d4a5b" stroke="#2a3442" stroke-width="0.6"/>
<circle cx="451.70" cy="281.20" r="2.2" fill="#3d4a5b" stroke="#2a3442" stroke-width="0.6"/>
<circle cx="448.30" cy="285.00" r="2.2" fill="#3d4a5b" stroke="#2a3442" stroke-width="0.6"/>
<circle cx="455.40" cy="286.90" r="2.2" fill="#3d4a5b" stroke="#2a3442" stroke-width="0.6"/>
<circle cx="441.50" cy="290.80" r="2.2" fill="#3d4a5b" stroke="#2a3442" stroke-width="0.6"/>
<circle cx="445.00" cy="293.10" r="2.2" fill="#3d4a5b" stroke="#2a3442" stroke-width="0.6"/>
<circle cx="448.30" cy="294.60" r="2.2" fill="#3d4a5b" stroke="#2a3442" stroke-width="0.6"/>
<circle cx="451.70" cy="293.70" r="2.2" fill="#3d4a5b" stroke="#2a3442" stroke-width="0.6"/>
<circle cx="455.40" cy="293.10" r="2.2" fill="#3d4a5b" stroke="#2a3442" stroke-width="0.6"/>
<circle cx="458.80" cy="293.10" r="2.2" fill="#3d4a5b" stroke="#2a3442" stroke-width="0.6"/>
<circle cx="462.10" cy="293.70" r="2.2" fill="#3d4a5b" stroke="#2a3442" stroke-width="0.6"/>
<circle cx="448.30" cy="297.50" r="2.2" fill="#3d4a5b" stroke="#2a3442" stroke-width="0.6"/>
<circle cx="451.70" cy="300.40" r="2.2" fill="#3d4a5b" stroke="#2a3442" stroke-width="0.6"/>
<circle cx="455.40" cy="298.50" r="2.2" fill="#3d4a5b" stroke="#2a3442" stroke-width="0.6"/>
<circle cx="451.70" cy="316.70" r="2.2" fill="#3d4a5b" stroke="#2a3442" stroke-width="0.6"/>
<line x1="488.30" y1="258.50" x2="488.30" y2="298.80" stroke="#c8283f" stroke-width="1.1"/>
<line x1="482.25" y1="258.50" x2="494.35" y2="258.50" stroke="#c8283f" stroke-width="1.1"/>
<line x1="482.25" y1="298.80" x2="494.35" y2="298.80" stroke="#c8283f" stroke-width="1.1"/>
<line x1="476.00" y1="278.70" x2="500.60" y2="278.70" stroke="#c8283f" stroke-width="1.1"/>
<circle cx="488.10" cy="245.40" r="2.2" fill="#c2163a" stroke="#8c0a24" stroke-width="0.6"/>
<circle cx="483.80" cy="268.10" r="2.2" fill="#c2163a" stroke="#8c0a24" stroke-width="0.6"/>
<circle cx="492.50" cy="268.10" r="2.2" fill="#c2163a" stroke="#8c0a24" stroke-width="0.6"/>
<circle cx="488.10" cy="276.30" r="2.2" fill="#c2163a" stroke="#8c0a24" stroke-width="0.6"/>
<circle cx="483.80" cy="280.80" r="2.2" fill="#c2163a" stroke="#8c0a24" stroke-width="0.6"/>
<circle cx="492.50" cy="280.20" r="2.2" fill="#c2163a" stroke="#8c0a24" stroke-width="0.6"/>
<circle cx="488.10" cy="300.40" r="2.2" fill="#c2163a" stroke="#8c0a24" stroke-width="0.6"/>
<circle cx="488.10" cy="310.40" r="2.2" fill="#c2163a" stroke="#8c0a24" stroke-width="0.6"/>
<text transform="translate(162.30,269.50) rotate(-90)" x="0" y="0" font-size="10" text-anchor="middle" textLength="87.50" lengthAdjust="spacingAndGlyphs" fill="#3a3a3a" color="#3a3a3a">% Increase in apoptosis</text>
<text transform="translate(174.30,268.60) rotate(-90)" x="0" y="0" font-size="10" text-anchor="middle" textLength="91.00" lengthAdjust="spacingAndGlyphs" fill="#3a3a3a" color="#3a3a3a">(to control w/o DOT cells)</text>
<line x1="41.50" y1="394.70" x2="41.50" y2="504.00" stroke="#333" stroke-width="1.3"/>
<line x1="41.00" y1="503.50" x2="160.40" y2="503.50" stroke="#333" stroke-width="1.3"/>
<text x="35.70" y="506.60" font-size="8.5" text-anchor="end" fill="#3a3a3a" color="#3a3a3a">0</text>
<line x1="38.30" y1="503.50" x2="41.50" y2="503.50" stroke="#333" stroke-width="1.15"/>
<line x1="41.90" y1="503.50" x2="41.90" y2="506.20" stroke="#333" stroke-width="1.15"/>
<text x="41.90" y="516.80" font-size="8.5" text-anchor="middle" fill="#3a3a3a" color="#3a3a3a">0</text>
<text x="35.70" y="485.20" font-size="8.5" text-anchor="end" fill="#3a3a3a" color="#3a3a3a">20</text>
<line x1="38.30" y1="482.10" x2="41.50" y2="482.10" stroke="#333" stroke-width="1.15"/>
<line x1="64.90" y1="503.50" x2="64.90" y2="506.20" stroke="#333" stroke-width="1.15"/>
<text x="64.90" y="516.80" font-size="8.5" text-anchor="middle" fill="#3a3a3a" color="#3a3a3a">20</text>
<text x="35.70" y="463.80" font-size="8.5" text-anchor="end" fill="#3a3a3a" color="#3a3a3a">40</text>
<line x1="38.30" y1="460.70" x2="41.50" y2="460.70" stroke="#333" stroke-width="1.15"/>
<line x1="87.90" y1="503.50" x2="87.90" y2="506.20" stroke="#333" stroke-width="1.15"/>
<text x="87.90" y="516.80" font-size="8.5" text-anchor="middle" fill="#3a3a3a" color="#3a3a3a">40</text>
<text x="35.70" y="442.40" font-size="8.5" text-anchor="end" fill="#3a3a3a" color="#3a3a3a">60</text>
<line x1="38.30" y1="439.30" x2="41.50" y2="439.30" stroke="#333" stroke-width="1.15"/>
<line x1="110.90" y1="503.50" x2="110.90" y2="506.20" stroke="#333" stroke-width="1.15"/>
<text x="110.90" y="516.80" font-size="8.5" text-anchor="middle" fill="#3a3a3a" color="#3a3a3a">60</text>
<text x="35.70" y="421.00" font-size="8.5" text-anchor="end" fill="#3a3a3a" color="#3a3a3a">80</text>
<line x1="38.30" y1="417.90" x2="41.50" y2="417.90" stroke="#333" stroke-width="1.15"/>
<line x1="133.90" y1="503.50" x2="133.90" y2="506.20" stroke="#333" stroke-width="1.15"/>
<text x="133.90" y="516.80" font-size="8.5" text-anchor="middle" fill="#3a3a3a" color="#3a3a3a">80</text>
<text x="35.70" y="399.60" font-size="8.5" text-anchor="end" fill="#3a3a3a" color="#3a3a3a">100</text>
<line x1="38.30" y1="396.50" x2="41.50" y2="396.50" stroke="#333" stroke-width="1.15"/>
<line x1="156.90" y1="503.50" x2="156.90" y2="506.20" stroke="#333" stroke-width="1.15"/>
<text x="156.90" y="516.80" font-size="8.5" text-anchor="middle" fill="#3a3a3a" color="#3a3a3a">100</text>
<line x1="41.90" y1="503.50" x2="156.90" y2="396.50" stroke="#b05a6a" stroke-width="0.75" stroke-dasharray="1.1,0.9"/>
<path d="M41.90,503.50 L46.50,503.50 L51.10,503.50 L51.10,485.66 L51.10,467.84 L55.70,467.84 L60.30,467.84 L60.30,450.00 L60.30,432.16 L64.90,432.16 L69.50,432.16 L69.50,414.34 L74.10,414.34 L74.10,396.50 L78.70,396.50 L83.30,396.50 L87.90,396.50 L92.50,396.50 L97.10,396.50 L101.70,396.50 L106.30,396.50 L110.90,396.50 L115.50,396.50 L120.10,396.50 L124.70,396.50 L129.30,396.50 L133.90,396.50 L138.50,396.50 L143.10,396.50 L147.70,396.50 L152.30,396.50 L156.90,396.50" stroke="#c4122f" stroke-width="0.9" fill="none"/>
<circle cx="41.90" cy="503.50" r="2.5" fill="#c4122f"/>
<circle cx="46.50" cy="503.50" r="2.5" fill="#c4122f"/>
<circle cx="51.10" cy="503.50" r="2.5" fill="#c4122f"/>
<circle cx="51.10" cy="485.66" r="2.5" fill="#c4122f"/>
<circle cx="51.10" cy="467.84" r="2.5" fill="#c4122f"/>
<circle cx="55.70" cy="467.84" r="2.5" fill="#c4122f"/>
<circle cx="60.30" cy="467.84" r="2.5" fill="#c4122f"/>
<circle cx="60.30" cy="450.00" r="2.5" fill="#c4122f"/>
<circle cx="60.30" cy="432.16" r="2.5" fill="#c4122f"/>
<circle cx="64.90" cy="432.16" r="2.5" fill="#c4122f"/>
<circle cx="69.50" cy="432.16" r="2.5" fill="#c4122f"/>
<circle cx="69.50" cy="414.34" r="2.5" fill="#c4122f"/>
<circle cx="74.10" cy="414.34" r="2.5" fill="#c4122f"/>
<circle cx="74.10" cy="396.50" r="2.5" fill="#c4122f"/>
<circle cx="78.70" cy="396.50" r="2.5" fill="#c4122f"/>
<circle cx="83.30" cy="396.50" r="2.5" fill="#c4122f"/>
<circle cx="87.90" cy="396.50" r="2.5" fill="#c4122f"/>
<circle cx="92.50" cy="396.50" r="2.5" fill="#c4122f"/>
<circle cx="97.10" cy="396.50" r="2.5" fill="#c4122f"/>
<circle cx="101.70" cy="396.50" r="2.5" fill="#c4122f"/>
<circle cx="106.30" cy="396.50" r="2.5" fill="#c4122f"/>
<circle cx="110.90" cy="396.50" r="2.5" fill="#c4122f"/>
<circle cx="115.50" cy="396.50" r="2.5" fill="#c4122f"/>
<circle cx="120.10" cy="396.50" r="2.5" fill="#c4122f"/>
<circle cx="124.70" cy="396.50" r="2.5" fill="#c4122f"/>
<circle cx="129.30" cy="396.50" r="2.5" fill="#c4122f"/>
<circle cx="133.90" cy="396.50" r="2.5" fill="#c4122f"/>
<circle cx="138.50" cy="396.50" r="2.5" fill="#c4122f"/>
<circle cx="143.10" cy="396.50" r="2.5" fill="#c4122f"/>
<circle cx="147.70" cy="396.50" r="2.5" fill="#c4122f"/>
<circle cx="152.30" cy="396.50" r="2.5" fill="#c4122f"/>
<circle cx="156.90" cy="396.50" r="2.5" fill="#c4122f"/>
<text x="101.00" y="385.40" font-size="8.2" text-anchor="middle" textLength="14.50" lengthAdjust="spacingAndGlyphs" fill="#3a3a3a" color="#3a3a3a">PVR</text>
<text x="101.00" y="530.50" font-size="9.8" text-anchor="middle" textLength="49.70" lengthAdjust="spacingAndGlyphs" fill="#3a3a3a" color="#3a3a3a">Specificity (%)</text>
<line x1="47.20" y1="544.60" x2="59.20" y2="544.60" stroke="#c4122f" stroke-width="1.1"/>
<circle cx="53.20" cy="544.60" r="2.3" fill="#c4122f"/>
<text x="63.20" y="547.50" font-size="8.3" textLength="90.50" lengthAdjust="spacingAndGlyphs" fill="#3a3a3a" color="#3a3a3a">AUC = 0.8333 <tspan font-style="italic">P</tspan> = .0124</text>
<line x1="193.90" y1="395.80" x2="193.90" y2="505.10" stroke="#333" stroke-width="1.3"/>
<line x1="193.40" y1="504.60" x2="312.70" y2="504.60" stroke="#333" stroke-width="1.3"/>
<text x="187.50" y="507.70" font-size="8.5" text-anchor="end" fill="#3a3a3a" color="#3a3a3a">0</text>
<line x1="190.70" y1="504.60" x2="193.90" y2="504.60" stroke="#333" stroke-width="1.15"/>
<line x1="193.70" y1="504.60" x2="193.70" y2="507.30" stroke="#333" stroke-width="1.15"/>
<text x="193.70" y="516.80" font-size="8.5" text-anchor="middle" fill="#3a3a3a" color="#3a3a3a">0</text>
<text x="187.50" y="486.30" font-size="8.5" text-anchor="end" fill="#3a3a3a" color="#3a3a3a">20</text>
<line x1="190.70" y1="483.20" x2="193.90" y2="483.20" stroke="#333" stroke-width="1.15"/>
<line x1="216.80" y1="504.60" x2="216.80" y2="507.30" stroke="#333" stroke-width="1.15"/>
<text x="216.80" y="516.80" font-size="8.5" text-anchor="middle" fill="#3a3a3a" color="#3a3a3a">20</text>
<text x="187.50" y="464.90" font-size="8.5" text-anchor="end" fill="#3a3a3a" color="#3a3a3a">40</text>
<line x1="190.70" y1="461.80" x2="193.90" y2="461.80" stroke="#333" stroke-width="1.15"/>
<line x1="239.90" y1="504.60" x2="239.90" y2="507.30" stroke="#333" stroke-width="1.15"/>
<text x="239.90" y="516.80" font-size="8.5" text-anchor="middle" fill="#3a3a3a" color="#3a3a3a">40</text>
<text x="187.50" y="443.50" font-size="8.5" text-anchor="end" fill="#3a3a3a" color="#3a3a3a">60</text>
<line x1="190.70" y1="440.40" x2="193.90" y2="440.40" stroke="#333" stroke-width="1.15"/>
<line x1="263.00" y1="504.60" x2="263.00" y2="507.30" stroke="#333" stroke-width="1.15"/>
<text x="263.00" y="516.80" font-size="8.5" text-anchor="middle" fill="#3a3a3a" color="#3a3a3a">60</text>
<text x="187.50" y="422.10" font-size="8.5" text-anchor="end" fill="#3a3a3a" color="#3a3a3a">80</text>
<line x1="190.70" y1="419.00" x2="193.90" y2="419.00" stroke="#333" stroke-width="1.15"/>
<line x1="286.10" y1="504.60" x2="286.10" y2="507.30" stroke="#333" stroke-width="1.15"/>
<text x="286.10" y="516.80" font-size="8.5" text-anchor="middle" fill="#3a3a3a" color="#3a3a3a">80</text>
<text x="187.50" y="400.70" font-size="8.5" text-anchor="end" fill="#3a3a3a" color="#3a3a3a">100</text>
<line x1="190.70" y1="397.60" x2="193.90" y2="397.60" stroke="#333" stroke-width="1.15"/>
<line x1="309.20" y1="504.60" x2="309.20" y2="507.30" stroke="#333" stroke-width="1.15"/>
<text x="309.20" y="516.80" font-size="8.5" text-anchor="middle" fill="#3a3a3a" color="#3a3a3a">100</text>
<line x1="193.70" y1="504.60" x2="309.20" y2="397.60" stroke="#b05a6a" stroke-width="0.75" stroke-dasharray="1.1,0.9"/>
<path d="M193.70,504.60 L199.20,504.60 L204.70,504.60 L204.70,493.90 L204.70,483.20 L210.20,483.20 L215.70,483.20 L215.70,472.50 L215.70,461.80 L221.20,461.80 L221.20,451.10 L221.20,440.40 L221.20,429.70 L221.20,419.00 L226.70,419.00 L232.20,419.00 L232.20,408.30 L237.70,408.30 L243.20,408.30 L243.20,397.60 L248.70,397.60 L254.20,397.60 L259.70,397.60 L265.20,397.60 L270.70,397.60 L276.20,397.60 L281.70,397.60 L287.20,397.60 L292.70,397.60 L298.20,397.60 L303.70,397.60 L309.20,397.60" stroke="#1f4e79" stroke-width="0.9" fill="none"/>
<circle cx="193.70" cy="504.60" r="2.5" fill="#1f4e79"/>
<circle cx="199.20" cy="504.60" r="2.5" fill="#1f4e79"/>
<circle cx="204.70" cy="504.60" r="2.5" fill="#1f4e79"/>
<circle cx="204.70" cy="493.90" r="2.5" fill="#1f4e79"/>
<circle cx="204.70" cy="483.20" r="2.5" fill="#1f4e79"/>
<circle cx="210.20" cy="483.20" r="2.5" fill="#1f4e79"/>
<circle cx="215.70" cy="483.20" r="2.5" fill="#1f4e79"/>
<circle cx="215.70" cy="472.50" r="2.5" fill="#1f4e79"/>
<circle cx="215.70" cy="461.80" r="2.5" fill="#1f4e79"/>
<circle cx="221.20" cy="461.80" r="2.5" fill="#1f4e79"/>
<circle cx="221.20" cy="451.10" r="2.5" fill="#1f4e79"/>
<circle cx="221.20" cy="440.40" r="2.5" fill="#1f4e79"/>
<circle cx="221.20" cy="429.70" r="2.5" fill="#1f4e79"/>
<circle cx="221.20" cy="419.00" r="2.5" fill="#1f4e79"/>
<circle cx="226.70" cy="419.00" r="2.5" fill="#1f4e79"/>
<circle cx="232.20" cy="419.00" r="2.5" fill="#1f4e79"/>
<circle cx="232.20" cy="408.30" r="2.5" fill="#1f4e79"/>
<circle cx="237.70" cy="408.30" r="2.5" fill="#1f4e79"/>
<circle cx="243.20" cy="408.30" r="2.5" fill="#1f4e79"/>
<circle cx="243.20" cy="397.60" r="2.5" fill="#1f4e79"/>
<circle cx="248.70" cy="397.60" r="2.5" fill="#1f4e79"/>
<circle cx="254.20" cy="397.60" r="2.5" fill="#1f4e79"/>
<circle cx="259.70" cy="397.60" r="2.5" fill="#1f4e79"/>
<circle cx="265.20" cy="397.60" r="2.5" fill="#1f4e79"/>
<circle cx="270.70" cy="397.60" r="2.5" fill="#1f4e79"/>
<circle cx="276.20" cy="397.60" r="2.5" fill="#1f4e79"/>
<circle cx="281.70" cy="397.60" r="2.5" fill="#1f4e79"/>
<circle cx="287.20" cy="397.60" r="2.5" fill="#1f4e79"/>
<circle cx="292.70" cy="397.60" r="2.5" fill="#1f4e79"/>
<circle cx="298.20" cy="397.60" r="2.5" fill="#1f4e79"/>
<circle cx="303.70" cy="397.60" r="2.5" fill="#1f4e79"/>
<circle cx="309.20" cy="397.60" r="2.5" fill="#1f4e79"/>
<text x="253.10" y="386.30" font-size="8.2" text-anchor="middle" textLength="32.00" lengthAdjust="spacingAndGlyphs" fill="#3a3a3a" color="#3a3a3a">Nectin-2</text>
<text x="252.00" y="530.50" font-size="9.8" text-anchor="middle" textLength="48.50" lengthAdjust="spacingAndGlyphs" fill="#3a3a3a" color="#3a3a3a">Specificity (%)</text>
<line x1="199.40" y1="543.60" x2="211.40" y2="543.60" stroke="#1f4e79" stroke-width="1.1"/>
<circle cx="205.40" cy="543.60" r="2.3" fill="#1f4e79"/>
<text x="215.40" y="546.50" font-size="8.3" textLength="92.40" lengthAdjust="spacingAndGlyphs" fill="#3a3a3a" color="#3a3a3a">AUC = 0.7714 <tspan font-style="italic">P</tspan> = .0160</text>
<line x1="345.70" y1="394.30" x2="345.70" y2="503.80" stroke="#333" stroke-width="1.3"/>
<line x1="345.20" y1="503.30" x2="464.00" y2="503.30" stroke="#333" stroke-width="1.3"/>
<text x="339.10" y="506.40" font-size="8.5" text-anchor="end" fill="#3a3a3a" color="#3a3a3a">0</text>
<line x1="342.50" y1="503.30" x2="345.70" y2="503.30" stroke="#333" stroke-width="1.15"/>
<line x1="345.50" y1="503.30" x2="345.50" y2="506.00" stroke="#333" stroke-width="1.15"/>
<text x="345.50" y="516.80" font-size="8.5" text-anchor="middle" fill="#3a3a3a" color="#3a3a3a">0</text>
<text x="339.10" y="484.96" font-size="8.5" text-anchor="end" fill="#3a3a3a" color="#3a3a3a">20</text>
<line x1="342.50" y1="481.86" x2="345.70" y2="481.86" stroke="#333" stroke-width="1.15"/>
<line x1="368.50" y1="503.30" x2="368.50" y2="506.00" stroke="#333" stroke-width="1.15"/>
<text x="368.50" y="516.80" font-size="8.5" text-anchor="middle" fill="#3a3a3a" color="#3a3a3a">20</text>
<text x="339.10" y="463.52" font-size="8.5" text-anchor="end" fill="#3a3a3a" color="#3a3a3a">40</text>
<line x1="342.50" y1="460.42" x2="345.70" y2="460.42" stroke="#333" stroke-width="1.15"/>
<line x1="391.50" y1="503.30" x2="391.50" y2="506.00" stroke="#333" stroke-width="1.15"/>
<text x="391.50" y="516.80" font-size="8.5" text-anchor="middle" fill="#3a3a3a" color="#3a3a3a">40</text>
<text x="339.10" y="442.08" font-size="8.5" text-anchor="end" fill="#3a3a3a" color="#3a3a3a">60</text>
<line x1="342.50" y1="438.98" x2="345.70" y2="438.98" stroke="#333" stroke-width="1.15"/>
<line x1="414.50" y1="503.30" x2="414.50" y2="506.00" stroke="#333" stroke-width="1.15"/>
<text x="414.50" y="516.80" font-size="8.5" text-anchor="middle" fill="#3a3a3a" color="#3a3a3a">60</text>
<text x="339.10" y="420.64" font-size="8.5" text-anchor="end" fill="#3a3a3a" color="#3a3a3a">80</text>
<line x1="342.50" y1="417.54" x2="345.70" y2="417.54" stroke="#333" stroke-width="1.15"/>
<line x1="437.50" y1="503.30" x2="437.50" y2="506.00" stroke="#333" stroke-width="1.15"/>
<text x="437.50" y="516.80" font-size="8.5" text-anchor="middle" fill="#3a3a3a" color="#3a3a3a">80</text>
<text x="339.10" y="399.20" font-size="8.5" text-anchor="end" fill="#3a3a3a" color="#3a3a3a">100</text>
<line x1="342.50" y1="396.10" x2="345.70" y2="396.10" stroke="#333" stroke-width="1.15"/>
<line x1="460.50" y1="503.30" x2="460.50" y2="506.00" stroke="#333" stroke-width="1.15"/>
<text x="460.50" y="516.80" font-size="8.5" text-anchor="middle" fill="#3a3a3a" color="#3a3a3a">100</text>
<line x1="345.50" y1="503.30" x2="460.50" y2="396.10" stroke="#b05a6a" stroke-width="0.75" stroke-dasharray="1.1,0.9"/>
<path d="M345.50,503.30 L345.50,498.64 L359.88,498.64 L374.25,498.64 L374.25,493.98 L374.25,489.32 L374.25,484.66 L374.25,480.00 L374.25,475.33 L374.25,470.67 L374.25,466.01 L374.25,461.35 L374.25,456.69 L374.25,452.03 L374.25,447.37 L374.25,442.71 L388.62,442.71 L388.62,438.05 L403.00,438.05 L417.38,438.05 L417.38,433.39 L417.38,428.73 L431.75,428.73 L446.12,428.73 L446.12,424.07 L446.12,419.40 L446.12,414.74 L446.12,410.08 L446.12,405.42 L446.12,400.76 L446.12,396.10 L460.50,396.10" stroke="#3cb043" stroke-width="0.9" fill="none"/>
<circle cx="345.50" cy="503.30" r="2.5" fill="#3cb043"/>
<circle cx="345.50" cy="498.64" r="2.5" fill="#3cb043"/>
<circle cx="359.88" cy="498.64" r="2.5" fill="#3cb043"/>
<circle cx="374.25" cy="498.64" r="2.5" fill="#3cb043"/>
<circle cx="374.25" cy="493.98" r="2.5" fill="#3cb043"/>
<circle cx="374.25" cy="489.32" r="2.5" fill="#3cb043"/>
<circle cx="374.25" cy="484.66" r="2.5" fill="#3cb043"/>
<circle cx="374.25" cy="480.00" r="2.5" fill="#3cb043"/>
<circle cx="374.25" cy="475.33" r="2.5" fill="#3cb043"/>
<circle cx="374.25" cy="470.67" r="2.5" fill="#3cb043"/>
<circle cx="374.25" cy="466.01" r="2.5" fill="#3cb043"/>
<circle cx="374.25" cy="461.35" r="2.5" fill="#3cb043"/>
<circle cx="374.25" cy="456.69" r="2.5" fill="#3cb043"/>
<circle cx="374.25" cy="452.03" r="2.5" fill="#3cb043"/>
<circle cx="374.25" cy="447.37" r="2.5" fill="#3cb043"/>
<circle cx="374.25" cy="442.71" r="2.5" fill="#3cb043"/>
<circle cx="388.62" cy="442.71" r="2.5" fill="#3cb043"/>
<circle cx="388.62" cy="438.05" r="2.5" fill="#3cb043"/>
<circle cx="403.00" cy="438.05" r="2.5" fill="#3cb043"/>
<circle cx="417.38" cy="438.05" r="2.5" fill="#3cb043"/>
<circle cx="417.38" cy="433.39" r="2.5" fill="#3cb043"/>
<circle cx="417.38" cy="428.73" r="2.5" fill="#3cb043"/>
<circle cx="431.75" cy="428.73" r="2.5" fill="#3cb043"/>
<circle cx="446.12" cy="428.73" r="2.5" fill="#3cb043"/>
<circle cx="446.12" cy="424.07" r="2.5" fill="#3cb043"/>
<circle cx="446.12" cy="419.40" r="2.5" fill="#3cb043"/>
<circle cx="446.12" cy="414.74" r="2.5" fill="#3cb043"/>
<circle cx="446.12" cy="410.08" r="2.5" fill="#3cb043"/>
<circle cx="446.12" cy="405.42" r="2.5" fill="#3cb043"/>
<circle cx="446.12" cy="400.76" r="2.5" fill="#3cb043"/>
<circle cx="446.12" cy="396.10" r="2.5" fill="#3cb043"/>
<circle cx="460.50" cy="396.10" r="2.5" fill="#3cb043"/>
<text x="404.40" y="384.90" font-size="8.2" text-anchor="middle" textLength="23.60" lengthAdjust="spacingAndGlyphs" fill="#3a3a3a" color="#3a3a3a">B7-H6</text>
<text x="404.60" y="530.50" font-size="9.8" text-anchor="middle" textLength="48.50" lengthAdjust="spacingAndGlyphs" fill="#3a3a3a" color="#3a3a3a">Specificity (%)</text>
<line x1="350.80" y1="543.80" x2="362.80" y2="543.80" stroke="#3cb043" stroke-width="1.1"/>
<circle cx="356.80" cy="543.80" r="2.3" fill="#3cb043"/>
<text x="366.80" y="546.70" font-size="8.3" textLength="92.10" lengthAdjust="spacingAndGlyphs" fill="#3a3a3a" color="#3a3a3a">AUC = 0.5326 <tspan font-style="italic">P</tspan> = .7865</text>
<text transform="translate(15.10,448.20) rotate(-90)" x="0" y="0" font-size="9.8" text-anchor="middle" textLength="49.50" lengthAdjust="spacingAndGlyphs" fill="#3a3a3a" color="#3a3a3a">Sensitivity (%)</text>
<line x1="176.90" y1="588.30" x2="176.90" y2="688.70" stroke="#333" stroke-width="1.3"/>
<line x1="176.40" y1="688.20" x2="248.80" y2="688.20" stroke="#333" stroke-width="1.3"/>
<text x="170.20" y="593.40" font-size="8.5" text-anchor="end" fill="#3a3a3a" color="#3a3a3a">2.5</text>
<line x1="173.70" y1="590.30" x2="176.90" y2="590.30" stroke="#333" stroke-width="1.15"/>
<text x="170.20" y="612.98" font-size="8.5" text-anchor="end" fill="#3a3a3a" color="#3a3a3a">2.0</text>
<line x1="173.70" y1="609.88" x2="176.90" y2="609.88" stroke="#333" stroke-width="1.15"/>
<text x="170.20" y="632.56" font-size="8.5" text-anchor="end" fill="#3a3a3a" color="#3a3a3a">1.5</text>
<line x1="173.70" y1="629.46" x2="176.90" y2="629.46" stroke="#333" stroke-width="1.15"/>
<text x="170.20" y="652.14" font-size="8.5" text-anchor="end" fill="#3a3a3a" color="#3a3a3a">1.0</text>
<line x1="173.70" y1="649.04" x2="176.90" y2="649.04" stroke="#333" stroke-width="1.15"/>
<text x="170.20" y="671.72" font-size="8.5" text-anchor="end" fill="#3a3a3a" color="#3a3a3a">0.5</text>
<line x1="173.70" y1="668.62" x2="176.90" y2="668.62" stroke="#333" stroke-width="1.15"/>
<text x="170.20" y="691.30" font-size="8.5" text-anchor="end" fill="#3a3a3a" color="#3a3a3a">0.0</text>
<line x1="173.70" y1="688.20" x2="176.90" y2="688.20" stroke="#333" stroke-width="1.15"/>
<rect x="184.20" y="648.90" width="14.50" height="39.30" fill="#45566a" stroke="#333" stroke-width="0.6"/>
<rect x="205.80" y="648.80" width="14.50" height="39.40" fill="#bcbcbe" stroke="#333" stroke-width="0.6"/>
<rect x="227.20" y="632.00" width="14.50" height="56.20" fill="#877cbd" stroke="#333" stroke-width="0.6"/>
<line x1="191.20" y1="688.20" x2="191.20" y2="691.00" stroke="#333" stroke-width="1.15"/>
<line x1="212.80" y1="688.20" x2="212.80" y2="691.00" stroke="#333" stroke-width="1.15"/>
<line x1="234.60" y1="688.20" x2="234.60" y2="691.00" stroke="#333" stroke-width="1.15"/>
<line x1="234.60" y1="622.00" x2="234.60" y2="643.00" stroke="#222" stroke-width="0.9"/>
<line x1="232.30" y1="622.00" x2="236.90" y2="622.00" stroke="#222" stroke-width="0.9"/>
<line x1="232.30" y1="643.00" x2="236.90" y2="643.00" stroke="#222" stroke-width="0.9"/>
<circle cx="185.40" cy="649.20" r="1.85" fill="#fff" stroke="#2a2a2a" stroke-width="0.85"/>
<circle cx="191.20" cy="649.20" r="1.85" fill="#fff" stroke="#2a2a2a" stroke-width="0.85"/>
<circle cx="196.90" cy="649.20" r="1.85" fill="#fff" stroke="#2a2a2a" stroke-width="0.85"/>
<circle cx="213.10" cy="644.60" r="1.85" fill="#fff" stroke="#2a2a2a" stroke-width="0.85"/>
<circle cx="213.10" cy="652.30" r="1.85" fill="#fff" stroke="#2a2a2a" stroke-width="0.85"/>
<circle cx="234.60" cy="610.80" r="1.85" fill="#fff" stroke="#2a2a2a" stroke-width="0.85"/>
<circle cx="231.50" cy="620.80" r="1.85" fill="#fff" stroke="#2a2a2a" stroke-width="0.85"/>
<circle cx="237.40" cy="619.20" r="1.85" fill="#fff" stroke="#2a2a2a" stroke-width="0.85"/>
<circle cx="228.90" cy="628.20" r="1.85" fill="#fff" stroke="#2a2a2a" stroke-width="0.85"/>
<circle cx="240.00" cy="631.10" r="1.85" fill="#fff" stroke="#2a2a2a" stroke-width="0.85"/>
<circle cx="234.60" cy="632.30" r="1.85" fill="#fff" stroke="#2a2a2a" stroke-width="0.85"/>
<circle cx="228.90" cy="638.50" r="1.85" fill="#fff" stroke="#2a2a2a" stroke-width="0.85"/>
<circle cx="234.60" cy="636.20" r="1.85" fill="#fff" stroke="#2a2a2a" stroke-width="0.85"/>
<circle cx="240.00" cy="637.20" r="1.85" fill="#fff" stroke="#2a2a2a" stroke-width="0.85"/>
<circle cx="234.60" cy="641.10" r="1.85" fill="#fff" stroke="#2a2a2a" stroke-width="0.85"/>
<circle cx="240.00" cy="641.10" r="1.85" fill="#fff" stroke="#2a2a2a" stroke-width="0.85"/>
<circle cx="234.60" cy="648.50" r="1.85" fill="#fff" stroke="#2a2a2a" stroke-width="0.85"/>
<text x="212.90" y="582.20" font-size="8.3" text-anchor="middle" textLength="21.80" lengthAdjust="spacingAndGlyphs" fill="#3a3a3a" color="#3a3a3a">CD69</text>
<text x="212.70" y="593.80" font-size="8.8" text-anchor="middle" textLength="25.40" lengthAdjust="spacingAndGlyphs" fill="#3a3a3a" color="#3a3a3a">0.0289</text>
<path d="M191.2,645.0 V598.9 H234.6 V604.6" stroke="#333" stroke-width="1.15" fill="none"/>
<text transform="translate(142.60,637.70) rotate(-90)" x="0" y="0" font-size="9.8" text-anchor="middle" textLength="42.70" lengthAdjust="spacingAndGlyphs" fill="#3a3a3a" color="#3a3a3a">Fold change</text>
<text transform="translate(152.20,637.70) rotate(-90)" x="0" y="0" font-size="9.8" text-anchor="middle" textLength="75.00" lengthAdjust="spacingAndGlyphs" fill="#3a3a3a" color="#3a3a3a">(% positive DOT cells)</text>
<text transform="translate(193.70,697.10) rotate(-45)" x="0" y="0" font-size="8.4" text-anchor="end" textLength="24.20" lengthAdjust="spacingAndGlyphs" fill="#3a3a3a" color="#3a3a3a">Alone</text>
<text transform="translate(217.60,697.00) rotate(-45)" x="0" y="0" font-size="8.4" text-anchor="end" textLength="47.00" lengthAdjust="spacingAndGlyphs" fill="#3a3a3a" color="#3a3a3a">+ PVR<tspan font-size="5.5" dy="-3">−</tspan><tspan dy="3"> AML</tspan></text>
<text transform="translate(239.40,697.00) rotate(-45)" x="0" y="0" font-size="8.4" text-anchor="end" textLength="47.00" lengthAdjust="spacingAndGlyphs" fill="#3a3a3a" color="#3a3a3a">+ PVR<tspan font-size="5.5" dy="-3">+</tspan><tspan dy="3"> AML</tspan></text>
<line x1="302.70" y1="590.60" x2="302.70" y2="691.70" stroke="#333" stroke-width="1.3"/>
<line x1="302.20" y1="691.20" x2="374.60" y2="691.20" stroke="#333" stroke-width="1.3"/>
<text x="297.90" y="595.80" font-size="8.5" text-anchor="end" fill="#3a3a3a" color="#3a3a3a">2.0</text>
<line x1="299.50" y1="592.70" x2="302.70" y2="592.70" stroke="#333" stroke-width="1.15"/>
<text x="297.90" y="620.43" font-size="8.5" text-anchor="end" fill="#3a3a3a" color="#3a3a3a">1.5</text>
<line x1="299.50" y1="617.33" x2="302.70" y2="617.33" stroke="#333" stroke-width="1.15"/>
<text x="297.90" y="645.05" font-size="8.5" text-anchor="end" fill="#3a3a3a" color="#3a3a3a">1.0</text>
<line x1="299.50" y1="641.95" x2="302.70" y2="641.95" stroke="#333" stroke-width="1.15"/>
<text x="297.90" y="669.68" font-size="8.5" text-anchor="end" fill="#3a3a3a" color="#3a3a3a">0.5</text>
<line x1="299.50" y1="666.58" x2="302.70" y2="666.58" stroke="#333" stroke-width="1.15"/>
<text x="297.90" y="694.30" font-size="8.5" text-anchor="end" fill="#3a3a3a" color="#3a3a3a">0.0</text>
<line x1="299.50" y1="691.20" x2="302.70" y2="691.20" stroke="#333" stroke-width="1.15"/>
<rect x="310.50" y="642.30" width="14.40" height="48.90" fill="#45566a" stroke="#333" stroke-width="0.6"/>
<rect x="331.80" y="639.30" width="14.40" height="51.90" fill="#bcbcbe" stroke="#333" stroke-width="0.6"/>
<rect x="353.40" y="630.10" width="14.40" height="61.10" fill="#877cbd" stroke="#333" stroke-width="0.6"/>
<line x1="317.30" y1="691.20" x2="317.30" y2="694.00" stroke="#333" stroke-width="1.15"/>
<line x1="338.70" y1="691.20" x2="338.70" y2="694.00" stroke="#333" stroke-width="1.15"/>
<line x1="360.60" y1="691.20" x2="360.60" y2="694.00" stroke="#333" stroke-width="1.15"/>
<line x1="360.60" y1="622.50" x2="360.60" y2="636.00" stroke="#222" stroke-width="0.9"/>
<line x1="358.30" y1="622.50" x2="362.90" y2="622.50" stroke="#222" stroke-width="0.9"/>
<line x1="358.30" y1="636.00" x2="362.90" y2="636.00" stroke="#222" stroke-width="0.9"/>
<circle cx="312.00" cy="642.70" r="1.85" fill="#fff" stroke="#2a2a2a" stroke-width="0.85"/>
<circle cx="317.40" cy="642.70" r="1.85" fill="#fff" stroke="#2a2a2a" stroke-width="0.85"/>
<circle cx="323.10" cy="642.70" r="1.85" fill="#fff" stroke="#2a2a2a" stroke-width="0.85"/>
<circle cx="335.70" cy="639.60" r="1.85" fill="#fff" stroke="#2a2a2a" stroke-width="0.85"/>
<circle cx="341.50" cy="637.80" r="1.85" fill="#fff" stroke="#2a2a2a" stroke-width="0.85"/>
<circle cx="358.20" cy="618.40" r="1.85" fill="#fff" stroke="#2a2a2a" stroke-width="0.85"/>
<circle cx="362.30" cy="620.80" r="1.85" fill="#fff" stroke="#2a2a2a" stroke-width="0.85"/>
<circle cx="358.50" cy="623.00" r="1.85" fill="#fff" stroke="#2a2a2a" stroke-width="0.85"/>
<circle cx="354.60" cy="630.70" r="1.85" fill="#fff" stroke="#2a2a2a" stroke-width="0.85"/>
<circle cx="358.90" cy="629.20" r="1.85" fill="#fff" stroke="#2a2a2a" stroke-width="0.85"/>
<circle cx="362.30" cy="629.60" r="1.85" fill="#fff" stroke="#2a2a2a" stroke-width="0.85"/>
<circle cx="366.20" cy="631.90" r="1.85" fill="#fff" stroke="#2a2a2a" stroke-width="0.85"/>
<circle cx="358.90" cy="632.70" r="1.85" fill="#fff" stroke="#2a2a2a" stroke-width="0.85"/>
<circle cx="362.30" cy="633.80" r="1.85" fill="#fff" stroke="#2a2a2a" stroke-width="0.85"/>
<circle cx="356.90" cy="637.80" r="1.85" fill="#fff" stroke="#2a2a2a" stroke-width="0.85"/>
<circle cx="360.80" cy="637.30" r="1.85" fill="#fff" stroke="#2a2a2a" stroke-width="0.85"/>
<circle cx="363.80" cy="637.80" r="1.85" fill="#fff" stroke="#2a2a2a" stroke-width="0.85"/>
<text x="338.90" y="582.20" font-size="8.3" text-anchor="middle" textLength="21.30" lengthAdjust="spacingAndGlyphs" fill="#3a3a3a" color="#3a3a3a">CD69</text>
<text x="338.60" y="601.50" font-size="8.8" text-anchor="middle" textLength="25.70" lengthAdjust="spacingAndGlyphs" fill="#3a3a3a" color="#3a3a3a">0.0113</text>
<path d="M317.3,636.5 V607.0 H360.6 V612.7" stroke="#333" stroke-width="1.15" fill="none"/>
<text transform="translate(268.10,640.70) rotate(-90)" x="0" y="0" font-size="9.8" text-anchor="middle" textLength="42.80" lengthAdjust="spacingAndGlyphs" fill="#3a3a3a" color="#3a3a3a">Fold change</text>
<text transform="translate(277.70,640.70) rotate(-90)" x="0" y="0" font-size="9.8" text-anchor="middle" textLength="77.40" lengthAdjust="spacingAndGlyphs" fill="#3a3a3a" color="#3a3a3a">(MFI CD69<tspan font-size="5.5" dy="-3">+</tspan><tspan dy="3"> DOT cells)</tspan></text>
<text transform="translate(319.80,700.80) rotate(-45)" x="0" y="0" font-size="8.4" text-anchor="end" textLength="24.20" lengthAdjust="spacingAndGlyphs" fill="#3a3a3a" color="#3a3a3a">Alone</text>
<text transform="translate(343.50,700.70) rotate(-45)" x="0" y="0" font-size="8.4" text-anchor="end" textLength="47.00" lengthAdjust="spacingAndGlyphs" fill="#3a3a3a" color="#3a3a3a">+ PVR<tspan font-size="5.5" dy="-3">−</tspan><tspan dy="3"> AML</tspan></text>
<text transform="translate(365.40,700.70) rotate(-45)" x="0" y="0" font-size="8.4" text-anchor="end" textLength="47.00" lengthAdjust="spacingAndGlyphs" fill="#3a3a3a" color="#3a3a3a">+ PVR<tspan font-size="5.5" dy="-3">+</tspan><tspan dy="3"> AML</tspan></text>
</svg>
</body></html>
